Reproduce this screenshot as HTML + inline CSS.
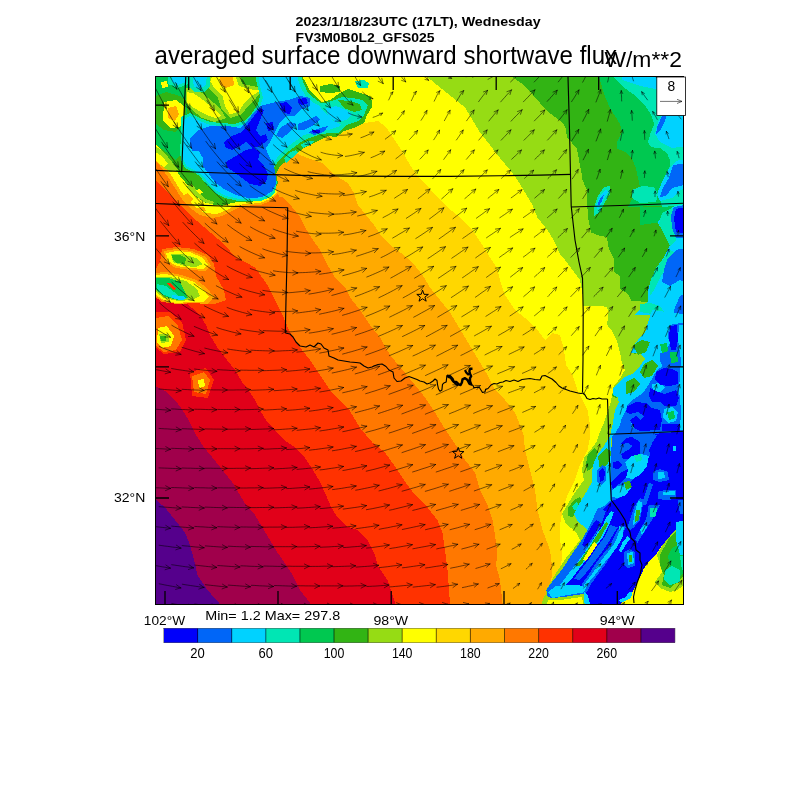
<!DOCTYPE html>
<html><head><meta charset="utf-8"><title>averaged surface downward shortwave flux</title>
<style>html,body{margin:0;padding:0;background:#fff;}body{width:800px;height:800px;overflow:hidden;font-family:"Liberation Sans",sans-serif;}svg{display:block;will-change:transform;}text{font-family:"Liberation Sans",sans-serif;fill:#000;}</style>
</head><body>
<svg width="800" height="800" viewBox="0 0 800 800">
<rect x="0" y="0" width="800" height="800" fill="#ffffff"/>
<defs><clipPath id="pc"><rect x="155.5" y="76.5" width="528.0" height="528.0"/></clipPath></defs>
<g clip-path="url(#pc)" shape-rendering="crispEdges">
<rect x="155.5" y="76.5" width="528.0" height="528.0" fill="#32b414"/>
<path d="M512.5 70.0 L512.5 77.0 L525.0 86.0 L533.0 95.0 L540.0 103.0 L546.0 110.0 L555.0 117.0 L563.0 123.0 L566.0 129.0 L567.0 138.0 L572.0 143.0 L577.0 149.0 L579.0 160.0 L581.0 170.0 L582.5 180.0 L586.5 189.0 L587.3 206.0 L588.3 219.0 L590.9 232.4 L599.0 235.6 L607.0 237.2 L608.7 248.6 L613.6 258.4 L613.6 271.4 L620.0 276.2 L620.0 289.2 L628.2 294.0 L631.5 300.6 L647.7 302.2 L660.0 302.0 L700.0 330.0 L700.0 610.0 L140.0 615.0 L140.0 60.0Z" fill="#96dc14"/>
<path d="M427.5 70.0 L427.5 77.0 L440.0 87.5 L452.5 97.5 L465.0 107.5 L472.5 120.0 L480.0 132.5 L490.0 145.0 L500.0 158.0 L510.0 170.0 L517.5 180.0 L525.0 192.5 L532.5 205.0 L537.5 217.5 L547.5 230.0 L555.0 242.5 L560.0 254.0 L565.0 260.0 L572.5 270.0 L580.0 280.0 L582.7 295.0 L582.7 305.5 L600.0 306.0 L607.0 307.0 L608.7 312.0 L607.0 324.7 L612.0 331.0 L616.9 341.0 L620.0 352.4 L621.7 362.0 L625.0 370.0 L620.0 378.4 L613.6 386.5 L612.0 396.0 L610.0 405.0 L605.0 420.0 L600.0 432.0 L596.0 443.0 L650.0 610.0 L140.0 615.0 L140.0 60.0Z" fill="#ffff00"/>
<path d="M150.0 70.0 L250.0 80.0 L320.0 100.0 L364.0 123.0 L378.0 121.0 L386.0 127.0 L394.0 139.0 L402.0 151.0 L410.0 165.0 L418.0 177.0 L430.0 189.0 L440.0 200.0 L447.5 207.5 L460.0 217.5 L472.5 230.0 L482.5 245.0 L490.0 257.5 L497.0 268.0 L500.0 280.0 L505.0 295.0 L515.0 310.0 L527.5 320.0 L537.5 330.0 L545.0 340.0 L552.5 333.0 L560.0 335.0 L564.0 350.0 L566.0 365.0 L572.5 375.0 L577.5 390.0 L582.5 400.0 L587.5 410.0 L590.0 425.0 L590.0 437.0 L587.5 450.0 L580.0 465.0 L575.0 480.0 L567.5 495.0 L562.5 510.0 L560.0 525.0 L560.0 540.0 L562.5 555.0 L560.0 570.0 L552.0 585.0 L548.0 597.0 L547.0 610.0 L140.0 615.0 L140.0 60.0Z" fill="#ffd700"/>
<path d="M150.0 90.0 L220.0 120.0 L270.0 140.0 L300.0 155.0 L310.0 159.0 L322.0 163.0 L330.0 171.0 L338.0 177.0 L348.0 183.0 L354.0 193.0 L358.0 205.0 L366.0 215.0 L374.0 225.0 L382.0 237.0 L390.0 245.0 L397.5 250.0 L412.5 262.5 L422.5 275.0 L430.0 287.5 L440.0 300.0 L450.0 312.5 L457.5 325.0 L465.0 337.5 L472.5 350.0 L480.0 362.5 L487.5 375.0 L495.0 390.0 L505.0 400.0 L515.0 412.5 L520.0 425.0 L523.5 435.0 L525.0 450.0 L530.0 470.0 L535.0 490.0 L537.5 510.0 L542.5 530.0 L550.0 550.0 L552.5 570.0 L550.0 590.0 L547.5 603.0 L547.0 610.0 L140.0 615.0Z" fill="#ffaa00"/>
<path d="M150.0 120.0 L200.0 160.0 L240.0 185.0 L270.0 196.0 L282.0 197.0 L292.0 207.0 L300.0 217.0 L306.0 229.0 L313.0 240.0 L320.0 250.0 L327.5 265.0 L335.0 277.5 L345.0 287.5 L350.0 297.5 L360.0 310.0 L370.0 325.0 L380.0 337.5 L390.0 355.0 L402.5 370.0 L415.0 385.0 L425.0 397.5 L435.0 412.5 L442.5 425.0 L452.5 440.0 L465.0 460.0 L475.0 472.5 L480.0 490.0 L487.5 505.0 L492.5 520.0 L495.0 535.0 L497.5 552.5 L496.0 565.0 L500.0 580.0 L502.5 603.0 L503.0 610.0 L140.0 615.0Z" fill="#ff7800"/>
<path d="M150.0 175.0 L155.0 180.0 L175.0 200.0 L190.0 215.0 L207.5 230.0 L225.0 245.0 L235.0 257.0 L245.0 262.0 L255.0 267.5 L267.5 285.0 L275.0 300.0 L282.5 315.0 L290.0 332.5 L300.0 347.5 L310.0 360.0 L320.0 375.0 L330.0 390.0 L340.0 401.0 L350.0 411.0 L360.0 428.0 L372.5 442.5 L385.0 452.5 L397.5 470.0 L407.5 485.0 L415.0 495.0 L427.5 507.5 L437.5 520.0 L442.5 532.5 L445.0 550.0 L447.5 570.0 L449.0 590.0 L450.0 603.0 L450.0 610.0 L140.0 615.0Z" fill="#ff3200"/>
<path d="M150.0 297.0 L155.0 298.0 L175.0 301.0 L187.5 304.0 L200.0 315.0 L206.0 325.0 L210.0 335.0 L217.5 347.5 L225.0 357.5 L235.0 370.0 L242.5 382.5 L250.0 392.5 L255.0 400.0 L260.0 410.0 L266.0 420.0 L275.0 430.0 L284.0 440.0 L296.0 448.0 L305.0 458.0 L313.0 470.0 L320.0 482.0 L326.0 495.0 L331.0 507.0 L338.0 518.0 L348.0 527.0 L358.0 530.0 L367.5 540.0 L375.0 555.0 L377.5 565.0 L387.5 580.0 L392.5 595.0 L395.0 603.0 L396.0 610.0 L140.0 615.0Z" fill="#e10019"/>
<path d="M150.0 383.0 L155.0 386.0 L165.0 391.0 L175.0 400.0 L182.5 410.0 L190.0 422.5 L196.0 435.0 L204.0 447.5 L212.5 457.5 L222.5 470.0 L232.5 482.5 L240.0 495.0 L246.0 505.0 L255.0 515.0 L262.5 527.5 L270.0 540.0 L277.5 552.5 L286.0 565.0 L292.5 575.0 L300.0 590.0 L310.0 603.0 L313.0 610.0 L140.0 615.0Z" fill="#a0004b"/>
<path d="M150.0 494.0 L155.0 499.0 L165.0 507.5 L175.0 520.0 L185.0 532.5 L190.0 545.0 L194.0 560.0 L197.5 575.0 L207.5 590.0 L219.0 603.0 L221.0 610.0 L140.0 615.0Z" fill="#55008c"/>
<path d="M150.0 160.0 L160.0 170.0 L168.0 182.0 L176.0 194.0 L184.0 205.0 L192.0 214.0 L204.0 221.0 L218.0 223.0 L230.0 218.0 L240.0 211.0 L250.0 208.0 L262.0 207.0 L272.0 203.0 L279.0 196.0 L150.0 60.0Z" fill="#ff7800"/>
<path d="M150.0 156.0 L160.0 166.0 L168.0 177.0 L175.0 188.0 L182.0 199.0 L190.0 208.0 L200.0 215.0 L212.0 218.0 L222.0 216.0 L232.0 211.0 L240.0 207.0 L250.0 205.5 L262.0 204.5 L271.0 200.5 L278.0 194.0 L150.0 60.0Z" fill="#ffaa00"/>
<path d="M150.0 150.0 L158.0 158.0 L166.0 168.0 L173.0 178.0 L180.0 190.0 L187.0 199.0 L195.0 207.0 L205.0 213.0 L217.0 214.0 L227.0 210.0 L236.0 205.0 L248.0 204.0 L260.0 203.0 L270.0 199.0 L277.0 192.0 L150.0 60.0Z" fill="#ffff00"/>
<path d="M183.0 196.0 L188.0 193.0 L193.0 199.0 L190.0 204.0 L185.0 202.0Z" fill="#ffaa00"/>
<path d="M196.0 208.0 L204.0 207.0 L206.0 211.0 L198.0 212.0Z" fill="#ffaa00"/>
<path d="M150.0 60.0 L302.0 60.0 L302.0 76.0 L306.0 83.0 L310.0 91.0 L316.0 97.0 L322.0 102.0 L330.0 100.0 L340.0 93.0 L348.0 89.0 L360.0 93.0 L370.0 96.0 L372.0 101.0 L372.0 107.0 L367.0 115.0 L364.0 123.0 L356.0 127.0 L344.0 131.0 L336.0 137.0 L328.0 136.0 L320.0 140.0 L312.0 144.0 L304.0 148.0 L296.0 154.0 L288.0 160.0 L280.0 166.0 L276.0 174.0 L278.0 183.0 L274.0 191.0 L268.0 197.0 L260.0 200.5 L250.0 202.0 L240.0 201.5 L232.0 203.0 L222.5 205.6 L215.0 205.0 L205.0 202.5 L195.0 196.0 L187.5 185.0 L180.0 176.0 L176.0 170.0 L170.0 162.0 L163.0 152.0 L155.0 143.0 L150.0 138.0Z" fill="#32b414"/>
<path d="M186.0 186.0 L192.0 184.0 L198.0 192.0 L206.0 199.0 L214.0 202.0 L212.0 204.5 L204.0 202.0 L196.0 196.0 L189.0 190.0Z" fill="#96dc14"/>
<path d="M196.0 190.0 L200.0 189.0 L203.0 193.0 L199.0 194.0Z" fill="#ffff00"/>
<path d="M320.0 86.0 L330.0 84.0 L340.0 86.0 L340.0 92.0 L330.0 93.0 L320.0 92.0Z" fill="#32b414"/>
<path d="M284.0 158.0 L290.0 152.0 L296.0 150.0 L298.0 153.0 L292.0 158.0 L286.0 163.0Z" fill="#00e6b4"/>
<path d="M300.0 145.0 L308.0 141.0 L314.0 141.0 L310.0 145.0 L303.0 148.0Z" fill="#00e6b4"/>
<path d="M355.0 81.0 L364.0 80.0 L369.0 83.0 L368.0 88.0 L358.0 88.0Z" fill="#00e6b4"/>
<path d="M150.0 60.0 L200.0 60.0 L204.0 84.0 L196.0 92.0 L188.0 96.0 L186.0 120.0 L184.0 150.0 L176.0 160.0 L166.0 152.0 L158.0 146.0 L150.0 140.0Z" fill="#00c850"/>
<path d="M156.0 96.0 L166.0 92.0 L180.0 96.0 L186.0 100.0 L186.0 120.0 L176.0 132.0 L164.0 130.0 L156.0 124.0Z" fill="#32b414"/>
<path d="M164.0 102.0 L176.0 100.0 L184.0 106.0 L184.0 118.0 L180.0 127.0 L170.0 128.0 L163.0 120.0Z" fill="#ffff00"/>
<path d="M168.0 108.0 L176.0 106.0 L179.0 114.0 L175.0 121.0 L168.0 118.0Z" fill="#ffaa00"/>
<path d="M186.0 88.0 L196.0 88.0 L208.0 98.0 L220.0 108.0 L226.0 118.0 L214.0 122.0 L202.0 118.0 L192.0 110.0 L186.0 104.0Z" fill="#96dc14"/>
<path d="M186.5 92.0 L194.0 93.5 L204.5 101.0 L215.0 110.0 L221.0 116.0 L215.0 118.0 L204.5 114.0 L194.0 108.0 L186.5 102.5Z" fill="#ffff00"/>
<path d="M208.0 74.0 L240.0 74.0 L242.0 84.0 L252.0 86.0 L264.0 88.0 L256.0 98.0 L248.0 106.0 L242.0 114.0 L230.0 118.0 L222.0 110.0 L218.0 98.0 L212.0 92.0 L206.0 84.0Z" fill="#96dc14"/>
<path d="M212.0 77.0 L236.0 77.0 L239.0 86.0 L248.0 89.0 L260.0 90.5 L251.0 96.5 L243.5 104.0 L239.0 111.5 L230.0 114.5 L225.5 107.0 L222.5 96.5 L215.0 89.0 L210.5 81.5Z" fill="#ffff00"/>
<path d="M219.5 76.0 L233.0 76.0 L234.0 85.0 L226.0 88.0 L220.0 85.0Z" fill="#ffaa00"/>
<path d="M155.0 146.0 L164.0 152.0 L172.0 162.0 L178.0 170.0 L170.0 172.0 L162.0 166.0 L155.0 160.0Z" fill="#96dc14"/>
<path d="M155.0 152.0 L162.0 156.0 L168.0 164.0 L164.0 167.0 L158.0 163.0 L155.0 160.0Z" fill="#ffff00"/>
<path d="M168.0 76.0 L188.0 76.0 L188.0 84.0 L178.0 88.0 L168.0 84.0Z" fill="#00e6b4"/>
<path d="M172.0 76.0 L186.0 76.0 L186.0 82.0 L178.0 85.0 L172.0 82.0Z" fill="#00d2ff"/>
<path d="M188.0 74.0 L210.0 74.0 L210.0 86.0 L204.0 92.0 L194.0 92.0 L188.0 86.0Z" fill="#00e6b4"/>
<path d="M192.0 74.0 L207.0 74.0 L206.0 85.0 L200.0 89.0 L194.0 87.0Z" fill="#00d2ff"/>
<path d="M161.0 82.0 L167.0 81.0 L168.0 87.0 L162.0 88.0Z" fill="#ffff00"/>
<path d="M181.0 117.0 L190.0 113.0 L200.0 118.0 L210.0 122.0 L222.0 123.0 L234.0 124.0 L244.0 121.0 L252.0 113.0 L258.0 104.0 L260.0 96.0 L258.0 88.0 L256.0 80.0 L256.0 72.0 L300.0 72.0 L304.0 84.0 L308.0 93.0 L314.0 98.0 L322.0 104.0 L332.0 101.0 L342.0 97.0 L352.0 98.0 L362.0 100.0 L368.0 105.0 L364.0 115.0 L358.0 121.0 L346.0 125.0 L338.0 133.0 L328.0 133.0 L319.0 135.0 L309.0 138.0 L301.0 142.0 L293.0 148.0 L285.0 154.0 L278.0 161.0 L273.0 170.0 L277.0 182.0 L275.0 192.0 L270.0 197.0 L262.0 200.5 L250.0 201.5 L236.0 200.5 L225.0 198.0 L215.0 193.0 L207.5 185.5 L200.0 176.5 L192.5 171.5 L185.0 168.0 L181.0 160.0 L180.0 152.0 L181.0 137.0Z" fill="#00e6b4"/>
<path d="M183.0 120.0 L190.0 116.0 L200.0 121.0 L210.0 125.0 L222.0 126.0 L234.0 127.0 L245.0 124.0 L253.0 116.0 L260.0 107.0 L263.0 98.0 L261.0 90.0 L259.0 82.0 L259.0 72.0 L296.0 72.0 L300.0 86.0 L306.0 97.0 L314.0 103.0 L322.0 107.0 L332.0 104.0 L342.0 101.0 L352.0 103.0 L360.0 106.0 L356.0 114.0 L346.0 121.0 L338.0 127.0 L328.0 130.0 L316.0 132.0 L304.0 135.0 L294.0 142.0 L286.0 148.0 L279.0 155.0 L274.0 163.0 L271.0 172.0 L275.0 182.0 L273.0 190.0 L268.0 195.0 L260.0 198.5 L249.0 199.5 L237.0 198.5 L226.0 196.0 L217.0 191.0 L209.5 184.0 L202.0 175.5 L194.0 170.0 L187.0 166.5 L183.5 160.0 L182.5 152.0 L183.0 137.0Z" fill="#00d2ff"/>
<path d="M190.0 138.0 L198.0 130.0 L210.0 126.0 L228.0 126.0 L240.0 128.0 L248.0 120.0 L254.0 112.0 L260.0 106.0 L268.0 104.0 L276.0 102.0 L288.0 100.0 L300.0 96.0 L310.0 98.0 L310.0 106.0 L300.0 110.0 L294.0 116.0 L286.0 116.0 L280.0 122.0 L276.0 130.0 L270.0 142.0 L266.0 148.0 L268.0 154.0 L274.0 166.0 L276.0 177.5 L276.0 184.0 L272.5 191.0 L262.5 197.0 L250.0 198.5 L236.0 195.0 L224.0 189.0 L215.0 182.5 L209.0 174.0 L203.5 167.0 L203.0 158.0 L198.5 150.5 L192.5 150.5 L190.0 146.0Z" fill="#0066f8"/>
<path d="M318.0 104.0 L330.0 102.0 L342.0 99.0 L354.0 100.0 L364.0 103.0 L366.0 110.0 L360.0 118.0 L350.0 122.0 L340.0 124.0 L332.0 120.0 L324.0 112.0Z" fill="#00e6b4"/>
<path d="M338.0 100.0 L350.0 101.0 L360.0 104.0 L362.0 110.0 L354.0 112.0 L344.0 108.0Z" fill="#32b414"/>
<path d="M326.0 108.0 L336.0 106.0 L346.0 110.0 L352.0 114.0 L346.0 120.0 L336.0 122.0 L328.0 116.0Z" fill="#00d2ff"/>
<path d="M298.0 124.0 L308.0 120.0 L316.0 116.0 L320.0 120.0 L312.0 126.0 L304.0 130.0 L298.0 130.0Z" fill="#0066f8"/>
<path d="M308.0 132.0 L320.0 128.0 L328.0 126.0 L324.0 132.0 L314.0 135.0Z" fill="#0066f8"/>
<path d="M280.0 128.0 L290.0 122.0 L296.0 124.0 L290.0 132.0 L282.0 138.0 L276.0 136.0Z" fill="#0066f8"/>
<path d="M226.0 162.0 L236.0 156.0 L246.0 150.0 L254.0 148.0 L260.0 152.0 L258.0 160.0 L264.0 166.0 L268.0 174.0 L266.0 182.0 L260.0 186.0 L250.0 184.0 L242.0 178.0 L234.0 172.0 L228.0 168.0Z" fill="#0000fa"/>
<path d="M224.0 142.0 L232.0 136.0 L242.0 132.0 L248.0 124.0 L254.0 116.0 L260.0 108.0 L264.0 110.0 L260.0 120.0 L256.0 130.0 L260.0 136.0 L266.0 134.0 L268.0 140.0 L260.0 146.0 L252.0 148.0 L246.0 142.0 L240.0 146.0 L232.0 150.0 L226.0 148.0Z" fill="#0000fa"/>
<path d="M280.0 103.0 L287.0 102.0 L292.0 108.0 L290.0 114.0 L284.0 113.0 L281.0 108.0Z" fill="#0000fa"/>
<path d="M298.0 99.0 L306.0 98.0 L308.0 103.0 L302.0 105.0 L298.0 103.0Z" fill="#0000fa"/>
<path d="M266.0 123.0 L273.0 122.0 L274.0 129.0 L268.0 131.0Z" fill="#0000fa"/>
<path d="M312.0 130.0 L320.0 129.5 L320.0 133.0 L313.0 133.5Z" fill="#0000fa"/>
<path d="M162.0 249.0 L176.0 247.0 L194.0 249.0 L208.0 255.0 L214.0 264.0 L216.0 276.0 L224.0 290.0 L226.0 300.0 L214.0 304.0 L196.0 303.0 L178.0 304.0 L162.0 302.0 L154.0 296.0 L154.0 272.0 L160.0 262.0Z" fill="#ff7800"/>
<path d="M164.0 251.0 L176.0 249.0 L192.0 251.0 L206.0 257.0 L211.0 266.0 L205.0 271.0 L190.0 270.0 L176.0 268.0 L166.0 262.0Z" fill="#ffaa00"/>
<path d="M166.0 253.0 L176.0 251.0 L190.0 252.0 L203.0 258.0 L208.0 265.0 L203.0 269.0 L190.0 268.0 L177.0 266.0 L168.0 261.0Z" fill="#ffff00"/>
<path d="M171.0 254.0 L182.0 254.0 L196.0 258.0 L203.0 264.0 L196.0 267.0 L184.0 266.0 L173.0 262.0Z" fill="#96dc14"/>
<path d="M172.0 255.0 L180.0 255.0 L186.0 258.0 L185.0 264.0 L177.0 263.0 L173.0 260.0Z" fill="#32b414"/>
<path d="M154.0 273.0 L166.0 272.0 L182.0 275.0 L196.0 280.0 L206.0 287.0 L214.0 297.0 L208.0 304.0 L192.0 303.0 L176.0 304.0 L163.0 301.0 L154.0 295.0Z" fill="#ffaa00"/>
<path d="M154.0 275.0 L166.0 274.0 L180.0 277.0 L194.0 282.0 L203.0 289.0 L209.0 297.0 L203.0 302.0 L190.0 302.0 L176.0 303.0 L164.0 300.0 L154.0 294.0Z" fill="#ffff00"/>
<path d="M155.0 277.0 L170.0 277.0 L186.0 281.0 L197.0 289.0 L200.0 296.0 L192.0 300.0 L178.0 301.0 L164.0 298.0 L155.0 291.0Z" fill="#96dc14"/>
<path d="M155.0 278.0 L168.0 278.0 L180.0 282.0 L184.0 290.0 L188.0 298.0 L178.0 300.0 L166.0 297.0 L156.0 290.0Z" fill="#00c850"/>
<path d="M157.0 284.0 L166.0 286.0 L174.0 292.0 L180.0 297.0 L172.0 298.0 L162.0 294.0 L157.0 289.0Z" fill="#00e6b4"/>
<path d="M172.0 295.0 L184.0 296.5 L187.0 299.0 L180.0 300.0 L172.0 298.0Z" fill="#00d2ff"/>
<path d="M166.0 283.0 L170.0 283.0 L176.0 289.0 L173.0 290.0Z" fill="#ff3200"/>
<path d="M156.0 312.0 L170.0 312.0 L182.0 322.0 L186.0 340.0 L180.0 352.0 L164.0 354.0 L156.0 348.0Z" fill="#ff3200"/>
<path d="M156.0 318.0 L168.0 316.0 L178.0 326.0 L182.0 340.0 L176.0 350.0 L164.0 352.0 L156.0 346.0Z" fill="#ff7800"/>
<path d="M158.0 328.0 L167.0 326.0 L174.0 336.0 L171.0 346.0 L162.0 348.0 L157.0 342.0Z" fill="#ffff00"/>
<path d="M159.0 334.0 L168.0 334.0 L169.0 342.0 L161.0 343.0Z" fill="#96dc14"/>
<path d="M160.0 336.0 L166.0 336.0 L166.0 341.0 L161.0 341.0Z" fill="#32b414"/>
<path d="M190.0 372.0 L206.0 368.0 L214.0 380.0 L208.0 398.0 L192.0 396.0Z" fill="#ff3200"/>
<path d="M192.0 376.0 L204.0 372.0 L210.0 380.0 L206.0 394.0 L194.0 392.0Z" fill="#ff7800"/>
<path d="M198.0 380.0 L204.0 379.0 L205.0 386.0 L199.0 388.0Z" fill="#ffff00"/>
<path d="M599.0 70.0 L599.0 77.0 L602.0 87.0 L605.0 96.5 L609.0 106.0 L615.0 116.0 L620.0 124.0 L622.0 132.0 L617.0 142.0 L617.0 148.5 L625.0 152.0 L631.5 158.0 L636.0 168.0 L638.0 178.0 L640.0 187.5 L636.0 194.0 L631.5 200.5 L628.0 207.0 L690.0 205.0 L690.0 70.0Z" fill="#00c850"/>
<path d="M613.6 70.0 L613.6 77.0 L625.0 88.4 L636.4 96.5 L644.5 104.6 L651.0 114.4 L654.2 124.0 L651.0 132.0 L647.7 142.0 L651.0 147.0 L660.7 148.5 L667.2 153.4 L670.5 161.5 L669.0 169.6 L664.0 177.7 L660.7 187.5 L659.0 194.0 L662.0 207.0 L690.0 207.0 L690.0 70.0Z" fill="#00e6b4"/>
<path d="M622.0 70.0 L622.0 80.0 L640.0 86.0 L660.0 90.0 L690.0 90.0 L690.0 70.0Z" fill="#00d2ff"/>
<path d="M664.0 112.0 L690.0 112.0 L690.0 146.0 L672.0 148.0 L660.0 142.0 L655.0 134.0 L658.0 122.0Z" fill="#00d2ff"/>
<path d="M662.0 116.0 L666.5 116.0 L664.0 123.0 L660.0 131.0 L656.0 134.0 L657.5 126.0Z" fill="#0066f8"/>
<path d="M690.0 158.0 L676.0 161.0 L668.0 170.0 L662.0 182.0 L657.0 194.0 L660.0 201.0 L672.0 198.0 L680.0 190.0 L690.0 188.0Z" fill="#00d2ff"/>
<path d="M690.0 163.0 L673.0 165.0 L669.0 178.0 L663.0 188.0 L660.0 197.0 L666.0 196.0 L672.0 188.0 L680.0 186.0 L690.0 184.0Z" fill="#0066f8"/>
<path d="M632.0 190.0 L642.0 186.0 L654.0 187.0 L658.0 194.0 L656.0 202.0 L640.0 203.0 L632.0 198.0Z" fill="#00e6b4"/>
<path d="M594.0 207.0 L598.0 196.0 L604.0 187.0 L610.0 186.0 L610.0 194.0 L604.0 204.0 L600.0 212.0 L594.0 216.0Z" fill="#00e6b4"/>
<path d="M596.0 205.0 L600.0 196.0 L606.0 189.0 L608.0 192.0 L603.0 201.0 L598.0 210.0Z" fill="#00d2ff"/>
<path d="M598.0 203.0 L601.0 197.0 L604.0 195.0 L602.0 201.0 L599.0 206.0Z" fill="#0066f8"/>
<path d="M640.0 207.0 L673.7 206.4 L664.0 212.9 L657.5 222.6 L640.0 225.0Z" fill="#00c850"/>
<path d="M690.0 203.0 L673.7 206.4 L664.0 212.9 L657.5 222.6 L665.6 235.6 L670.5 243.8 L664.0 256.8 L657.5 266.5 L651.0 279.5 L647.7 292.5 L647.7 302.2 L634.7 315.0 L690.0 315.0Z" fill="#00d2ff"/>
<path d="M662.0 213.0 L672.0 208.0 L677.0 222.0 L676.0 240.0 L670.0 246.0 L666.0 238.0 L659.0 224.0Z" fill="#00e6b4"/>
<path d="M656.0 268.0 L664.0 258.0 L670.0 250.0 L674.0 252.0 L668.0 264.0 L660.0 278.0 L654.0 290.0 L650.0 296.0 L650.0 282.0Z" fill="#00e6b4"/>
<path d="M640.0 304.0 L650.0 303.0 L660.0 306.0 L664.0 312.0 L652.0 314.0 L640.0 312.0Z" fill="#00e6b4"/>
<path d="M690.0 204.0 L674.0 207.0 L671.0 216.0 L672.0 228.0 L676.0 238.0 L690.0 238.0Z" fill="#0066f8"/>
<path d="M690.0 206.0 L676.0 209.0 L674.0 218.0 L676.0 232.0 L690.0 234.0Z" fill="#0000fa"/>
<path d="M690.0 247.0 L676.0 250.0 L668.0 258.0 L664.0 270.0 L662.0 282.0 L670.0 286.0 L680.0 280.0 L690.0 284.0Z" fill="#0066f8"/>
<path d="M690.0 292.0 L680.0 296.0 L674.0 310.0 L672.0 325.0 L690.0 325.0Z" fill="#0066f8"/>
<path d="M634.7 315.0 L636.4 323.0 L644.5 324.7 L651.0 331.0 L647.7 341.0 L641.0 350.7 L633.0 355.6 L638.0 362.0 L629.9 371.9 L623.4 378.4 L615.0 386.5 L613.0 396.0 L617.5 399.0 L618.0 403.0 L614.5 411.0 L613.0 418.0 L612.0 426.0 L609.5 436.0 L598.0 440.0 L592.0 448.0 L584.0 458.0 L582.0 470.0 L584.0 480.0 L574.0 494.0 L568.0 504.0 L562.0 514.0 L566.0 524.0 L576.0 532.0 L580.0 540.0 L574.0 548.0 L566.0 558.0 L558.0 570.0 L552.0 580.0 L546.0 590.0 L544.0 610.0 L690.0 610.0 L690.0 315.0Z" fill="#96dc14"/>
<path d="M640.0 337.0 L648.0 330.0 L654.0 334.0 L650.0 344.0 L642.0 352.0 L634.0 354.0 L634.0 346.0Z" fill="#32b414"/>
<path d="M615.0 386.0 L622.0 380.0 L628.0 384.0 L622.0 392.0 L616.0 398.0 L612.0 396.0Z" fill="#32b414"/>
<path d="M588.0 454.0 L594.0 448.0 L598.0 451.0 L596.0 461.0 L591.0 469.0 L587.0 471.0 L586.0 464.0Z" fill="#32b414"/>
<path d="M568.0 508.0 L574.0 500.0 L580.0 497.0 L583.0 503.0 L578.0 511.0 L572.0 517.0 L568.0 516.0Z" fill="#32b414"/>
<path d="M572.0 506.0 L577.0 502.0 L579.0 506.0 L575.0 511.0Z" fill="#00e6b4"/>
<path d="M652.0 310.0 L645.0 332.5 L640.0 337.5 L635.0 343.8 L631.0 352.5 L640.0 353.8 L645.0 358.8 L640.0 366.0 L632.5 373.8 L623.8 377.5 L617.5 383.8 L612.5 388.8 L612.5 395.0 L617.5 397.5 L618.8 402.5 L615.0 410.0 L613.8 417.5 L612.5 425.0 L610.0 436.0 L604.0 446.0 L598.0 454.0 L594.0 462.0 L592.0 472.0 L592.0 482.0 L584.0 496.0 L578.0 506.0 L574.0 514.0 L578.0 522.0 L586.0 528.0 L590.0 536.0 L584.0 546.0 L576.0 556.0 L568.0 568.0 L562.0 578.0 L554.0 588.0 L548.0 596.0 L548.0 610.0 L690.0 610.0 L690.0 315.0Z" fill="#00d2ff"/>
<path d="M633.0 345.0 L642.0 340.0 L650.0 342.0 L646.0 352.0 L638.0 355.0Z" fill="#32b414"/>
<path d="M644.0 364.0 L652.0 360.0 L658.0 366.0 L652.0 376.0 L644.0 378.0 L640.0 372.0Z" fill="#32b414"/>
<path d="M626.0 382.0 L634.0 378.0 L640.0 384.0 L634.0 392.0 L626.0 394.0Z" fill="#32b414"/>
<path d="M598.0 456.0 L606.0 448.0 L612.0 452.0 L608.0 464.0 L600.0 470.0Z" fill="#32b414"/>
<path d="M611.0 438.0 L620.0 437.0 L622.0 446.0 L618.0 454.0 L611.0 452.0Z" fill="#96dc14"/>
<path d="M690.0 322.0 L674.0 324.0 L670.0 325.0 L667.5 335.0 L670.0 343.8 L665.0 350.0 L660.0 353.8 L660.0 361.2 L662.5 366.2 L657.5 370.0 L653.8 375.0 L650.0 382.5 L645.0 390.0 L640.0 395.0 L632.5 400.0 L627.5 405.0 L625.0 412.5 L621.2 420.0 L620.0 425.0 L616.0 432.0 L612.0 437.0 L611.0 458.0 L611.0 470.0 L611.0 486.0 L611.2 500.0 L604.0 506.0 L597.5 508.8 L592.5 520.0 L587.5 530.0 L582.5 538.8 L577.5 546.2 L571.2 555.0 L565.0 565.0 L558.8 573.8 L552.5 581.2 L546.2 590.0 L548.0 598.0 L556.0 610.0 L690.0 610.0Z" fill="#0066f8"/>
<path d="M597.5 470.0 L602.0 465.0 L606.0 467.0 L606.0 480.0 L602.0 485.0 L597.0 482.0Z" fill="#0066f8"/>
<path d="M599.0 471.0 L603.0 468.0 L605.0 472.0 L604.0 480.0 L600.0 482.0Z" fill="#0000fa"/>
<path d="M679.0 325.0 L690.0 325.0 L690.0 430.0 L680.0 430.0 L681.0 410.0 L679.0 390.0 L681.0 360.0 L678.0 340.0Z" fill="#00d2ff"/>
<path d="M660.0 344.0 L667.0 343.0 L668.0 351.0 L662.0 353.0Z" fill="#00c850"/>
<path d="M670.0 352.0 L677.0 352.0 L678.0 362.0 L671.0 363.0Z" fill="#00c850"/>
<path d="M652.0 384.0 L660.0 383.0 L665.0 387.0 L660.0 392.0 L653.0 391.0Z" fill="#00d2ff"/>
<path d="M664.0 409.0 L672.0 407.0 L678.0 412.0 L676.0 421.0 L668.0 423.0 L663.0 417.0Z" fill="#00d2ff"/>
<path d="M667.0 412.0 L674.0 411.0 L675.0 418.0 L669.0 420.0Z" fill="#00c850"/>
<path d="M631.0 420.0 L638.0 418.0 L642.0 423.0 L638.0 429.0 L632.0 428.0Z" fill="#00d2ff"/>
<path d="M670.0 326.0 L677.0 325.0 L678.0 340.0 L676.0 350.0 L671.0 350.0 L669.0 338.0Z" fill="#0000fa"/>
<path d="M656.0 372.0 L664.0 368.0 L672.0 369.0 L678.0 372.0 L678.0 384.0 L670.0 386.0 L660.0 385.0 L655.0 380.0Z" fill="#0000fa"/>
<path d="M650.0 388.0 L658.0 392.0 L664.0 394.0 L676.0 390.0 L679.0 398.0 L676.0 406.0 L664.0 406.0 L660.0 402.0 L652.0 402.0 L649.0 396.0Z" fill="#0000fa"/>
<path d="M627.5 406.0 L636.0 402.0 L646.0 403.0 L652.0 408.0 L660.0 410.0 L662.0 420.0 L660.0 430.0 L640.0 431.0 L634.0 428.0 L630.0 420.0 L636.0 416.0 L640.0 420.0 L644.0 416.0 L638.0 412.0 L630.0 414.0 L626.0 412.0Z" fill="#0000fa"/>
<path d="M662.0 424.0 L680.0 424.0 L680.0 431.0 L662.0 431.0Z" fill="#0000fa"/>
<path d="M690.0 431.0 L655.0 433.8 L652.5 440.0 L648.8 447.5 L650.0 455.0 L645.0 462.5 L642.5 468.8 L637.5 475.0 L632.5 480.0 L627.5 485.0 L625.0 492.5 L620.0 497.5 L615.0 500.0 L611.2 501.2 L604.0 508.0 L598.0 516.0 L592.0 526.0 L586.0 536.0 L580.0 545.0 L574.0 554.0 L568.0 563.0 L562.0 572.0 L556.0 580.0 L551.0 588.0 L556.0 594.0 L566.0 591.0 L576.0 589.0 L584.0 588.0 L587.0 596.0 L590.0 610.0 L627.5 610.0 L631.0 597.5 L632.5 592.5 L636.0 585.0 L640.0 577.5 L643.8 568.8 L650.0 560.0 L657.5 552.5 L662.5 545.0 L670.0 536.0 L677.5 527.5 L683.0 521.0 L690.0 515.0Z" fill="#0000fa"/>
<path d="M621.0 444.0 L626.0 438.0 L632.0 437.0 L640.0 442.0 L640.0 456.0 L632.0 459.0 L623.0 459.0 L621.0 454.0 L628.0 450.0 L633.0 446.0 L628.0 443.0Z" fill="#0000fa"/>
<path d="M612.5 462.0 L619.0 461.0 L622.5 465.0 L618.0 469.0 L612.5 468.0Z" fill="#0000fa"/>
<path d="M611.0 483.0 L616.0 477.0 L622.0 472.0 L628.0 469.0 L631.0 472.0 L625.0 478.0 L619.0 484.0 L613.0 489.0Z" fill="#0000fa"/>
<path d="M625.0 462.0 L632.0 456.0 L641.0 454.0 L649.0 456.0 L647.0 466.0 L641.0 474.0 L633.0 479.0 L626.0 478.0 L628.0 470.0Z" fill="#00d2ff"/>
<path d="M634.0 455.0 L641.0 454.0 L642.0 460.0 L636.0 462.0Z" fill="#00e6b4"/>
<path d="M612.0 490.0 L618.0 486.0 L626.0 484.0 L631.0 488.0 L626.0 495.0 L618.0 498.0 L612.0 497.0Z" fill="#00d2ff"/>
<path d="M624.0 482.0 L630.0 481.0 L632.0 487.0 L626.0 490.0Z" fill="#32b414"/>
<path d="M652.5 433.8 L657.5 435.0 L652.5 442.5 L648.8 450.0 L645.0 450.0 L648.8 441.0Z" fill="#0066f8"/>
<path d="M652.5 472.0 L660.0 469.0 L668.0 472.0 L668.8 480.0 L660.0 482.0 L653.0 480.0Z" fill="#0066f8"/>
<path d="M657.5 472.0 L664.0 471.5 L665.0 478.0 L658.0 479.0Z" fill="#00d2ff"/>
<path d="M672.5 446.0 L676.0 446.0 L676.0 451.0 L672.5 451.0Z" fill="#00d2ff"/>
<path d="M657.5 492.0 L666.0 489.5 L676.0 490.0 L676.0 499.0 L666.0 500.0 L658.0 499.0Z" fill="#0066f8"/>
<path d="M662.5 492.0 L675.0 491.0 L675.0 495.0 L663.0 495.5Z" fill="#00d2ff"/>
<path d="M649.0 483.0 L653.0 484.0 L650.0 494.0 L646.0 505.0 L642.0 505.0 L645.0 494.0Z" fill="#0066f8"/>
<path d="M677.5 500.0 L690.0 500.0 L690.0 516.0 L680.0 514.0Z" fill="#0066f8"/>
<path d="M640.0 498.0 L644.0 500.0 L642.0 510.0 L640.0 520.0 L633.8 527.5 L630.0 530.0 L627.5 526.2 L631.0 517.0 L634.0 507.0Z" fill="#0066f8"/>
<path d="M638.0 501.0 L642.0 502.0 L641.0 512.0 L637.0 522.0 L633.0 525.0 L634.0 515.0Z" fill="#00d2ff"/>
<path d="M636.0 510.0 L640.0 510.0 L639.0 520.0 L635.0 522.0Z" fill="#32b414"/>
<path d="M648.8 505.0 L660.0 505.0 L655.0 515.0 L648.8 525.0 L642.5 535.0 L637.5 542.5 L635.0 540.0 L640.0 530.0 L646.2 518.8Z" fill="#0066f8"/>
<path d="M650.0 507.5 L657.5 507.5 L655.0 517.5 L650.0 517.0Z" fill="#00e6b4"/>
<path d="M640.0 530.0 L645.0 524.0 L647.0 527.0 L642.0 535.0Z" fill="#00d2ff"/>
<path d="M618.8 550.0 L622.5 542.5 L627.5 536.2 L630.0 538.8 L625.0 546.2 L621.2 552.5Z" fill="#00d2ff"/>
<path d="M623.8 552.0 L630.0 549.0 L635.0 552.0 L635.0 566.0 L628.0 568.0 L623.8 564.0Z" fill="#0066f8"/>
<path d="M627.0 553.0 L633.0 552.0 L634.0 563.0 L628.0 565.0Z" fill="#00d2ff"/>
<path d="M628.5 555.0 L632.0 555.0 L632.0 562.0 L628.5 562.0Z" fill="#32b414"/>
<path d="M597.5 508.8 L592.5 520.0 L587.5 530.0 L582.5 538.8 L577.5 546.2 L571.2 555.0 L565.0 565.0 L558.8 573.8 L552.5 581.2 L546.2 590.0 L548.0 597.0 L556.0 594.0 L562.0 586.0 L568.0 577.0 L574.0 568.0 L580.0 559.0 L586.0 550.0 L592.0 541.0 L598.0 531.0 L603.0 520.0 L606.0 511.0Z" fill="#0066f8"/>
<path d="M596.0 520.0 L600.0 522.0 L596.0 532.0 L590.0 541.0 L585.0 547.0 L582.0 545.0 L586.0 536.0 L591.0 527.0Z" fill="#0000fa"/>
<path d="M611.2 511.2 L613.8 512.5 L610.0 522.5 L602.5 537.5 L595.0 547.5 L587.5 558.8 L580.0 567.5 L572.5 577.5 L565.0 585.0 L560.0 585.0 L567.5 575.0 L576.2 563.8 L583.8 553.8 L590.0 543.8 L597.5 532.5 L602.5 526.0 L606.2 517.5Z" fill="#00d2ff"/>
<path d="M606.0 522.0 L608.0 524.0 L601.0 537.0 L594.0 547.0 L587.0 557.0 L580.0 566.0 L576.0 566.0 L583.0 556.0 L590.0 546.0 L597.0 535.0 L602.0 528.0Z" fill="#32b414"/>
<path d="M594.0 542.0 L597.0 545.0 L591.0 554.0 L586.0 561.0 L583.0 560.0 L588.0 551.0Z" fill="#ffff00"/>
<path d="M610.0 525.0 L617.5 527.5 L610.0 540.0 L602.5 551.2 L595.0 561.2 L587.5 571.2 L580.0 580.0 L573.8 578.8 L582.5 567.5 L590.0 557.5 L597.5 546.2 L605.0 536.2Z" fill="#0066f8"/>
<path d="M621.0 525.0 L626.0 527.0 L620.0 540.0 L612.5 553.0 L605.0 565.0 L597.5 575.0 L591.0 584.0 L587.0 592.0 L580.0 594.0 L582.0 584.0 L589.0 574.0 L596.0 563.0 L604.5 552.0 L612.0 541.0 L617.0 531.0Z" fill="#0066f8"/>
<path d="M623.8 527.5 L622.5 537.5 L617.5 546.2 L610.0 556.2 L602.5 565.0 L595.0 575.0 L588.8 582.5 L585.0 590.0 L582.5 592.5 L583.8 585.0 L591.2 575.0 L598.8 563.8 L607.5 552.5 L615.0 542.5 L618.8 532.5 L618.8 526.2Z" fill="#00d2ff"/>
<path d="M548.0 592.0 L556.0 586.0 L566.0 585.0 L576.0 585.0 L583.0 586.0 L584.0 592.0 L574.0 594.0 L562.0 596.0 L552.0 598.0Z" fill="#00d2ff"/>
<path d="M544.0 596.0 L552.0 598.0 L564.0 597.0 L576.0 595.0 L584.0 594.0 L586.0 600.0 L588.0 610.0 L540.0 610.0Z" fill="#96dc14"/>
<path d="M548.0 600.0 L560.0 600.0 L574.0 598.0 L582.0 597.0 L584.0 610.0 L546.0 610.0Z" fill="#ffff00"/>
<path d="M584.0 592.0 L588.0 596.0 L590.0 604.0 L594.0 610.0 L586.0 610.0 L584.0 600.0Z" fill="#00d2ff"/>
<path d="M621.0 602.5 L627.5 600.0 L631.0 597.5 L632.5 592.5 L629.0 592.0 L626.0 597.0 L619.0 600.0Z" fill="#00d2ff"/>
<path d="M690.0 512.0 L683.0 521.0 L677.5 527.5 L670.0 536.0 L662.5 545.0 L657.5 552.5 L650.0 560.0 L643.8 568.8 L640.0 577.5 L636.0 585.0 L632.5 592.5 L631.0 597.5 L627.5 600.0 L621.0 603.0 L618.0 610.0 L690.0 610.0Z" fill="#ffff00"/>
<path d="M662.5 545.0 L670.0 536.0 L677.5 527.5 L690.0 515.0 L690.0 580.0 L677.5 590.0 L670.0 592.0 L660.0 588.0 L655.0 582.0 L662.0 572.0 L660.0 565.0 L657.0 555.0Z" fill="#96dc14"/>
<path d="M668.0 540.0 L677.5 530.0 L683.0 528.0 L684.0 575.0 L677.5 582.0 L670.0 588.0 L662.0 585.0 L663.8 575.0 L660.0 565.0 L660.0 555.0Z" fill="#32b414"/>
<path d="M672.0 548.0 L680.0 544.0 L684.0 548.0 L684.0 572.0 L676.0 580.0 L668.0 578.0 L670.0 566.0 L668.0 556.0Z" fill="#00c850"/>
<path d="M665.0 570.0 L672.0 566.0 L680.0 570.0 L680.0 582.0 L670.0 585.0 L664.0 580.0Z" fill="#00e6b4"/>
<path d="M676.0 522.0 L690.0 520.0 L690.0 556.0 L680.0 555.0 L676.0 540.0Z" fill="#00d2ff"/>
<path d="M680.0 556.0 L690.0 556.0 L690.0 572.0 L682.0 570.0Z" fill="#00e6b4"/>
</g>
<g clip-path="url(#pc)" fill="none" stroke="#000" stroke-width="1.15" stroke-linejoin="round">
<path d="M155.0 170.4 L200.0 172.3 L250.0 174.0 L300.0 175.4 L350.0 176.1 L400.0 176.4 L450.0 176.3 L500.0 175.8 L540.0 175.1 L571.0 174.4"/>
<path d="M185.8 76.0 L183.5 125.0 L181.7 171.6"/>
<path d="M155.0 203.5 L190.0 204.9 L221.0 206.0 L255.0 207.0 L287.7 207.8 L287.0 260.0 L286.0 300.0 L285.3 333.0"/>
<path d="M568.0 77.0 L569.5 130.0 L571.2 206.0 L575.0 240.0 L579.0 262.0 L582.5 278.0 L583.2 312.0 L583.0 360.0 L582.5 392.5"/>
<path d="M571.2 207.0 L620.0 205.5 L683.0 203.2"/>
<path d="M608.7 434.3 L650.0 432.8 L683.0 431.2"/>
<path d="M607.5 399.0 L608.2 420.0 L609.0 450.0 L611.2 500.0 L615.0 505.0 L620.0 512.0 L625.0 520.0 L627.0 527.0 L630.0 532.0 L631.0 538.0 L635.0 542.0 L636.0 550.0 L640.0 553.0 L640.0 560.0 L642.0 565.0 L640.0 575.0 L637.0 583.0 L635.0 590.0 L633.5 597.0 L634.0 603.0"/>
<path d="M285.3 333.0 L290.0 334.0 L293.0 337.0 L296.0 342.0 L300.0 346.0 L306.0 347.0 L310.0 345.0 L314.0 347.0 L318.0 343.0 L321.0 344.0 L324.0 348.0 L328.0 350.0 L329.0 356.0 L334.0 358.0 L338.0 360.0 L344.0 361.0 L350.0 362.0 L356.0 362.5 L360.0 363.0 L364.0 366.0 L368.0 368.0 L372.0 367.0 L374.0 366.0 L378.0 364.5 L382.0 364.0 L386.0 366.5 L389.0 370.0 L393.0 372.0 L394.0 378.0 L397.0 381.5 L401.0 381.0 L405.0 378.0 L409.0 376.5 L413.0 378.0 L417.0 379.5 L420.0 381.0 L424.0 382.0 L427.0 384.0 L430.0 383.0 L433.0 381.0 L435.0 379.0 L437.0 380.5 L437.5 384.5 L438.5 389.0 L440.0 391.2 L441.9 390.0 L442.5 384.4 L443.8 383.1 L446.2 381.9 L446.9 375.6 L450.0 376.2 L452.5 378.8 L453.8 381.9 L456.2 381.9 L458.8 384.4 L460.6 385.0 L461.9 382.5 L462.5 379.4 L465.0 378.1 L467.5 380.0 L469.4 383.8 L471.2 384.4 L473.1 385.6 L473.8 387.5 L477.5 387.2 L479.4 387.5 L482.5 392.5 L485.0 391.9 L485.6 389.4 L488.0 388.5 L491.0 385.0 L494.0 383.5 L497.0 384.0 L500.0 382.5 L503.0 382.0 L506.0 380.5 L510.0 381.5 L514.0 380.0 L518.0 381.5 L522.0 379.5 L526.0 379.0 L530.0 378.5 L535.0 379.5 L540.0 380.0 L542.0 376.0 L545.0 375.5 L548.0 377.0 L552.0 379.0 L556.0 382.5 L559.0 386.0 L562.0 388.0 L566.0 389.5 L570.0 391.0 L574.0 392.0 L578.0 393.0 L581.0 393.5 L583.0 393.0 L585.0 395.0 L587.0 398.5 L590.0 399.5 L593.0 398.5 L596.0 399.0 L599.0 398.0 L602.0 399.0 L607.5 399.0"/>
<path d="M446.9 375.6 L450.0 376.2 L452.5 378.8 L453.8 381.9 L456.2 381.9 L458.8 384.4 L460.6 385.0 L461.9 382.5 L462.5 379.4 L465.0 378.1 L467.5 380.0 L469.4 383.8 L471.2 384.4 L470.0 381.2 L470.0 378.1 L471.2 376.2 L470.0 373.8 L469.4 371.2 L470.0 368.8 L472.5 368.8" stroke-width="2.4"/>
<path d="M447.5 377.0 L450.5 378.0 L452.5 381.0 L455.0 383.5 L458.0 385.5" stroke-width="1.6"/>
<path d="M465.0 370.0 L466.2 372.5 L468.1 374.4 L469.4 373.8" stroke-width="2.2"/>
</g>
<g clip-path="url(#pc)" fill="none" stroke="#000" stroke-width="0.55" stroke-linecap="round">
<path d="M163.2 63.6 L164.9 66.8 L166.6 70.0 L168.3 73.1 L170.0 76.3 L171.7 79.5 L173.4 82.6 L175.1 85.8 L176.8 89.0 M176.8 89.0 L176.6 83.6 M176.8 89.0 L172.4 85.8 M185.3 62.2 L187.2 65.7 L189.2 69.2 L191.1 72.8 L193.1 76.3 L195.1 79.8 L197.0 83.4 L199.0 86.9 L201.0 90.4 M201.0 90.4 L200.7 85.0 M201.0 90.4 L196.5 87.3 M207.3 60.7 L209.6 64.6 L211.8 68.5 L214.0 72.4 L216.2 76.3 L218.4 80.2 L220.6 84.1 L222.9 88.0 L225.1 91.9 M225.1 91.9 L224.7 86.5 M225.1 91.9 L220.6 88.8 M229.8 60.0 L232.2 64.1 L234.6 68.2 L236.9 72.2 L239.3 76.3 L241.7 80.4 L244.1 84.4 L246.4 88.5 L248.8 92.6 M248.8 92.6 L248.4 87.2 M248.8 92.6 L244.3 89.6 M252.9 60.4 L255.3 64.4 L257.6 68.4 L260.0 72.3 L262.4 76.3 L264.8 80.3 L267.2 84.2 L269.6 88.2 L271.9 92.1 M271.9 92.1 L271.5 86.8 M271.9 92.1 L267.4 89.2 M276.0 60.8 L278.4 64.7 L280.7 68.6 L283.1 72.4 L285.5 76.3 L287.9 80.2 L290.3 84.0 L292.7 87.9 L295.1 91.7 M295.1 91.7 L294.5 86.3 M295.1 91.7 L290.5 88.9 M300.0 62.5 L302.2 65.9 L304.3 69.4 L306.5 72.8 L308.6 76.3 L310.7 79.8 L312.9 83.2 L315.0 86.7 L317.3 90.1 M317.3 90.1 L316.6 84.7 M317.3 90.1 L312.6 87.3 M324.8 64.9 L326.6 67.7 L328.3 70.6 L330.0 73.4 L331.7 76.3 L333.4 79.2 L335.1 82.0 L336.9 84.8 L338.7 87.6 M338.7 87.6 L338.1 82.3 M338.7 87.6 L334.1 84.9 M349.4 67.1 L350.8 69.4 L352.1 71.7 L353.5 74.0 L354.8 76.3 L356.1 78.6 L357.5 80.9 L359.0 83.1 L360.5 85.3 M360.5 85.3 L359.7 80.0 M360.5 85.3 L355.8 82.6 M373.1 68.8 L374.3 70.7 L375.5 72.6 L376.7 74.4 L377.9 76.3 L379.1 78.2 L380.3 80.0 L381.7 81.8 L383.1 83.5 M383.1 83.5 L381.8 78.3 M383.1 83.5 L378.2 81.3 M396.6 70.5 L397.7 72.0 L398.8 73.4 L399.9 74.9 L401.0 76.3 L402.1 77.7 L403.2 79.2 L404.4 80.5 L405.7 81.8 M405.7 81.8 L404.3 77.7 M405.7 81.8 L401.6 80.4 M419.9 72.2 L420.9 73.2 L422.0 74.3 L423.0 75.3 L424.1 76.3 L425.2 77.3 L426.2 78.3 L427.3 79.3 L428.5 80.2 M428.5 80.2 L426.9 77.0 M428.5 80.2 L425.0 79.5 M443.0 74.1 L444.0 74.7 L445.1 75.2 L446.1 75.8 L447.2 76.3 L448.3 76.8 L449.3 77.3 L450.4 77.8 L451.5 78.2 M451.5 78.2 L449.6 76.1 M451.5 78.2 L448.7 78.4 M465.5 76.6 L466.7 76.6 L467.9 76.5 L469.1 76.4 L470.3 76.3 L471.5 76.2 L472.7 76.0 L473.9 75.8 L475.1 75.6 M475.1 75.6 L472.3 74.8 M475.1 75.6 L472.7 77.3 M488.0 79.3 L489.4 78.6 L490.7 77.8 L492.1 77.1 L493.4 76.3 L494.7 75.5 L496.0 74.7 L497.3 73.9 L498.6 73.0 M498.6 73.0 L495.0 73.5 M498.6 73.0 L496.7 76.2 M510.6 81.9 L512.1 80.5 L513.6 79.1 L515.0 77.7 L516.5 76.3 L518.0 74.9 L519.4 73.4 L520.8 72.0 L522.2 70.5 M522.2 70.5 L517.6 72.2 M522.2 70.5 L520.7 75.2 M534.2 82.0 L535.6 80.6 L536.9 79.2 L538.3 77.7 L539.6 76.3 L540.9 74.9 L542.3 73.4 L543.6 72.0 L545.0 70.6 M545.0 70.6 L540.6 72.3 M545.0 70.6 L543.6 75.1 M558.3 81.9 L559.4 80.5 L560.5 79.1 L561.6 77.7 L562.7 76.3 L563.8 74.9 L564.9 73.5 L566.0 72.0 L567.0 70.6 M567.0 70.6 L563.2 72.6 M567.0 70.6 L566.2 74.8 M582.7 82.2 L583.5 80.7 L584.3 79.3 L585.0 77.8 L585.8 76.3 L586.6 74.8 L587.3 73.3 L588.1 71.8 L588.8 70.3 M588.8 70.3 L585.6 72.8 M588.8 70.3 L588.8 74.3 M607.6 82.0 L608.0 80.6 L608.3 79.1 L608.6 77.7 L608.9 76.3 L609.2 74.9 L609.5 73.5 L609.8 72.0 L610.1 70.6 M610.1 70.6 L608.0 73.4 M610.1 70.6 L611.0 74.0 M633.5 80.9 L633.1 79.7 L632.7 78.6 L632.4 77.4 L632.0 76.3 L631.6 75.2 L631.3 74.0 L631.0 72.9 L630.6 71.7 M630.6 71.7 L630.1 74.5 M630.6 71.7 L632.6 73.8 M659.3 79.6 L658.2 78.8 L657.2 78.0 L656.1 77.2 L655.1 76.3 L654.1 75.4 L653.1 74.5 L652.1 73.6 L651.1 72.7 M651.1 72.7 L652.2 75.7 M651.1 72.7 L654.2 73.7 M683.4 79.3 L682.1 78.5 L680.8 77.8 L679.5 77.0 L678.2 76.3 L676.9 75.5 L675.6 74.8 L674.3 74.0 L673.0 73.3 M673.0 73.3 L675.0 76.3 M673.0 73.3 L676.6 73.6 M706.5 79.3 L705.2 78.5 L703.9 77.8 L702.6 77.0 L701.3 76.3 L700.0 75.5 L698.7 74.8 L697.4 74.0 L696.1 73.3 M696.1 73.3 L698.1 76.3 M696.1 73.3 L699.7 73.6 M152.9 83.5 L154.6 86.6 L156.2 89.7 L157.9 92.8 L159.5 95.9 L161.1 99.0 L162.8 102.1 L164.5 105.1 L166.2 108.2 M166.2 108.2 L165.9 102.8 M166.2 108.2 L161.8 105.1 M175.3 82.4 L177.1 85.8 L178.9 89.2 L180.8 92.5 L182.6 95.9 L184.4 99.3 L186.3 102.6 L188.2 106.0 L190.1 109.3 M190.1 109.3 L189.7 103.9 M190.1 109.3 L185.7 106.3 M197.3 81.0 L199.4 84.7 L201.5 88.4 L203.6 92.2 L205.7 95.9 L207.8 99.6 L209.9 103.3 L212.1 107.0 L214.3 110.7 M214.3 110.7 L213.8 105.3 M214.3 110.7 L209.8 107.8 M219.4 79.5 L221.7 83.6 L224.1 87.7 L226.4 91.8 L228.8 95.9 L231.2 100.0 L233.6 104.1 L236.0 108.1 L238.5 112.1 M238.5 112.1 L238.0 106.7 M238.5 112.1 L233.9 109.3 M242.4 79.8 L244.8 83.9 L247.1 87.9 L249.5 91.9 L251.9 95.9 L254.3 99.9 L256.7 103.9 L259.2 107.8 L261.8 111.7 M261.8 111.7 L261.1 106.4 M261.8 111.7 L257.1 109.0 M265.5 80.3 L267.9 84.2 L270.2 88.1 L272.6 92.0 L275.0 95.9 L277.4 99.8 L279.8 103.7 L282.3 107.5 L284.9 111.3 M284.9 111.3 L284.1 105.9 M284.9 111.3 L280.2 108.6 M288.7 80.9 L291.1 84.7 L293.4 88.4 L295.7 92.2 L298.1 95.9 L300.5 99.6 L302.9 103.3 L305.5 106.9 L308.1 110.4 M308.1 110.4 L307.1 105.1 M308.1 110.4 L303.3 108.0 M312.8 83.4 L314.8 86.5 L316.9 89.7 L319.0 92.8 L321.2 95.9 L323.4 99.0 L325.6 102.0 L328.0 105.0 L330.5 107.8 M330.5 107.8 L329.1 102.6 M330.5 107.8 L325.5 105.7 M336.8 85.8 L338.6 88.4 L340.4 90.9 L342.3 93.4 L344.3 95.9 L346.3 98.4 L348.3 100.7 L350.5 103.0 L352.9 105.1 M352.9 105.1 L350.9 100.1 M352.9 105.1 L347.7 103.6 M362.6 92.1 L363.7 93.1 L364.9 94.1 L366.1 95.0 L367.4 95.9 L368.7 96.8 L370.0 97.5 L371.4 98.2 L372.8 98.7 M372.8 98.7 L370.3 96.0 M372.8 98.7 L369.2 99.1 M388.6 100.0 L389.2 99.0 L389.6 98.0 L390.1 96.9 L390.5 95.9 L390.9 94.9 L391.5 93.9 L392.1 93.0 L392.8 92.1 M392.8 92.1 L390.4 93.1 M392.8 92.1 L392.1 94.7 M411.4 100.6 L412.0 99.4 L412.5 98.3 L413.1 97.1 L413.6 95.9 L414.1 94.7 L414.7 93.6 L415.5 92.5 L416.3 91.5 M416.3 91.5 L413.5 92.8 M416.3 91.5 L415.5 94.5 M434.2 101.2 L434.8 99.9 L435.5 98.6 L436.1 97.2 L436.7 95.9 L437.3 94.6 L438.0 93.3 L438.8 92.1 L439.8 90.9 M439.8 90.9 L436.6 92.4 M439.8 90.9 L439.0 94.4 M456.5 101.5 L457.3 100.1 L458.1 98.7 L459.0 97.3 L459.8 95.9 L460.6 94.5 L461.6 93.2 L462.6 91.9 L463.6 90.7 M463.6 90.7 L460.0 92.2 M463.6 90.7 L462.6 94.4 M478.6 101.7 L479.7 100.2 L480.7 98.8 L481.8 97.3 L482.9 95.9 L484.0 94.5 L485.1 93.1 L486.3 91.7 L487.5 90.4 M487.5 90.4 L483.5 91.9 M487.5 90.4 L486.3 94.5 M500.7 101.9 L502.0 100.4 L503.3 98.9 L504.7 97.4 L506.0 95.9 L507.3 94.4 L508.7 92.9 L510.1 91.5 L511.4 90.0 M511.4 90.0 L506.9 91.7 M511.4 90.0 L510.0 94.6 M523.4 101.8 L524.8 100.3 L526.3 98.9 L527.7 97.4 L529.1 95.9 L530.5 94.4 L531.9 92.9 L533.3 91.5 L534.8 90.0 M534.8 90.0 L530.1 91.7 M534.8 90.0 L533.3 94.7 M547.2 101.4 L548.4 100.0 L549.7 98.6 L551.0 97.3 L552.2 95.9 L553.4 94.5 L554.7 93.1 L555.9 91.7 L557.1 90.3 M557.1 90.3 L553.0 92.1 M557.1 90.3 L556.0 94.6 M571.6 101.7 L572.5 100.2 L573.5 98.8 L574.4 97.4 L575.3 95.9 L576.2 94.4 L577.1 93.0 L578.0 91.5 L578.9 90.1 M578.9 90.1 L575.4 92.3 M578.9 90.1 L578.5 94.2 M596.0 102.0 L596.6 100.5 L597.2 98.9 L597.8 97.4 L598.4 95.9 L599.0 94.4 L599.5 92.9 L600.1 91.3 L600.7 89.8 M600.7 89.8 L597.9 92.5 M600.7 89.8 L601.1 93.7 M621.7 101.0 L621.6 99.7 L621.6 98.4 L621.6 97.2 L621.5 95.9 L621.4 94.6 L621.4 93.4 L621.3 92.1 L621.3 90.8 M621.3 90.8 L620.1 93.6 M621.3 90.8 L622.7 93.5 M647.5 99.9 L646.8 98.9 L646.0 97.9 L645.3 96.9 L644.6 95.9 L643.9 94.9 L643.2 93.9 L642.5 92.9 L641.8 91.9 M641.8 91.9 L642.2 94.8 M641.8 91.9 L644.4 93.4 M672.9 99.0 L671.6 98.2 L670.3 97.4 L669.0 96.7 L667.7 95.9 L666.4 95.2 L665.1 94.4 L663.8 93.7 L662.5 92.9 M662.5 92.9 L664.5 95.9 M662.5 92.9 L666.1 93.2 M696.0 99.0 L694.7 98.2 L693.4 97.4 L692.1 96.7 L690.8 95.9 L689.5 95.2 L688.2 94.4 L686.9 93.7 L685.6 92.9 M685.6 92.9 L687.6 95.9 M685.6 92.9 L689.2 93.2 M162.6 102.6 L164.4 105.9 L166.2 109.1 L168.1 112.3 L170.0 115.5 L171.9 118.7 L173.8 121.9 L175.7 125.0 L177.7 128.2 M177.7 128.2 L177.2 122.8 M177.7 128.2 L173.1 125.3 M184.8 101.6 L186.8 105.1 L188.9 108.6 L191.0 112.0 L193.1 115.5 L195.2 119.0 L197.4 122.4 L199.6 125.8 L201.8 129.2 M201.8 129.2 L201.1 123.8 M201.8 129.2 L197.1 126.4 M207.0 100.5 L209.3 104.3 L211.5 108.0 L213.8 111.8 L216.2 115.5 L218.6 119.2 L220.9 122.9 L223.4 126.6 L225.9 130.2 M225.9 130.2 L225.1 124.9 M225.9 130.2 L221.2 127.5 M229.5 100.1 L231.9 104.0 L234.3 107.9 L236.8 111.7 L239.3 115.5 L241.8 119.3 L244.4 123.1 L247.0 126.8 L249.7 130.5 M249.7 130.5 L248.8 125.2 M249.7 130.5 L244.9 128.0 M252.5 100.6 L254.9 104.4 L257.3 108.1 L259.8 111.8 L262.4 115.5 L265.0 119.2 L267.6 122.8 L270.3 126.3 L273.1 129.8 M273.1 129.8 L271.9 124.5 M273.1 129.8 L268.2 127.5 M275.4 101.2 L277.8 104.8 L280.3 108.4 L282.9 112.0 L285.5 115.5 L288.1 119.0 L290.8 122.4 L293.6 125.8 L296.4 129.2 M296.4 129.2 L295.1 123.9 M296.4 129.2 L291.5 127.0 M299.4 104.0 L301.6 107.0 L303.8 109.9 L306.2 112.7 L308.6 115.5 L311.0 118.3 L313.6 120.9 L316.2 123.5 L319.0 125.9 M319.0 125.9 L316.9 120.9 M319.0 125.9 L313.8 124.5 M323.9 108.5 L325.7 110.3 L327.6 112.2 L329.6 113.9 L331.7 115.5 L333.8 117.1 L335.9 118.6 L338.2 120.0 L340.5 121.2 M340.5 121.2 L337.3 116.9 M340.5 121.2 L335.1 121.1 M348.3 112.9 L349.8 113.7 L351.5 114.4 L353.1 115.0 L354.8 115.5 L356.5 116.0 L358.2 116.4 L359.9 116.7 L361.7 117.0 M361.7 117.0 L358.1 114.6 M361.7 117.0 L357.7 118.3 M373.1 117.3 L374.4 116.9 L375.6 116.5 L376.7 116.0 L377.9 115.5 L379.1 115.0 L380.2 114.4 L381.3 113.8 L382.4 113.2 M382.4 113.2 L379.4 113.4 M382.4 113.2 L380.8 115.7 M397.5 119.8 L398.4 118.7 L399.3 117.7 L400.2 116.6 L401.0 115.5 L401.8 114.4 L402.7 113.3 L403.5 112.2 L404.2 111.0 M404.2 111.0 L401.4 112.7 M404.2 111.0 L403.7 114.3 M421.1 120.3 L421.9 119.1 L422.6 117.9 L423.4 116.7 L424.1 115.5 L424.8 114.3 L425.5 113.1 L426.2 111.9 L426.9 110.6 M426.9 110.6 L424.1 112.6 M426.9 110.6 L426.7 114.0 M444.4 120.7 L445.1 119.4 L445.8 118.1 L446.5 116.8 L447.2 115.5 L447.9 114.2 L448.6 112.9 L449.3 111.6 L450.0 110.4 M450.0 110.4 L447.2 112.4 M450.0 110.4 L449.9 113.9 M466.6 120.8 L467.5 119.5 L468.5 118.2 L469.4 116.8 L470.3 115.5 L471.2 114.2 L472.2 112.8 L473.1 111.5 L474.0 110.2 M474.0 110.2 L470.6 112.1 M474.0 110.2 L473.4 114.0 M488.9 121.0 L490.0 119.6 L491.1 118.2 L492.3 116.9 L493.4 115.5 L494.5 114.1 L495.7 112.8 L496.8 111.4 L498.0 110.1 M498.0 110.1 L494.1 111.8 M498.0 110.1 L496.9 114.2 M511.1 121.2 L512.4 119.7 L513.8 118.3 L515.1 116.9 L516.5 115.5 L517.9 114.1 L519.2 112.7 L520.6 111.3 L522.0 109.9 M522.0 109.9 L517.5 111.5 M522.0 109.9 L520.5 114.3 M534.4 120.9 L535.7 119.5 L537.0 118.2 L538.3 116.9 L539.6 115.5 L540.9 114.1 L542.2 112.8 L543.5 111.4 L544.7 110.1 M544.7 110.1 L540.5 111.7 M544.7 110.1 L543.4 114.4 M558.4 120.9 L559.5 119.6 L560.6 118.2 L561.6 116.9 L562.7 115.5 L563.8 114.1 L564.8 112.7 L565.8 111.4 L566.9 110.0 M566.9 110.0 L563.2 111.9 M566.9 110.0 L566.1 114.1 M582.8 121.3 L583.5 119.9 L584.3 118.4 L585.1 117.0 L585.8 115.5 L586.5 114.0 L587.3 112.6 L588.0 111.1 L588.7 109.6 M588.7 109.6 L585.6 112.0 M588.7 109.6 L588.7 113.6 M607.3 121.2 L607.7 119.8 L608.1 118.4 L608.5 116.9 L608.9 115.5 L609.3 114.1 L609.6 112.6 L610.0 111.2 L610.3 109.7 M610.3 109.7 L608.1 112.5 M610.3 109.7 L611.1 113.2 M632.3 120.3 L632.2 119.1 L632.2 117.9 L632.1 116.7 L632.0 115.5 L631.9 114.3 L631.8 113.1 L631.7 111.9 L631.6 110.7 M631.6 110.7 L630.6 113.4 M631.6 110.7 L633.1 113.2 M657.2 119.4 L656.7 118.4 L656.2 117.4 L655.7 116.5 L655.1 115.5 L654.5 114.5 L654.0 113.6 L653.4 112.6 L652.8 111.7 M652.8 111.7 L653.1 114.3 M652.8 111.7 L655.1 113.1 M681.1 119.0 L680.4 118.1 L679.7 117.2 L679.0 116.4 L678.2 115.5 L677.4 114.6 L676.7 113.8 L675.9 113.0 L675.1 112.1 M675.1 112.1 L676.0 114.7 M675.1 112.1 L677.7 113.1 M704.2 119.0 L703.5 118.1 L702.8 117.2 L702.1 116.4 L701.3 115.5 L700.5 114.6 L699.8 113.8 L699.0 113.0 L698.2 112.1 M698.2 112.1 L699.1 114.7 M698.2 112.1 L700.8 113.1 M151.6 122.4 L153.5 125.6 L155.5 128.8 L157.5 131.9 L159.5 135.1 L161.5 138.3 L163.5 141.4 L165.6 144.6 L167.6 147.7 M167.6 147.7 L166.9 142.4 M167.6 147.7 L163.0 144.9 M174.1 121.8 L176.2 125.2 L178.3 128.5 L180.4 131.8 L182.6 135.1 L184.8 138.4 L187.0 141.7 L189.2 144.9 L191.5 148.1 M191.5 148.1 L190.6 142.8 M191.5 148.1 L186.8 145.5 M196.3 121.2 L198.6 124.7 L200.9 128.2 L203.3 131.7 L205.7 135.1 L208.1 138.5 L210.5 142.0 L213.0 145.3 L215.5 148.7 M215.5 148.7 L214.5 143.4 M215.5 148.7 L210.7 146.2 M218.6 120.5 L221.1 124.2 L223.6 127.9 L226.2 131.5 L228.8 135.1 L231.4 138.7 L234.1 142.3 L236.9 145.8 L239.7 149.2 M239.7 149.2 L238.4 143.9 M239.7 149.2 L234.8 146.9 M241.4 121.2 L243.9 124.8 L246.5 128.3 L249.2 131.7 L251.9 135.1 L254.6 138.5 L257.4 141.8 L260.3 145.0 L263.3 148.2 M263.3 148.2 L261.7 143.0 M263.3 148.2 L258.3 146.3 M264.2 122.1 L266.8 125.4 L269.4 128.7 L272.2 132.0 L275.0 135.1 L277.8 138.2 L280.8 141.3 L283.8 144.3 L286.9 147.1 M286.9 147.1 L284.9 142.1 M286.9 147.1 L281.7 145.6 M287.3 123.5 L289.9 126.5 L292.5 129.5 L295.2 132.3 L298.1 135.1 L301.0 137.9 L304.0 140.5 L307.1 142.9 L310.4 145.1 M310.4 145.1 L307.7 140.4 M310.4 145.1 L305.0 144.3 M312.0 129.1 L314.2 130.8 L316.5 132.3 L318.8 133.8 L321.2 135.1 L323.6 136.4 L326.1 137.6 L328.6 138.7 L331.2 139.6 M331.2 139.6 L327.4 135.7 M331.2 139.6 L325.9 140.2 M336.5 134.8 L338.4 135.0 L340.4 135.2 L342.3 135.2 L344.3 135.1 L346.3 135.0 L348.2 134.8 L350.1 134.4 L352.0 134.0 M352.0 134.0 L347.4 133.0 M352.0 134.0 L348.4 137.0 M360.9 137.7 L362.6 137.1 L364.2 136.5 L365.8 135.8 L367.4 135.1 L369.0 134.4 L370.6 133.7 L372.1 132.9 L373.7 132.1 M373.7 132.1 L369.5 132.2 M373.7 132.1 L371.2 135.4 M385.3 139.1 L386.6 138.1 L388.0 137.1 L389.2 136.1 L390.5 135.1 L391.8 134.1 L393.0 133.0 L394.3 132.0 L395.5 130.9 M395.5 130.9 L391.7 131.9 M395.5 130.9 L394.0 134.5 M409.5 139.5 L410.6 138.4 L411.6 137.3 L412.6 136.2 L413.6 135.1 L414.6 134.0 L415.6 132.9 L416.5 131.7 L417.5 130.6 M417.5 130.6 L414.2 132.1 M417.5 130.6 L416.6 134.1 M433.7 139.8 L434.5 138.7 L435.2 137.5 L436.0 136.3 L436.7 135.1 L437.4 133.9 L438.1 132.7 L438.8 131.5 L439.5 130.3 M439.5 130.3 L436.8 132.2 M439.5 130.3 L439.3 133.6 M456.4 140.0 L457.3 138.8 L458.1 137.6 L459.0 136.3 L459.8 135.1 L460.6 133.9 L461.5 132.6 L462.3 131.4 L463.1 130.2 M463.1 130.2 L460.0 132.0 M463.1 130.2 L462.6 133.7 M478.8 140.1 L479.9 138.8 L480.9 137.6 L481.9 136.3 L482.9 135.1 L483.9 133.9 L484.9 132.6 L486.0 131.4 L487.0 130.1 M487.0 130.1 L483.5 131.7 M487.0 130.1 L486.1 133.9 M501.2 140.2 L502.4 138.9 L503.6 137.6 L504.8 136.4 L506.0 135.1 L507.2 133.8 L508.4 132.6 L509.6 131.3 L510.8 130.0 M510.8 130.0 L506.9 131.5 M510.8 130.0 L509.5 134.0 M524.0 140.2 L525.3 138.9 L526.6 137.6 L527.8 136.4 L529.1 135.1 L530.4 133.8 L531.6 132.5 L532.9 131.3 L534.1 130.0 M534.1 130.0 L530.1 131.4 M534.1 130.0 L532.8 134.1 M547.5 140.1 L548.7 138.9 L549.9 137.6 L551.0 136.4 L552.2 135.1 L553.4 133.8 L554.5 132.6 L555.6 131.3 L556.7 130.0 M556.7 130.0 L553.0 131.6 M556.7 130.0 L555.7 133.9 M571.8 140.6 L572.7 139.2 L573.6 137.8 L574.4 136.5 L575.3 135.1 L576.2 133.7 L577.0 132.3 L577.8 131.0 L578.7 129.6 M578.7 129.6 L575.4 131.7 M578.7 129.6 L578.3 133.4 M596.1 141.0 L596.7 139.5 L597.3 138.1 L597.8 136.6 L598.4 135.1 L599.0 133.6 L599.5 132.1 L600.1 130.6 L600.6 129.2 M600.6 129.2 L597.9 131.8 M600.6 129.2 L601.0 132.9 M620.5 140.3 L620.7 139.0 L621.0 137.7 L621.2 136.4 L621.5 135.1 L621.8 133.8 L622.0 132.5 L622.3 131.2 L622.5 129.9 M622.5 129.9 L620.6 132.5 M622.5 129.9 L623.3 133.0 M644.8 139.4 L644.7 138.4 L644.7 137.3 L644.6 136.2 L644.6 135.1 L644.6 134.0 L644.5 132.9 L644.5 131.8 L644.4 130.8 M644.4 130.8 L643.4 133.2 M644.4 130.8 L645.7 133.0 M668.9 138.7 L668.6 137.8 L668.3 136.9 L668.0 136.0 L667.7 135.1 L667.4 134.2 L667.1 133.3 L666.7 132.4 L666.4 131.5 M666.4 131.5 L666.1 134.1 M666.4 131.5 L668.3 133.3 M692.0 138.7 L691.7 137.8 L691.4 136.9 L691.1 136.0 L690.8 135.1 L690.5 134.2 L690.2 133.3 L689.8 132.4 L689.5 131.5 M689.5 131.5 L689.2 134.1 M689.5 131.5 L691.4 133.3 M161.6 142.1 L163.7 145.2 L165.8 148.4 L167.9 151.6 L170.0 154.7 L172.1 157.8 L174.3 161.0 L176.5 164.0 L178.7 167.1 M178.7 167.1 L177.8 161.8 M178.7 167.1 L173.9 164.6 M183.7 141.7 L186.0 145.0 L188.3 148.3 L190.7 151.5 L193.1 154.7 L195.5 157.9 L197.9 161.1 L200.4 164.2 L202.9 167.3 M202.9 167.3 L201.7 162.1 M202.9 167.3 L198.0 165.0 M205.9 141.4 L208.4 144.8 L210.9 148.1 L213.5 151.4 L216.2 154.7 L218.9 158.0 L221.6 161.2 L224.3 164.4 L227.1 167.5 M227.1 167.5 L225.7 162.3 M227.1 167.5 L222.1 165.5 M228.3 141.7 L230.9 145.1 L233.6 148.3 L236.4 151.6 L239.3 154.7 L242.2 157.8 L245.1 160.9 L248.2 163.9 L251.3 166.8 M251.3 166.8 L249.3 161.7 M251.3 166.8 L246.1 165.2 M250.9 143.3 L253.6 146.3 L256.5 149.2 L259.4 152.0 L262.4 154.7 L265.4 157.4 L268.5 160.0 L271.7 162.5 L275.0 164.9 M275.0 164.9 L272.5 160.2 M275.0 164.9 L269.7 164.0 M273.4 144.8 L276.3 147.5 L279.3 150.0 L282.3 152.4 L285.5 154.7 L288.7 157.0 L291.9 159.2 L295.2 161.2 L298.6 163.1 M298.6 163.1 L295.6 158.7 M298.6 163.1 L293.3 162.8 M296.9 147.9 L299.7 149.8 L302.6 151.6 L305.6 153.2 L308.6 154.7 L311.6 156.2 L314.7 157.5 L317.9 158.7 L321.1 159.8 M321.1 159.8 L317.2 156.0 M321.1 159.8 L315.8 160.5 M321.0 152.3 L323.6 153.1 L326.3 153.8 L329.0 154.3 L331.7 154.7 L334.4 155.1 L337.1 155.4 L339.9 155.6 L342.6 155.6 M342.6 155.6 L337.8 153.2 M342.6 155.6 L337.7 157.9 M345.4 156.4 L347.8 156.1 L350.1 155.7 L352.5 155.2 L354.8 154.7 L357.1 154.2 L359.5 153.6 L361.8 153.0 L364.1 152.4 M364.1 152.4 L358.7 151.4 M364.1 152.4 L360.0 156.0 M371.0 157.7 L372.7 157.0 L374.5 156.3 L376.2 155.5 L377.9 154.7 L379.6 153.9 L381.3 153.0 L382.9 152.1 L384.6 151.2 M384.6 151.2 L380.1 151.5 M384.6 151.2 L382.0 154.9 M395.9 158.7 L397.2 157.7 L398.5 156.7 L399.7 155.7 L401.0 154.7 L402.3 153.7 L403.5 152.6 L404.7 151.6 L405.9 150.5 M405.9 150.5 L402.2 151.5 M405.9 150.5 L404.4 154.1 M420.0 159.1 L421.1 158.0 L422.1 156.9 L423.1 155.8 L424.1 154.7 L425.1 153.6 L426.1 152.5 L427.1 151.3 L428.0 150.2 M428.0 150.2 L424.7 151.6 M428.0 150.2 L427.2 153.7 M443.8 159.4 L444.6 158.2 L445.5 157.0 L446.3 155.9 L447.2 154.7 L448.1 153.5 L448.9 152.4 L449.8 151.2 L450.6 150.0 M450.6 150.0 L447.5 151.6 M450.6 150.0 L450.0 153.4 M466.4 159.3 L467.4 158.2 L468.3 157.0 L469.3 155.9 L470.3 154.7 L471.3 153.5 L472.2 152.4 L473.2 151.2 L474.2 150.1 M474.2 150.1 L470.9 151.5 M474.2 150.1 L473.3 153.6 M489.0 159.3 L490.1 158.1 L491.2 157.0 L492.3 155.8 L493.4 154.7 L494.5 153.6 L495.6 152.4 L496.7 151.3 L497.8 150.1 M497.8 150.1 L494.2 151.4 M497.8 150.1 L496.6 153.7 M511.7 159.2 L512.9 158.1 L514.1 157.0 L515.3 155.8 L516.5 154.7 L517.7 153.6 L518.9 152.4 L520.1 151.3 L521.3 150.2 M521.3 150.2 L517.5 151.3 M521.3 150.2 L519.9 153.9 M534.9 159.3 L536.1 158.1 L537.3 157.0 L538.4 155.8 L539.6 154.7 L540.8 153.6 L541.9 152.4 L543.1 151.2 L544.2 150.1 M544.2 150.1 L540.5 151.4 M544.2 150.1 L543.0 153.8 M558.8 159.5 L559.8 158.3 L560.8 157.1 L561.7 155.9 L562.7 154.7 L563.7 153.5 L564.6 152.3 L565.5 151.1 L566.5 149.8 M566.5 149.8 L563.2 151.5 M566.5 149.8 L565.8 153.5 M583.2 159.8 L583.8 158.6 L584.5 157.3 L585.2 156.0 L585.8 154.7 L586.4 153.4 L587.1 152.1 L587.7 150.8 L588.4 149.5 M588.4 149.5 L585.6 151.7 M588.4 149.5 L588.4 153.0 M607.4 159.7 L607.8 158.5 L608.2 157.2 L608.5 156.0 L608.9 154.7 L609.3 153.4 L609.6 152.2 L610.0 150.9 L610.4 149.6 M610.4 149.6 L608.3 152.0 M610.4 149.6 L610.9 152.8 M631.5 158.9 L631.6 157.9 L631.7 156.8 L631.9 155.8 L632.0 154.7 L632.1 153.6 L632.3 152.6 L632.4 151.5 L632.5 150.5 M632.5 150.5 L631.1 152.7 M632.5 150.5 L633.4 152.9 M655.5 158.1 L655.4 157.3 L655.3 156.4 L655.2 155.6 L655.1 154.7 L655.0 153.8 L654.9 153.0 L654.8 152.2 L654.7 151.3 M654.7 151.3 L653.8 153.8 M654.7 151.3 L656.1 153.5 M679.0 157.8 L678.8 157.0 L678.6 156.2 L678.4 155.5 L678.2 154.7 L678.0 153.9 L677.8 153.2 L677.6 152.4 L677.3 151.7 M677.3 151.7 L676.9 154.2 M677.3 151.7 L679.1 153.6 M702.1 157.8 L701.9 157.0 L701.7 156.2 L701.5 155.5 L701.3 154.7 L701.1 153.9 L700.9 153.2 L700.7 152.4 L700.4 151.7 M700.4 151.7 L700.0 154.2 M700.4 151.7 L702.2 153.6 M151.0 162.0 L153.1 165.1 L155.2 168.1 L157.4 171.2 L159.5 174.3 L161.6 177.4 L163.8 180.4 L166.0 183.5 L168.2 186.5 M168.2 186.5 L167.3 181.2 M168.2 186.5 L163.4 184.0 M173.3 161.9 L175.6 165.0 L177.9 168.2 L180.2 171.2 L182.6 174.3 L185.0 177.4 L187.4 180.4 L189.8 183.4 L192.3 186.4 M192.3 186.4 L191.0 181.1 M192.3 186.4 L187.4 184.2 M195.3 161.9 L197.8 165.1 L200.4 168.2 L203.0 171.3 L205.7 174.3 L208.4 177.3 L211.1 180.3 L213.9 183.3 L216.7 186.2 M216.7 186.2 L215.0 181.1 M216.7 186.2 L211.6 184.4 M217.2 161.9 L220.0 165.1 L222.9 168.2 L225.8 171.3 L228.8 174.3 L231.8 177.3 L234.8 180.3 L237.9 183.1 L241.1 186.0 M241.1 186.0 L239.0 181.0 M241.1 186.0 L235.9 184.5 M239.7 163.9 L242.6 166.7 L245.6 169.3 L248.7 171.9 L251.9 174.3 L255.1 176.7 L258.3 179.1 L261.6 181.4 L265.0 183.5 M265.0 183.5 L262.2 178.9 M265.0 183.5 L259.6 182.9 M262.0 166.2 L265.2 168.4 L268.4 170.5 L271.6 172.5 L275.0 174.3 L278.4 176.1 L281.8 177.9 L285.2 179.5 L288.7 181.0 M288.7 181.0 L285.2 176.9 M288.7 181.0 L283.3 181.2 M284.5 168.6 L287.8 170.2 L291.2 171.7 L294.6 173.1 L298.1 174.3 L301.6 175.5 L305.1 176.6 L308.7 177.6 L312.3 178.5 M312.3 178.5 L308.1 175.0 M312.3 178.5 L307.0 179.6 M308.1 171.7 L311.3 172.5 L314.6 173.2 L317.9 173.8 L321.2 174.3 L324.5 174.8 L327.8 175.1 L331.1 175.4 L334.5 175.6 M334.5 175.6 L329.7 173.0 M334.5 175.6 L329.5 177.7 M331.8 174.7 L334.9 174.8 L338.1 174.7 L341.2 174.6 L344.3 174.3 L347.4 174.0 L350.5 173.7 L353.6 173.2 L356.7 172.7 M356.7 172.7 L351.5 171.2 M356.7 172.7 L352.3 175.9 M357.8 176.6 L360.2 176.1 L362.6 175.5 L365.0 175.0 L367.4 174.3 L369.8 173.6 L372.1 172.9 L374.5 172.2 L376.8 171.3 M376.8 171.3 L371.4 170.8 M376.8 171.3 L373.0 175.2 M384.5 177.8 L386.0 177.0 L387.5 176.1 L389.0 175.2 L390.5 174.3 L392.0 173.4 L393.4 172.4 L394.9 171.5 L396.3 170.5 M396.3 170.5 L392.2 171.1 M396.3 170.5 L394.3 174.1 M408.6 178.4 L409.9 177.4 L411.1 176.4 L412.4 175.3 L413.6 174.3 L414.8 173.3 L416.1 172.2 L417.3 171.2 L418.5 170.1 M418.5 170.1 L414.7 171.1 M418.5 170.1 L417.0 173.7 M432.6 178.8 L433.7 177.7 L434.7 176.6 L435.7 175.4 L436.7 174.3 L437.7 173.2 L438.7 172.0 L439.6 170.9 L440.6 169.7 M440.6 169.7 L437.3 171.2 M440.6 169.7 L439.8 173.2 M455.7 178.7 L456.8 177.6 L457.8 176.5 L458.8 175.4 L459.8 174.3 L460.8 173.2 L461.8 172.1 L462.8 171.0 L463.8 169.9 M463.8 169.9 L460.5 171.2 M463.8 169.9 L462.8 173.3 M478.6 178.5 L479.7 177.5 L480.8 176.4 L481.8 175.4 L482.9 174.3 L484.0 173.2 L485.0 172.2 L486.1 171.1 L487.1 170.1 M487.1 170.1 L483.7 171.2 M487.1 170.1 L486.0 173.5 M501.5 178.3 L502.6 177.3 L503.8 176.3 L504.9 175.3 L506.0 174.3 L507.1 173.3 L508.2 172.3 L509.4 171.3 L510.5 170.3 M510.5 170.3 L507.0 171.3 M510.5 170.3 L509.1 173.6 M524.6 178.3 L525.7 177.3 L526.8 176.3 L528.0 175.3 L529.1 174.3 L530.2 173.3 L531.3 172.3 L532.5 171.3 L533.6 170.3 M533.6 170.3 L530.1 171.3 M533.6 170.3 L532.2 173.6 M548.0 178.5 L549.1 177.5 L550.1 176.4 L551.2 175.4 L552.2 174.3 L553.2 173.2 L554.3 172.2 L555.3 171.1 L556.3 170.0 M556.3 170.0 L553.0 171.3 M556.3 170.0 L555.3 173.4 M572.3 178.8 L573.1 177.7 L573.8 176.6 L574.6 175.4 L575.3 174.3 L576.0 173.2 L576.7 172.0 L577.4 170.9 L578.1 169.7 M578.1 169.7 L575.4 171.5 M578.1 169.7 L577.8 173.0 M596.7 179.0 L597.1 177.9 L597.6 176.7 L598.0 175.5 L598.4 174.3 L598.8 173.1 L599.2 171.9 L599.6 170.7 L600.0 169.5 M600.0 169.5 L597.9 171.7 M600.0 169.5 L600.4 172.5 M620.6 178.3 L620.8 177.3 L621.0 176.3 L621.3 175.3 L621.5 174.3 L621.7 173.3 L621.9 172.3 L622.2 171.3 L622.4 170.3 M622.4 170.3 L620.8 172.3 M622.4 170.3 L623.0 172.8 M644.4 177.5 L644.5 176.7 L644.5 175.9 L644.6 175.1 L644.6 174.3 L644.6 173.5 L644.7 172.7 L644.7 171.9 L644.8 171.1 M644.8 171.1 L643.5 173.4 M644.8 171.1 L645.8 173.5 M668.1 176.8 L668.0 176.2 L667.9 175.5 L667.8 174.9 L667.7 174.3 L667.6 173.7 L667.5 173.1 L667.4 172.4 L667.2 171.8 M667.2 171.8 L666.6 174.3 M667.2 171.8 L668.8 173.9 M691.2 176.8 L691.1 176.2 L691.0 175.5 L690.9 174.9 L690.8 174.3 L690.7 173.7 L690.6 173.1 L690.5 172.4 L690.3 171.8 M690.3 171.8 L689.7 174.3 M690.3 171.8 L691.9 173.9 M161.1 181.7 L163.3 184.8 L165.5 187.9 L167.7 190.9 L170.0 193.9 L172.3 196.9 L174.6 199.9 L176.9 202.8 L179.3 205.8 M179.3 205.8 L178.1 200.5 M179.3 205.8 L174.4 203.5 M183.1 182.1 L185.6 185.1 L188.0 188.1 L190.6 191.0 L193.1 193.9 L195.6 196.8 L198.2 199.7 L200.8 202.5 L203.5 205.3 M203.5 205.3 L201.9 200.2 M203.5 205.3 L198.4 203.4 M205.1 182.5 L207.9 185.4 L210.6 188.3 L213.4 191.1 L216.2 193.9 L219.0 196.7 L221.9 199.5 L224.8 202.2 L227.7 204.9 M227.7 204.9 L225.7 199.8 M227.7 204.9 L222.5 203.3 M227.5 183.5 L230.4 186.2 L233.3 188.8 L236.3 191.4 L239.3 193.9 L242.3 196.4 L245.4 198.8 L248.6 201.2 L251.8 203.5 M251.8 203.5 L249.2 198.7 M251.8 203.5 L246.5 202.6 M250.0 185.7 L253.0 187.9 L256.1 190.0 L259.2 192.0 L262.4 193.9 L265.6 195.8 L268.8 197.7 L272.1 199.4 L275.4 201.1 M275.4 201.1 L272.1 196.8 M275.4 201.1 L270.0 201.0 M272.4 188.0 L275.6 189.6 L278.9 191.1 L282.2 192.6 L285.5 193.9 L288.8 195.2 L292.2 196.5 L295.6 197.6 L299.0 198.7 M299.0 198.7 L295.1 195.0 M299.0 198.7 L293.7 199.5 M295.6 190.5 L298.8 191.5 L302.0 192.4 L305.3 193.2 L308.6 193.9 L311.9 194.6 L315.2 195.3 L318.5 195.8 L321.9 196.3 M321.9 196.3 L317.4 193.3 M321.9 196.3 L316.7 197.9 M319.2 193.1 L322.3 193.4 L325.4 193.6 L328.6 193.8 L331.7 193.9 L334.8 194.0 L338.0 194.0 L341.1 193.9 L344.2 193.7 M344.2 193.7 L339.2 191.6 M344.2 193.7 L339.5 196.4 M343.4 195.5 L346.3 195.2 L349.1 194.8 L352.0 194.4 L354.8 193.9 L357.6 193.4 L360.5 192.9 L363.3 192.3 L366.1 191.6 M366.1 191.6 L360.8 190.4 M366.1 191.6 L361.9 195.0 M369.5 196.9 L371.6 196.2 L373.8 195.5 L375.8 194.7 L377.9 193.9 L380.0 193.1 L382.0 192.2 L384.0 191.3 L386.0 190.3 M386.0 190.3 L380.7 190.3 M386.0 190.3 L382.8 194.5 M394.6 198.1 L396.2 197.0 L397.8 196.0 L399.4 195.0 L401.0 193.9 L402.6 192.8 L404.2 191.8 L405.8 190.7 L407.3 189.6 M407.3 189.6 L402.8 190.3 M407.3 189.6 L405.1 193.6 M418.2 198.6 L419.7 197.4 L421.2 196.3 L422.6 195.1 L424.1 193.9 L425.6 192.7 L427.0 191.5 L428.4 190.3 L429.9 189.1 M429.9 189.1 L425.5 190.2 M429.9 189.1 L428.1 193.2 M441.7 198.8 L443.1 197.6 L444.5 196.4 L445.8 195.1 L447.2 193.9 L448.6 192.7 L449.9 191.4 L451.3 190.2 L452.6 188.9 M452.6 188.9 L448.4 190.2 M452.6 188.9 L451.0 193.0 M464.9 198.5 L466.3 197.4 L467.6 196.2 L469.0 195.1 L470.3 193.9 L471.6 192.7 L473.0 191.6 L474.3 190.4 L475.7 189.2 M475.7 189.2 L471.6 190.4 M475.7 189.2 L474.0 193.2 M488.1 198.2 L489.4 197.1 L490.7 196.0 L492.1 195.0 L493.4 193.9 L494.7 192.8 L496.1 191.8 L497.4 190.7 L498.7 189.6 M498.7 189.6 L494.7 190.5 M498.7 189.6 L497.0 193.3 M511.2 197.8 L512.5 196.9 L513.9 195.9 L515.2 194.9 L516.5 193.9 L517.8 192.9 L519.1 191.9 L520.5 190.9 L521.8 189.9 M521.8 189.9 L517.9 190.7 M521.8 189.9 L520.0 193.5 M534.8 198.0 L536.0 197.0 L537.2 195.9 L538.4 194.9 L539.6 193.9 L540.8 192.9 L542.0 191.8 L543.2 190.8 L544.3 189.7 M544.3 189.7 L540.7 190.8 M544.3 189.7 L542.9 193.2 M558.7 198.2 L559.7 197.1 L560.7 196.1 L561.7 195.0 L562.7 193.9 L563.7 192.8 L564.7 191.7 L565.6 190.6 L566.6 189.5 M566.6 189.5 L563.3 190.9 M566.6 189.5 L565.7 192.9 M582.8 198.5 L583.6 197.4 L584.3 196.2 L585.1 195.1 L585.8 193.9 L586.5 192.7 L587.2 191.6 L587.9 190.4 L588.6 189.2 M588.6 189.2 L585.9 191.0 M588.6 189.2 L588.4 192.5 M606.9 198.3 L607.4 197.2 L607.9 196.1 L608.4 195.0 L608.9 193.9 L609.4 192.8 L609.8 191.7 L610.3 190.5 L610.8 189.4 M610.8 189.4 L608.6 191.4 M610.8 189.4 L611.0 192.3 M630.9 197.5 L631.2 196.6 L631.5 195.7 L631.7 194.8 L632.0 193.9 L632.3 193.0 L632.5 192.1 L632.7 191.2 L633.0 190.3 M633.0 190.3 L631.3 192.3 M633.0 190.3 L633.5 192.9 M655.0 196.6 L655.0 195.9 L655.0 195.2 L655.1 194.6 L655.1 193.9 L655.1 193.2 L655.2 192.6 L655.2 191.9 L655.2 191.2 M655.2 191.2 L654.0 193.5 M655.2 191.2 L656.3 193.6 M678.5 196.2 L678.4 195.6 L678.3 195.0 L678.3 194.5 L678.2 193.9 L678.1 193.3 L678.1 192.8 L678.0 192.2 L677.9 191.6 M677.9 191.6 L677.1 194.1 M677.9 191.6 L679.3 193.8 M701.6 196.2 L701.5 195.6 L701.4 195.0 L701.4 194.5 L701.3 193.9 L701.2 193.3 L701.2 192.8 L701.1 192.2 L701.0 191.6 M701.0 191.6 L700.2 194.1 M701.0 191.6 L702.4 193.8 M150.5 201.5 L152.7 204.5 L155.0 207.5 L157.2 210.5 L159.5 213.5 L161.8 216.5 L164.1 219.5 L166.3 222.4 L168.7 225.4 M168.7 225.4 L167.5 220.1 M168.7 225.4 L163.8 223.0 M173.0 202.0 L175.3 204.9 L177.7 207.8 L180.1 210.7 L182.6 213.5 L185.1 216.3 L187.6 219.2 L190.1 221.9 L192.7 224.7 M192.7 224.7 L191.1 219.5 M192.7 224.7 L187.6 222.8 M195.1 202.6 L197.7 205.4 L200.3 208.1 L203.0 210.8 L205.7 213.5 L208.4 216.2 L211.2 218.8 L213.9 221.4 L216.8 223.9 M216.8 223.9 L214.7 218.9 M216.8 223.9 L211.6 222.4 M217.2 203.3 L220.1 205.9 L222.9 208.5 L225.8 211.0 L228.8 213.5 L231.8 216.0 L234.8 218.4 L237.8 220.7 L240.9 223.0 M240.9 223.0 L238.4 218.2 M240.9 223.0 L235.6 222.1 M240.0 205.3 L242.9 207.5 L245.8 209.5 L248.8 211.6 L251.9 213.5 L255.0 215.4 L258.1 217.3 L261.2 219.1 L264.4 220.8 M264.4 220.8 L261.2 216.4 M264.4 220.8 L259.0 220.6 M262.6 207.5 L265.6 209.1 L268.7 210.7 L271.8 212.1 L275.0 213.5 L278.2 214.9 L281.3 216.2 L284.6 217.4 L287.8 218.5 M287.8 218.5 L284.0 214.7 M287.8 218.5 L282.5 219.2 M285.4 209.7 L288.5 210.8 L291.7 211.8 L294.9 212.7 L298.1 213.5 L301.3 214.3 L304.6 215.1 L307.8 215.8 L311.1 216.4 M311.1 216.4 L306.7 213.2 M311.1 216.4 L305.9 217.8 M308.9 212.0 L312.0 212.5 L315.0 212.9 L318.1 213.2 L321.2 213.5 L324.3 213.8 L327.4 214.0 L330.5 214.1 L333.5 214.2 M333.5 214.2 L328.7 211.7 M333.5 214.2 L328.6 216.4 M332.5 214.2 L335.5 214.1 L338.4 214.0 L341.4 213.8 L344.3 213.5 L347.2 213.2 L350.2 212.9 L353.1 212.5 L356.0 212.0 M356.0 212.0 L350.8 210.4 M356.0 212.0 L351.6 215.1 M357.6 216.0 L360.0 215.4 L362.5 214.8 L365.0 214.2 L367.4 213.5 L369.8 212.8 L372.3 212.0 L374.7 211.2 L377.1 210.4 M377.1 210.4 L371.7 209.8 M377.1 210.4 L373.3 214.2 M383.0 217.6 L384.9 216.6 L386.8 215.6 L388.7 214.6 L390.5 213.5 L392.3 212.4 L394.2 211.3 L396.0 210.2 L397.8 209.1 M397.8 209.1 L392.7 209.6 M397.8 209.1 L395.1 213.4 M406.3 218.3 L408.1 217.1 L410.0 215.9 L411.8 214.7 L413.6 213.5 L415.4 212.3 L417.2 211.0 L419.0 209.8 L420.8 208.5 M420.8 208.5 L415.6 209.4 M420.8 208.5 L418.3 213.1 M429.5 218.9 L431.3 217.6 L433.1 216.2 L434.9 214.9 L436.7 213.5 L438.5 212.1 L440.3 210.7 L442.0 209.3 L443.8 207.9 M443.8 207.9 L438.5 209.1 M443.8 207.9 L441.5 212.8 M453.0 218.7 L454.7 217.4 L456.4 216.1 L458.1 214.8 L459.8 213.5 L461.5 212.2 L463.2 210.9 L464.9 209.6 L466.6 208.3 M466.6 208.3 L461.6 209.3 M466.6 208.3 L464.3 212.9 M476.4 218.2 L478.0 217.0 L479.7 215.8 L481.3 214.7 L482.9 213.5 L484.5 212.3 L486.1 211.1 L487.8 210.0 L489.4 208.8 M489.4 208.8 L484.6 209.6 M489.4 208.8 L487.1 213.0 M499.8 217.7 L501.4 216.7 L502.9 215.6 L504.5 214.6 L506.0 213.5 L507.5 212.4 L509.1 211.4 L510.6 210.3 L512.2 209.3 M512.2 209.3 L507.7 209.9 M512.2 209.3 L510.0 213.2 M523.4 217.5 L524.9 216.5 L526.3 215.5 L527.7 214.5 L529.1 213.5 L530.5 212.5 L531.9 211.5 L533.3 210.4 L534.7 209.4 M534.7 209.4 L530.6 210.2 M534.7 209.4 L532.8 213.1 M547.4 217.7 L548.6 216.6 L549.8 215.6 L551.0 214.6 L552.2 213.5 L553.4 212.4 L554.6 211.4 L555.7 210.3 L556.9 209.2 M556.9 209.2 L553.2 210.3 M556.9 209.2 L555.5 212.8 M571.3 218.0 L572.3 216.9 L573.3 215.8 L574.3 214.6 L575.3 213.5 L576.3 212.4 L577.2 211.2 L578.2 210.1 L579.1 208.9 M579.1 208.9 L575.9 210.4 M579.1 208.9 L578.3 212.4 M595.3 218.3 L596.1 217.1 L596.9 215.9 L597.6 214.7 L598.4 213.5 L599.2 212.3 L599.9 211.1 L600.7 209.8 L601.4 208.6 M601.4 208.6 L598.5 210.5 M601.4 208.6 L601.1 212.0 M619.5 217.4 L620.0 216.5 L620.5 215.5 L621.0 214.5 L621.5 213.5 L622.0 212.5 L622.5 211.5 L623.0 210.5 L623.4 209.5 M623.4 209.5 L621.4 211.2 M623.4 209.5 L623.5 212.2 M643.7 216.5 L643.9 215.7 L644.2 215.0 L644.4 214.2 L644.6 213.5 L644.8 212.8 L645.0 212.0 L645.2 211.3 L645.4 210.5 M645.4 210.5 L643.7 212.5 M645.4 210.5 L645.9 213.1 M667.8 215.6 L667.8 215.1 L667.7 214.6 L667.7 214.0 L667.7 213.5 L667.7 213.0 L667.6 212.4 L667.6 211.9 L667.6 211.4 M667.6 211.4 L666.6 213.8 M667.6 211.4 L668.9 213.7 M690.9 215.6 L690.9 215.1 L690.8 214.6 L690.8 214.0 L690.8 213.5 L690.8 213.0 L690.7 212.4 L690.7 211.9 L690.7 211.4 M690.7 211.4 L689.7 213.8 M690.7 211.4 L692.0 213.7 M160.6 221.5 L162.9 224.4 L165.3 227.3 L167.6 230.2 L170.0 233.1 L172.4 236.0 L174.8 238.8 L177.3 241.6 L179.8 244.4 M179.8 244.4 L178.3 239.2 M179.8 244.4 L174.8 242.4 M182.9 222.4 L185.4 225.1 L187.9 227.8 L190.5 230.5 L193.1 233.1 L195.7 235.7 L198.4 238.3 L201.1 240.8 L203.9 243.3 M203.9 243.3 L201.8 238.3 M203.9 243.3 L198.7 241.8 M205.1 223.4 L207.8 225.9 L210.5 228.3 L213.4 230.7 L216.2 233.1 L219.0 235.5 L221.9 237.8 L224.9 240.0 L227.9 242.2 M227.9 242.2 L225.3 237.4 M227.9 242.2 L222.5 241.2 M227.6 224.8 L230.4 226.9 L233.3 229.1 L236.3 231.1 L239.3 233.1 L242.3 235.1 L245.4 237.0 L248.5 238.8 L251.6 240.5 M251.6 240.5 L248.5 236.1 M251.6 240.5 L246.2 240.3 M250.4 226.9 L253.3 228.6 L256.3 230.2 L259.3 231.7 L262.4 233.1 L265.5 234.5 L268.6 235.9 L271.7 237.1 L274.8 238.3 M274.8 238.3 L271.1 234.4 M274.8 238.3 L269.5 238.8 M273.2 229.1 L276.2 230.2 L279.3 231.3 L282.4 232.2 L285.5 233.1 L288.6 234.0 L291.7 234.8 L294.9 235.5 L298.1 236.1 M298.1 236.1 L293.8 232.9 M298.1 236.1 L292.9 237.5 M296.4 231.2 L299.4 231.8 L302.5 232.3 L305.5 232.7 L308.6 233.1 L311.7 233.5 L314.7 233.8 L317.8 234.0 L320.9 234.2 M320.9 234.2 L316.2 231.6 M320.9 234.2 L315.9 236.3 M319.8 233.1 L322.8 233.2 L325.8 233.2 L328.7 233.2 L331.7 233.1 L334.7 233.0 L337.6 232.8 L340.6 232.6 L343.5 232.3 M343.5 232.3 L338.5 230.4 M343.5 232.3 L338.9 235.2 M343.6 235.0 L346.4 234.6 L349.2 234.2 L352.0 233.7 L354.8 233.1 L357.6 232.5 L360.3 231.9 L363.1 231.3 L365.8 230.5 M365.8 230.5 L360.5 229.5 M365.8 230.5 L361.8 234.1 M368.6 236.7 L370.9 235.8 L373.3 235.0 L375.6 234.1 L377.9 233.1 L380.2 232.1 L382.5 231.1 L384.8 230.1 L387.0 228.9 M387.0 228.9 L381.6 229.0 M387.0 228.9 L383.7 233.2 M392.7 238.0 L394.8 236.8 L396.9 235.6 L398.9 234.3 L401.0 233.1 L403.1 231.9 L405.1 230.6 L407.2 229.3 L409.2 228.1 M409.2 228.1 L403.8 228.6 M409.2 228.1 L406.3 232.6 M415.8 238.5 L417.9 237.2 L420.0 235.8 L422.0 234.5 L424.1 233.1 L426.2 231.7 L428.2 230.3 L430.3 228.9 L432.3 227.5 M432.3 227.5 L427.0 228.3 M432.3 227.5 L429.7 232.2 M439.1 238.8 L441.2 237.4 L443.2 236.0 L445.2 234.5 L447.2 233.1 L449.2 231.7 L451.2 230.2 L453.2 228.8 L455.3 227.4 M455.3 227.4 L449.9 228.3 M455.3 227.4 L452.7 232.1 M462.8 238.3 L464.7 237.0 L466.6 235.7 L468.4 234.4 L470.3 233.1 L472.2 231.8 L474.0 230.5 L475.9 229.2 L477.8 227.9 M477.8 227.9 L472.5 228.7 M477.8 227.9 L475.1 232.6 M486.5 237.8 L488.2 236.6 L489.9 235.4 L491.7 234.3 L493.4 233.1 L495.1 231.9 L496.9 230.8 L498.6 229.6 L500.3 228.4 M500.3 228.4 L495.4 229.1 M500.3 228.4 L497.8 232.8 M510.2 237.3 L511.7 236.2 L513.3 235.2 L514.9 234.1 L516.5 233.1 L518.1 232.1 L519.7 231.0 L521.3 230.0 L522.9 229.0 M522.9 229.0 L518.4 229.5 M522.9 229.0 L520.5 232.9 M534.2 237.3 L535.5 236.2 L536.9 235.2 L538.3 234.1 L539.6 233.1 L540.9 232.1 L542.3 231.0 L543.6 229.9 L545.0 228.9 M545.0 228.9 L541.0 229.8 M545.0 228.9 L543.2 232.6 M558.1 237.5 L559.3 236.4 L560.4 235.3 L561.6 234.2 L562.7 233.1 L563.8 232.0 L565.0 230.9 L566.1 229.8 L567.2 228.7 M567.2 228.7 L563.6 229.9 M567.2 228.7 L566.0 232.3 M581.8 237.8 L582.8 236.6 L583.8 235.4 L584.8 234.3 L585.8 233.1 L586.8 231.9 L587.8 230.7 L588.7 229.6 L589.7 228.4 M589.7 228.4 L586.4 229.9 M589.7 228.4 L588.9 232.0 M605.7 237.6 L606.5 236.5 L607.3 235.4 L608.1 234.2 L608.9 233.1 L609.7 232.0 L610.5 230.8 L611.2 229.7 L612.0 228.5 M612.0 228.5 L609.1 230.2 M612.0 228.5 L611.6 231.8 M630.0 236.7 L630.5 235.8 L631.0 234.9 L631.5 234.0 L632.0 233.1 L632.5 232.2 L633.0 231.3 L633.5 230.3 L634.0 229.4 M634.0 229.4 L631.9 231.0 M634.0 229.4 L633.9 232.0 M654.2 235.9 L654.4 235.2 L654.7 234.5 L654.9 233.8 L655.1 233.1 L655.3 232.4 L655.5 231.7 L655.7 231.0 L655.9 230.3 M655.9 230.3 L654.2 232.3 M655.9 230.3 L656.4 232.9 M677.8 235.5 L677.9 234.9 L678.0 234.3 L678.1 233.7 L678.2 233.1 L678.3 232.5 L678.4 231.9 L678.4 231.3 L678.5 230.7 M678.5 230.7 L677.1 232.9 M678.5 230.7 L679.4 233.1 M700.9 235.5 L701.0 234.9 L701.1 234.3 L701.2 233.7 L701.3 233.1 L701.4 232.5 L701.5 231.9 L701.5 231.3 L701.6 230.7 M701.6 230.7 L700.2 232.9 M701.6 230.7 L702.5 233.1 M149.8 241.3 L152.2 244.1 L154.6 247.0 L157.1 249.9 L159.5 252.7 L161.9 255.5 L164.4 258.4 L166.8 261.2 L169.3 264.0 M169.3 264.0 L167.9 258.8 M169.3 264.0 L164.3 262.0 M172.5 242.1 L174.9 244.8 L177.4 247.5 L180.0 250.1 L182.6 252.7 L185.2 255.3 L187.9 257.8 L190.5 260.4 L193.3 262.8 M193.3 262.8 L191.2 257.8 M193.3 262.8 L188.1 261.3 M194.7 243.3 L197.4 245.7 L200.1 248.1 L202.9 250.4 L205.7 252.7 L208.5 255.0 L211.4 257.2 L214.3 259.3 L217.3 261.4 M217.3 261.4 L214.7 256.7 M217.3 261.4 L211.9 260.6 M216.9 244.5 L219.8 246.7 L222.7 248.7 L225.8 250.8 L228.8 252.7 L231.8 254.6 L234.9 256.5 L238.1 258.3 L241.3 260.0 M241.3 260.0 L238.1 255.6 M241.3 260.0 L235.9 259.8 M239.9 246.7 L242.8 248.3 L245.8 249.8 L248.8 251.3 L251.9 252.7 L255.0 254.1 L258.1 255.4 L261.2 256.6 L264.4 257.8 M264.4 257.8 L260.6 253.9 M264.4 257.8 L259.0 258.4 M262.8 248.9 L265.8 250.0 L268.9 251.0 L271.9 251.9 L275.0 252.7 L278.1 253.5 L281.2 254.3 L284.3 254.9 L287.4 255.5 M287.4 255.5 L283.1 252.3 M287.4 255.5 L282.2 257.0 M285.8 251.2 L288.9 251.7 L292.0 252.1 L295.0 252.4 L298.1 252.7 L301.2 253.0 L304.3 253.2 L307.3 253.4 L310.4 253.5 M310.4 253.5 L305.7 250.9 M310.4 253.5 L305.5 255.7 M309.1 252.9 L312.1 252.9 L315.2 252.9 L318.2 252.8 L321.2 252.7 L324.2 252.6 L327.2 252.4 L330.3 252.1 L333.3 251.8 M333.3 251.8 L328.2 250.0 M333.3 251.8 L328.7 254.7 M332.4 254.6 L335.4 254.2 L338.4 253.8 L341.3 253.3 L344.3 252.7 L347.3 252.1 L350.2 251.5 L353.2 250.9 L356.1 250.2 M356.1 250.2 L350.8 249.0 M356.1 250.2 L351.9 253.6 M356.6 256.2 L359.3 255.4 L362.0 254.5 L364.7 253.6 L367.4 252.7 L370.1 251.8 L372.8 250.8 L375.4 249.8 L378.0 248.7 M378.0 248.7 L372.6 248.3 M378.0 248.7 L374.4 252.7 M381.0 257.6 L383.4 256.5 L385.8 255.3 L388.2 254.0 L390.5 252.7 L392.8 251.4 L395.2 250.1 L397.5 248.8 L399.8 247.4 M399.8 247.4 L394.4 247.8 M399.8 247.4 L396.8 251.9 M404.6 258.2 L406.8 256.8 L409.1 255.5 L411.4 254.1 L413.6 252.7 L415.8 251.3 L418.1 249.9 L420.3 248.5 L422.5 247.1 M422.5 247.1 L417.2 247.7 M422.5 247.1 L419.7 251.7 M428.0 258.5 L430.2 257.1 L432.4 255.6 L434.5 254.2 L436.7 252.7 L438.9 251.2 L441.0 249.7 L443.1 248.3 L445.3 246.8 M445.3 246.8 L440.0 247.6 M445.3 246.8 L442.7 251.5 M451.8 258.2 L453.8 256.8 L455.8 255.5 L457.8 254.1 L459.8 252.7 L461.8 251.3 L463.8 249.9 L465.8 248.5 L467.8 247.2 M467.8 247.2 L462.4 248.0 M467.8 247.2 L465.1 251.9 M475.7 257.8 L477.5 256.5 L479.3 255.2 L481.1 254.0 L482.9 252.7 L484.7 251.4 L486.5 250.2 L488.3 248.9 L490.2 247.6 M490.2 247.6 L484.9 248.5 M490.2 247.6 L487.6 252.3 M499.5 257.3 L501.1 256.2 L502.7 255.0 L504.4 253.9 L506.0 252.7 L507.6 251.5 L509.3 250.4 L510.9 249.2 L512.5 248.1 M512.5 248.1 L507.8 248.8 M512.5 248.1 L510.2 252.3 M523.4 257.0 L524.8 256.0 L526.3 254.9 L527.7 253.8 L529.1 252.7 L530.5 251.6 L531.9 250.5 L533.4 249.4 L534.8 248.3 M534.8 248.3 L530.6 249.2 M534.8 248.3 L532.9 252.2 M547.5 257.1 L548.7 256.0 L549.8 254.9 L551.0 253.8 L552.2 252.7 L553.4 251.6 L554.6 250.5 L555.7 249.4 L556.9 248.3 M556.9 248.3 L553.2 249.4 M556.9 248.3 L555.5 251.9 M570.9 257.3 L572.0 256.1 L573.1 255.0 L574.2 253.9 L575.3 252.7 L576.4 251.5 L577.5 250.4 L578.5 249.2 L579.6 248.1 M579.6 248.1 L576.1 249.5 M579.6 248.1 L578.5 251.7 M594.4 257.4 L595.4 256.3 L596.4 255.1 L597.4 253.9 L598.4 252.7 L599.4 251.5 L600.4 250.3 L601.3 249.1 L602.3 247.9 M602.3 247.9 L599.0 249.5 M602.3 247.9 L601.5 251.5 M618.4 257.0 L619.2 255.9 L620.0 254.9 L620.7 253.8 L621.5 252.7 L622.3 251.6 L623.0 250.5 L623.8 249.4 L624.5 248.3 M624.5 248.3 L621.7 249.9 M624.5 248.3 L624.1 251.5 M642.5 256.5 L643.0 255.6 L643.6 254.6 L644.1 253.7 L644.6 252.7 L645.1 251.7 L645.6 250.8 L646.1 249.8 L646.6 248.8 M646.6 248.8 L644.5 250.4 M646.6 248.8 L646.6 251.5 M666.5 256.1 L666.8 255.2 L667.1 254.4 L667.4 253.6 L667.7 252.7 L668.0 251.8 L668.3 251.0 L668.6 250.1 L668.9 249.3 M668.9 249.3 L667.1 251.1 M668.9 249.3 L669.2 251.9 M689.6 256.1 L689.9 255.2 L690.2 254.4 L690.5 253.6 L690.8 252.7 L691.1 251.8 L691.4 251.0 L691.7 250.1 L692.0 249.3 M692.0 249.3 L690.2 251.1 M692.0 249.3 L692.3 251.9 M160.0 261.3 L162.4 264.1 L164.9 266.9 L167.4 269.6 L170.0 272.3 L172.6 275.0 L175.2 277.6 L177.9 280.2 L180.6 282.7 M180.6 282.7 L178.6 277.7 M180.6 282.7 L175.4 281.2 M182.2 262.8 L184.9 265.3 L187.6 267.7 L190.3 270.0 L193.1 272.3 L195.9 274.6 L198.7 276.8 L201.6 279.0 L204.5 281.1 M204.5 281.1 L202.0 276.3 M204.5 281.1 L199.2 280.2 M204.5 264.3 L207.3 266.4 L210.2 268.4 L213.2 270.4 L216.2 272.3 L219.2 274.2 L222.2 276.0 L225.3 277.8 L228.5 279.5 M228.5 279.5 L225.3 275.1 M228.5 279.5 L223.1 279.3 M227.1 266.1 L230.1 267.8 L233.1 269.4 L236.2 270.9 L239.3 272.3 L242.4 273.7 L245.6 275.1 L248.8 276.3 L252.0 277.5 M252.0 277.5 L248.2 273.6 M252.0 277.5 L246.6 278.1 M250.2 268.4 L253.2 269.5 L256.3 270.5 L259.3 271.5 L262.4 272.3 L265.5 273.1 L268.6 273.9 L271.7 274.6 L274.9 275.2 M274.9 275.2 L270.5 272.0 M274.9 275.2 L269.6 276.6 M273.4 270.8 L276.4 271.3 L279.4 271.7 L282.5 272.0 L285.5 272.3 L288.5 272.6 L291.6 272.7 L294.7 272.8 L297.7 272.9 M297.7 272.9 L292.9 270.5 M297.7 272.9 L292.8 275.2 M296.5 272.8 L299.5 272.7 L302.5 272.6 L305.6 272.5 L308.6 272.3 L311.6 272.1 L314.7 271.9 L317.7 271.6 L320.7 271.3 M320.7 271.3 L315.6 269.4 M320.7 271.3 L316.1 274.1 M319.5 274.3 L322.6 273.8 L325.6 273.4 L328.7 272.9 L331.7 272.3 L334.7 271.7 L337.7 271.2 L340.8 270.5 L343.8 269.9 M343.8 269.9 L338.5 268.6 M343.8 269.9 L339.5 273.2 M342.8 275.7 L345.8 274.9 L348.8 274.1 L351.8 273.2 L354.8 272.3 L357.8 271.4 L360.7 270.4 L363.7 269.4 L366.6 268.4 M366.6 268.4 L361.3 267.8 M366.6 268.4 L362.8 272.3 M366.8 277.0 L369.6 275.9 L372.4 274.7 L375.2 273.5 L377.9 272.3 L380.6 271.1 L383.4 269.8 L386.1 268.4 L388.7 267.1 M388.7 267.1 L383.3 267.2 M388.7 267.1 L385.5 271.4 M390.8 278.0 L393.4 276.6 L395.9 275.2 L398.5 273.7 L401.0 272.3 L403.5 270.9 L406.1 269.4 L408.6 268.0 L411.1 266.5 M411.1 266.5 L405.7 266.9 M411.1 266.5 L408.1 271.0 M414.6 278.1 L417.0 276.7 L419.4 275.2 L421.7 273.8 L424.1 272.3 L426.5 270.8 L428.8 269.4 L431.1 267.9 L433.5 266.4 M433.5 266.4 L428.1 267.0 M433.5 266.4 L430.7 271.0 M438.5 278.1 L440.7 276.7 L442.9 275.2 L445.0 273.8 L447.2 272.3 L449.4 270.8 L451.5 269.4 L453.7 267.9 L455.8 266.4 M455.8 266.4 L450.5 267.2 M455.8 266.4 L453.2 271.1 M462.5 277.7 L464.5 276.4 L466.4 275.0 L468.4 273.7 L470.3 272.3 L472.2 270.9 L474.2 269.6 L476.1 268.2 L478.1 266.8 M478.1 266.8 L472.7 267.7 M478.1 266.8 L475.5 271.6 M486.5 277.3 L488.2 276.1 L489.9 274.8 L491.7 273.6 L493.4 272.3 L495.1 271.0 L496.9 269.8 L498.6 268.5 L500.3 267.3 M500.3 267.3 L495.3 268.2 M500.3 267.3 L497.9 271.8 M510.5 277.0 L512.0 275.8 L513.5 274.6 L515.0 273.5 L516.5 272.3 L518.0 271.1 L519.5 270.0 L521.0 268.8 L522.5 267.7 M522.5 267.7 L518.1 268.6 M522.5 267.7 L520.5 271.8 M534.5 276.9 L535.8 275.7 L537.1 274.6 L538.3 273.4 L539.6 272.3 L540.9 271.2 L542.1 270.0 L543.4 268.8 L544.6 267.7 M544.6 267.7 L540.7 268.9 M544.6 267.7 L543.1 271.5 M558.2 276.9 L559.3 275.8 L560.4 274.6 L561.6 273.5 L562.7 272.3 L563.8 271.1 L565.0 270.0 L566.1 268.8 L567.2 267.7 M567.2 267.7 L563.6 269.0 M567.2 267.7 L566.0 271.4 M581.4 276.9 L582.5 275.8 L583.6 274.6 L584.7 273.5 L585.8 272.3 L586.9 271.1 L588.0 270.0 L589.1 268.8 L590.1 267.6 M590.1 267.6 L586.6 269.0 M590.1 267.6 L589.0 271.3 M604.9 276.9 L605.9 275.8 L606.9 274.6 L607.9 273.5 L608.9 272.3 L609.9 271.1 L610.9 270.0 L611.9 268.8 L612.8 267.6 M612.8 267.6 L609.5 269.1 M612.8 267.6 L612.0 271.2 M628.8 276.8 L629.6 275.7 L630.4 274.6 L631.2 273.4 L632.0 272.3 L632.8 271.2 L633.6 270.0 L634.4 268.9 L635.1 267.7 M635.1 267.7 L632.3 269.4 M635.1 267.7 L634.7 271.0 M652.7 276.7 L653.3 275.6 L653.9 274.5 L654.5 273.4 L655.1 272.3 L655.7 271.2 L656.3 270.1 L656.9 269.0 L657.4 267.8 M657.4 267.8 L655.0 269.7 M657.4 267.8 L657.4 270.9 M676.1 276.7 L676.6 275.6 L677.2 274.5 L677.7 273.4 L678.2 272.3 L678.7 271.2 L679.2 270.1 L679.7 269.0 L680.2 267.9 M680.2 267.9 L678.0 269.7 M680.2 267.9 L680.3 270.8 M699.2 276.7 L699.7 275.6 L700.3 274.5 L700.8 273.4 L701.3 272.3 L701.8 271.2 L702.3 270.1 L702.8 269.0 L703.3 267.9 M703.3 267.9 L701.1 269.7 M703.3 267.9 L703.4 270.8 M149.2 281.2 L151.7 283.9 L154.3 286.6 L156.9 289.3 L159.5 291.9 L162.1 294.5 L164.8 297.2 L167.4 299.7 L170.2 302.2 M170.2 302.2 L168.2 297.2 M170.2 302.2 L165.0 300.7 M171.9 282.3 L174.5 284.8 L177.1 287.2 L179.8 289.6 L182.6 291.9 L185.4 294.2 L188.2 296.4 L191.1 298.6 L194.0 300.7 M194.0 300.7 L191.4 295.9 M194.0 300.7 L188.7 299.8 M194.1 284.0 L196.9 286.1 L199.8 288.1 L202.7 290.0 L205.7 291.9 L208.7 293.8 L211.7 295.5 L214.8 297.3 L217.9 298.9 M217.9 298.9 L214.7 294.5 M217.9 298.9 L212.5 298.7 M216.3 285.8 L219.4 287.4 L222.5 289.0 L225.6 290.5 L228.8 291.9 L232.0 293.3 L235.2 294.7 L238.4 295.9 L241.7 297.1 M241.7 297.1 L237.9 293.2 M241.7 297.1 L236.3 297.7 M239.6 288.1 L242.6 289.2 L245.7 290.1 L248.8 291.1 L251.9 291.9 L255.0 292.7 L258.2 293.5 L261.3 294.2 L264.5 294.8 M264.5 294.8 L260.2 291.5 M264.5 294.8 L259.3 296.2 M262.9 290.4 L265.9 290.9 L268.9 291.3 L272.0 291.7 L275.0 291.9 L278.0 292.1 L281.1 292.3 L284.2 292.4 L287.2 292.4 M287.2 292.4 L282.4 290.0 M287.2 292.4 L282.4 294.8 M286.1 292.8 L289.1 292.7 L292.1 292.5 L295.1 292.2 L298.1 291.9 L301.1 291.6 L304.1 291.3 L307.1 290.9 L310.0 290.5 M310.0 290.5 L304.9 288.8 M310.0 290.5 L305.6 293.5 M309.0 294.1 L312.1 293.6 L315.1 293.1 L318.2 292.5 L321.2 291.9 L324.2 291.3 L327.3 290.6 L330.3 289.9 L333.3 289.2 M333.3 289.2 L328.0 288.1 M333.3 289.2 L329.1 292.7 M331.9 295.4 L335.0 294.6 L338.1 293.7 L341.2 292.8 L344.3 291.9 L347.4 291.0 L350.4 290.0 L353.5 289.0 L356.5 288.0 M356.5 288.0 L351.2 287.3 M356.5 288.0 L352.7 291.8 M355.3 296.5 L358.4 295.4 L361.4 294.3 L364.4 293.1 L367.4 291.9 L370.4 290.7 L373.4 289.4 L376.3 288.1 L379.3 286.8 M379.3 286.8 L373.9 286.6 M379.3 286.8 L375.8 290.9 M378.9 297.7 L381.8 296.3 L384.7 294.9 L387.6 293.4 L390.5 291.9 L393.4 290.4 L396.2 288.8 L399.1 287.3 L401.9 285.7 M401.9 285.7 L396.5 286.0 M401.9 285.7 L398.8 290.1 M403.1 297.8 L405.7 296.4 L408.4 294.9 L411.0 293.4 L413.6 291.9 L416.2 290.4 L418.8 288.9 L421.4 287.3 L424.0 285.8 M424.0 285.8 L418.6 286.3 M424.0 285.8 L421.0 290.3 M427.2 297.8 L429.6 296.3 L432.0 294.9 L434.3 293.4 L436.7 291.9 L439.1 290.4 L441.4 288.9 L443.7 287.4 L446.1 285.8 M446.1 285.8 L440.7 286.5 M446.1 285.8 L443.3 290.5 M451.3 297.5 L453.5 296.1 L455.6 294.7 L457.7 293.3 L459.8 291.9 L461.9 290.5 L464.0 289.0 L466.1 287.6 L468.2 286.2 M468.2 286.2 L462.8 287.0 M468.2 286.2 L465.5 290.9 M475.4 297.2 L477.3 295.9 L479.2 294.6 L481.0 293.2 L482.9 291.9 L484.8 290.6 L486.6 289.2 L488.4 287.9 L490.3 286.5 M490.3 286.5 L485.0 287.5 M490.3 286.5 L487.8 291.3 M499.5 296.8 L501.2 295.6 L502.8 294.4 L504.4 293.1 L506.0 291.9 L507.6 290.7 L509.2 289.4 L510.8 288.1 L512.4 286.9 M512.4 286.9 L507.6 287.9 M512.4 286.9 L510.3 291.3 M523.7 296.6 L525.0 295.4 L526.4 294.3 L527.8 293.1 L529.1 291.9 L530.4 290.7 L531.8 289.5 L533.1 288.3 L534.4 287.1 M534.4 287.1 L530.3 288.3 M534.4 287.1 L532.9 291.1 M547.8 296.6 L548.9 295.4 L550.0 294.3 L551.1 293.1 L552.2 291.9 L553.3 290.7 L554.4 289.5 L555.5 288.4 L556.6 287.2 M556.6 287.2 L553.0 288.6 M556.6 287.2 L555.5 290.9 M570.8 296.6 L571.9 295.4 L573.1 294.2 L574.2 293.1 L575.3 291.9 L576.4 290.7 L577.5 289.6 L578.7 288.4 L579.8 287.3 M579.8 287.3 L576.1 288.6 M579.8 287.3 L578.6 290.9 M593.9 296.5 L595.0 295.4 L596.1 294.2 L597.3 293.1 L598.4 291.9 L599.5 290.7 L600.7 289.6 L601.8 288.5 L602.9 287.3 M602.9 287.3 L599.3 288.6 M602.9 287.3 L601.7 291.0 M617.5 296.7 L618.5 295.5 L619.5 294.3 L620.5 293.1 L621.5 291.9 L622.5 290.7 L623.5 289.5 L624.5 288.3 L625.4 287.1 M625.4 287.1 L622.1 288.7 M625.4 287.1 L624.6 290.7 M641.3 297.0 L642.1 295.7 L642.9 294.4 L643.8 293.2 L644.6 291.9 L645.4 290.6 L646.3 289.4 L647.1 288.1 L647.9 286.8 M647.9 286.8 L644.8 288.7 M647.9 286.8 L647.5 290.4 M664.9 297.2 L665.6 295.9 L666.3 294.6 L667.0 293.2 L667.7 291.9 L668.4 290.6 L669.1 289.3 L669.8 287.9 L670.5 286.6 M670.5 286.6 L667.6 288.7 M670.5 286.6 L670.4 290.2 M688.0 297.2 L688.7 295.9 L689.4 294.6 L690.1 293.2 L690.8 291.9 L691.5 290.6 L692.2 289.3 L692.9 287.9 L693.6 286.6 M693.6 286.6 L690.7 288.7 M693.6 286.6 L693.5 290.2 M159.6 303.0 L162.1 305.2 L164.7 307.4 L167.3 309.5 L170.0 311.5 L172.7 313.5 L175.4 315.5 L178.2 317.4 L181.0 319.2 M181.0 319.2 L178.2 314.6 M181.0 319.2 L175.6 318.6 M182.0 304.4 L184.7 306.3 L187.5 308.1 L190.3 309.8 L193.1 311.5 L195.9 313.2 L198.8 314.8 L201.7 316.3 L204.7 317.8 M204.7 317.8 L201.4 313.5 M204.7 317.8 L199.3 317.7 M204.4 305.9 L207.3 307.4 L210.2 308.8 L213.2 310.2 L216.2 311.5 L219.2 312.8 L222.2 314.0 L225.3 315.2 L228.3 316.3 M228.3 316.3 L224.6 312.4 M228.3 316.3 L223.0 316.9 M227.1 307.5 L230.1 308.6 L233.2 309.7 L236.2 310.6 L239.3 311.5 L242.4 312.4 L245.5 313.2 L248.6 314.0 L251.7 314.7 M251.7 314.7 L247.5 311.3 M251.7 314.7 L246.4 315.9 M250.4 309.5 L253.4 310.1 L256.4 310.6 L259.4 311.1 L262.4 311.5 L265.4 311.9 L268.5 312.3 L271.5 312.6 L274.5 312.8 M274.5 312.8 L269.9 310.1 M274.5 312.8 L269.5 314.8 M273.6 311.4 L276.6 311.5 L279.5 311.6 L282.5 311.6 L285.5 311.5 L288.5 311.4 L291.5 311.3 L294.4 311.1 L297.4 310.9 M297.4 310.9 L292.4 308.9 M297.4 310.9 L292.8 313.6 M296.6 313.0 L299.6 312.7 L302.6 312.3 L305.6 311.9 L308.6 311.5 L311.6 311.1 L314.6 310.6 L317.5 310.1 L320.5 309.6 M320.5 309.6 L315.3 308.1 M320.5 309.6 L316.2 312.8 M319.5 314.2 L322.6 313.5 L325.6 312.9 L328.7 312.2 L331.7 311.5 L334.7 310.8 L337.8 310.0 L340.8 309.2 L343.8 308.4 M343.8 308.4 L338.5 307.4 M343.8 308.4 L339.7 312.0 M342.5 315.3 L345.6 314.4 L348.7 313.5 L351.7 312.5 L354.8 311.5 L357.9 310.5 L360.9 309.5 L363.9 308.4 L366.9 307.3 M366.9 307.3 L361.6 306.7 M366.9 307.3 L363.2 311.2 M366.0 316.4 L369.0 315.2 L372.0 314.0 L374.9 312.8 L377.9 311.5 L380.9 310.2 L383.8 308.9 L386.7 307.5 L389.6 306.1 M389.6 306.1 L384.2 306.1 M389.6 306.1 L386.3 310.4 M389.7 317.1 L392.5 315.7 L395.4 314.3 L398.2 312.9 L401.0 311.5 L403.8 310.1 L406.6 308.6 L409.4 307.1 L412.2 305.7 M412.2 305.7 L406.8 305.9 M412.2 305.7 L409.0 310.0 M413.7 317.2 L416.3 315.8 L418.9 314.4 L421.5 312.9 L424.1 311.5 L426.7 310.1 L429.3 308.6 L431.8 307.1 L434.4 305.6 M434.4 305.6 L429.0 306.0 M434.4 305.6 L431.4 310.1 M437.8 317.1 L440.1 315.7 L442.5 314.3 L444.8 312.9 L447.2 311.5 L449.6 310.1 L451.9 308.6 L454.2 307.2 L456.6 305.7 M456.6 305.7 L451.2 306.3 M456.6 305.7 L453.7 310.3 M461.8 316.7 L464.0 315.4 L466.1 314.1 L468.2 312.8 L470.3 311.5 L472.4 310.2 L474.5 308.9 L476.6 307.5 L478.7 306.2 M478.7 306.2 L473.3 306.8 M478.7 306.2 L475.9 310.8 M485.9 316.3 L487.8 315.1 L489.7 313.9 L491.5 312.7 L493.4 311.5 L495.3 310.3 L497.1 309.1 L498.9 307.8 L500.8 306.6 M500.8 306.6 L495.5 307.3 M500.8 306.6 L498.1 311.2 M510.0 315.9 L511.7 314.8 L513.3 313.7 L514.9 312.6 L516.5 311.5 L518.1 310.4 L519.7 309.3 L521.3 308.1 L522.9 307.0 M522.9 307.0 L518.3 307.8 M522.9 307.0 L520.7 311.1 M534.5 315.7 L535.8 314.7 L537.1 313.6 L538.3 312.6 L539.6 311.5 L540.9 310.4 L542.1 309.3 L543.3 308.2 L544.6 307.1 M544.6 307.1 L540.7 308.2 M544.6 307.1 L543.1 310.8 M558.5 315.9 L559.5 314.8 L560.6 313.7 L561.6 312.6 L562.7 311.5 L563.8 310.4 L564.8 309.3 L565.9 308.2 L566.9 307.1 M566.9 307.1 L563.5 308.4 M566.9 307.1 L565.8 310.6 M581.8 316.0 L582.8 314.9 L583.8 313.8 L584.8 312.6 L585.8 311.5 L586.8 310.4 L587.8 309.2 L588.8 308.1 L589.8 307.0 M589.8 307.0 L586.5 308.3 M589.8 307.0 L588.8 310.5 M605.2 316.2 L606.1 315.0 L607.1 313.9 L608.0 312.7 L608.9 311.5 L609.8 310.3 L610.7 309.1 L611.7 308.0 L612.6 306.8 M612.6 306.8 L609.4 308.3 M612.6 306.8 L611.8 310.3 M628.8 316.5 L629.6 315.2 L630.4 314.0 L631.2 312.7 L632.0 311.5 L632.8 310.3 L633.6 309.0 L634.4 307.8 L635.2 306.5 M635.2 306.5 L632.2 308.4 M635.2 306.5 L634.8 310.1 M652.4 316.7 L653.1 315.4 L653.8 314.1 L654.4 312.8 L655.1 311.5 L655.8 310.2 L656.4 308.9 L657.1 307.6 L657.8 306.3 M657.8 306.3 L655.0 308.4 M657.8 306.3 L657.7 309.8 M675.7 316.8 L676.3 315.5 L677.0 314.2 L677.6 312.8 L678.2 311.5 L678.8 310.2 L679.4 308.9 L680.1 307.5 L680.7 306.2 M680.7 306.2 L678.0 308.4 M680.7 306.2 L680.7 309.7 M698.8 316.8 L699.4 315.5 L700.1 314.2 L700.7 312.8 L701.3 311.5 L701.9 310.2 L702.5 308.9 L703.2 307.5 L703.8 306.2 M703.8 306.2 L701.1 308.4 M703.8 306.2 L703.8 309.7 M149.0 324.6 L151.6 326.3 L154.2 327.9 L156.8 329.5 L159.5 331.1 L162.2 332.7 L164.9 334.2 L167.6 335.7 L170.3 337.2 M170.3 337.2 L167.1 332.8 M170.3 337.2 L164.9 337.0 M171.8 325.3 L174.4 326.8 L177.1 328.3 L179.8 329.7 L182.6 331.1 L185.4 332.5 L188.1 333.8 L190.9 335.0 L193.8 336.2 M193.8 336.2 L190.2 332.1 M193.8 336.2 L188.4 336.5 M194.3 326.5 L197.2 327.7 L200.0 328.9 L202.8 330.0 L205.7 331.1 L208.6 332.2 L211.5 333.2 L214.4 334.2 L217.3 335.1 M217.3 335.1 L213.4 331.4 M217.3 335.1 L212.0 335.9 M216.9 327.6 L219.9 328.6 L222.8 329.5 L225.8 330.3 L228.8 331.1 L231.8 331.9 L234.8 332.6 L237.8 333.3 L240.8 333.9 M240.8 333.9 L236.6 330.6 M240.8 333.9 L235.6 335.3 M240.1 329.1 L243.0 329.7 L246.0 330.2 L248.9 330.7 L251.9 331.1 L254.9 331.5 L257.9 331.9 L260.8 332.2 L263.8 332.5 M263.8 332.5 L259.2 329.7 M263.8 332.5 L258.8 334.4 M263.2 330.6 L266.2 330.8 L269.1 330.9 L272.0 331.0 L275.0 331.1 L278.0 331.2 L280.9 331.2 L283.9 331.1 L286.8 331.1 M286.8 331.1 L281.9 328.8 M286.8 331.1 L282.0 333.6 M286.3 332.0 L289.3 331.9 L292.2 331.7 L295.2 331.4 L298.1 331.1 L301.0 330.8 L304.0 330.5 L306.9 330.1 L309.8 329.7 M309.8 329.7 L304.7 328.0 M309.8 329.7 L305.3 332.7 M309.2 333.1 L312.2 332.7 L315.2 332.2 L318.2 331.7 L321.2 331.1 L324.2 330.5 L327.2 329.9 L330.2 329.3 L333.1 328.7 M333.1 328.7 L327.9 327.4 M333.1 328.7 L328.9 332.0 M332.0 334.2 L335.1 333.5 L338.2 332.7 L341.2 331.9 L344.3 331.1 L347.4 330.3 L350.4 329.4 L353.4 328.5 L356.4 327.6 M356.4 327.6 L351.1 326.8 M356.4 327.6 L352.5 331.3 M355.3 335.2 L358.3 334.2 L361.4 333.2 L364.4 332.2 L367.4 331.1 L370.4 330.0 L373.4 328.9 L376.4 327.7 L379.4 326.5 M379.4 326.5 L374.0 326.2 M379.4 326.5 L375.8 330.5 M378.6 336.2 L381.6 335.0 L384.6 333.7 L387.6 332.4 L390.5 331.1 L393.4 329.8 L396.4 328.4 L399.3 327.0 L402.2 325.6 M402.2 325.6 L396.8 325.6 M402.2 325.6 L398.9 329.9 M402.5 336.5 L405.3 335.2 L408.1 333.8 L410.8 332.5 L413.6 331.1 L416.4 329.7 L419.1 328.3 L421.9 326.9 L424.6 325.5 M424.6 325.5 L419.2 325.6 M424.6 325.5 L421.4 329.8 M426.3 336.6 L429.0 335.3 L431.5 333.9 L434.1 332.5 L436.7 331.1 L439.3 329.7 L441.8 328.3 L444.4 326.8 L446.9 325.4 M446.9 325.4 L441.6 325.7 M446.9 325.4 L443.9 329.8 M450.4 336.3 L452.8 335.0 L455.1 333.7 L457.5 332.4 L459.8 331.1 L462.1 329.8 L464.5 328.5 L466.8 327.1 L469.1 325.8 M469.1 325.8 L463.7 326.2 M469.1 325.8 L466.1 330.3 M474.5 335.8 L476.6 334.6 L478.7 333.5 L480.8 332.3 L482.9 331.1 L485.0 329.9 L487.1 328.7 L489.2 327.5 L491.2 326.3 M491.2 326.3 L485.8 326.7 M491.2 326.3 L488.2 330.8 M498.6 335.3 L500.5 334.3 L502.3 333.2 L504.2 332.2 L506.0 331.1 L507.8 330.0 L509.7 329.0 L511.5 327.9 L513.3 326.8 M513.3 326.8 L508.3 327.2 M513.3 326.8 L510.5 331.1 M523.0 334.9 L524.6 334.0 L526.1 333.0 L527.6 332.1 L529.1 331.1 L530.6 330.1 L532.1 329.1 L533.6 328.1 L535.0 327.1 M535.0 327.1 L530.8 327.8 M535.0 327.1 L533.0 330.8 M547.9 335.0 L549.0 334.0 L550.1 333.1 L551.1 332.1 L552.2 331.1 L553.3 330.1 L554.3 329.1 L555.4 328.1 L556.4 327.1 M556.4 327.1 L553.1 328.2 M556.4 327.1 L555.2 330.4 M571.5 335.4 L572.5 334.3 L573.4 333.2 L574.4 332.2 L575.3 331.1 L576.2 330.0 L577.2 329.0 L578.1 327.9 L579.0 326.8 M579.0 326.8 L575.9 328.2 M579.0 326.8 L578.2 330.1 M595.2 335.8 L596.0 334.6 L596.8 333.4 L597.6 332.3 L598.4 331.1 L599.2 329.9 L600.0 328.8 L600.8 327.6 L601.7 326.5 M601.7 326.5 L598.7 328.1 M601.7 326.5 L601.1 329.8 M618.7 336.0 L619.4 334.8 L620.1 333.5 L620.8 332.3 L621.5 331.1 L622.2 329.9 L622.9 328.7 L623.7 327.4 L624.4 326.2 M624.4 326.2 L621.5 328.1 M624.4 326.2 L624.1 329.6 M642.1 336.2 L642.7 334.9 L643.4 333.7 L644.0 332.4 L644.6 331.1 L645.2 329.8 L645.9 328.5 L646.5 327.3 L647.1 326.0 M647.1 326.0 L644.4 328.1 M647.1 326.0 L647.1 329.4 M665.5 336.4 L666.1 335.1 L666.6 333.8 L667.2 332.4 L667.7 331.1 L668.2 329.8 L668.8 328.4 L669.3 327.1 L669.9 325.8 M669.9 325.8 L667.3 328.1 M669.9 325.8 L670.1 329.2 M688.6 336.4 L689.2 335.1 L689.7 333.8 L690.3 332.4 L690.8 331.1 L691.3 329.8 L691.9 328.4 L692.4 327.1 L693.0 325.8 M693.0 325.8 L690.4 328.1 M693.0 325.8 L693.2 329.2 M159.3 346.5 L161.9 347.6 L164.6 348.7 L167.3 349.7 L170.0 350.7 L172.7 351.7 L175.4 352.6 L178.2 353.5 L180.9 354.4 M180.9 354.4 L177.0 350.7 M180.9 354.4 L175.6 355.2 M182.0 347.3 L184.8 348.2 L187.5 349.1 L190.3 349.9 L193.1 350.7 L195.9 351.5 L198.7 352.2 L201.5 353.0 L204.3 353.6 M204.3 353.6 L200.1 350.2 M204.3 353.6 L199.0 354.8 M204.8 348.1 L207.7 348.8 L210.5 349.5 L213.3 350.1 L216.2 350.7 L219.1 351.3 L221.9 351.8 L224.8 352.4 L227.7 352.8 M227.7 352.8 L223.3 349.7 M227.7 352.8 L222.5 354.4 M227.7 349.0 L230.6 349.5 L233.5 349.9 L236.4 350.3 L239.3 350.7 L242.2 351.1 L245.1 351.4 L248.0 351.7 L250.9 351.9 M250.9 351.9 L246.3 349.1 M250.9 351.9 L245.9 353.9 M250.8 350.1 L253.7 350.3 L256.6 350.5 L259.5 350.6 L262.4 350.7 L265.3 350.8 L268.2 350.9 L271.1 350.9 L274.0 350.9 M274.0 350.9 L269.2 348.5 M274.0 350.9 L269.1 353.3 M273.9 351.1 L276.8 351.1 L279.7 351.0 L282.6 350.8 L285.5 350.7 L288.4 350.6 L291.3 350.4 L294.2 350.2 L297.1 349.9 M297.1 349.9 L292.1 348.0 M297.1 349.9 L292.5 352.7 M296.8 352.1 L299.8 351.8 L302.7 351.5 L305.7 351.1 L308.6 350.7 L311.5 350.3 L314.5 349.9 L317.4 349.4 L320.3 348.9 M320.3 348.9 L315.2 347.4 M320.3 348.9 L315.9 352.1 M319.7 353.1 L322.7 352.5 L325.7 352.0 L328.7 351.3 L331.7 350.7 L334.7 350.1 L337.7 349.4 L340.7 348.7 L343.7 348.0 M343.7 348.0 L338.4 346.8 M343.7 348.0 L339.5 351.4 M342.6 354.1 L345.6 353.3 L348.7 352.4 L351.8 351.6 L354.8 350.7 L357.8 349.8 L360.9 348.9 L363.9 347.9 L366.9 347.0 M366.9 347.0 L361.6 346.2 M366.9 347.0 L363.0 350.7 M365.8 355.0 L368.8 354.0 L371.9 352.9 L374.9 351.8 L377.9 350.7 L380.9 349.6 L383.9 348.4 L386.9 347.2 L389.9 346.0 M389.9 346.0 L384.5 345.7 M389.9 346.0 L386.3 350.0 M389.3 355.7 L392.2 354.5 L395.2 353.2 L398.1 352.0 L401.0 350.7 L403.9 349.4 L406.8 348.1 L409.7 346.8 L412.6 345.5 M412.6 345.5 L407.2 345.4 M412.6 345.5 L409.2 349.7 M413.0 355.9 L415.8 354.7 L418.6 353.4 L421.3 352.0 L424.1 350.7 L426.9 349.4 L429.6 348.0 L432.4 346.6 L435.1 345.2 M435.1 345.2 L429.7 345.3 M435.1 345.2 L431.9 349.6 M436.8 356.0 L439.4 354.7 L442.0 353.4 L444.6 352.0 L447.2 350.7 L449.8 349.4 L452.4 348.0 L454.9 346.7 L457.5 345.3 M457.5 345.3 L452.1 345.5 M457.5 345.3 L454.3 349.7 M460.9 355.4 L463.3 354.3 L465.6 353.1 L468.0 351.9 L470.3 350.7 L472.6 349.5 L475.0 348.3 L477.3 347.1 L479.6 345.9 M479.6 345.9 L474.2 346.0 M479.6 345.9 L476.4 350.2 M485.0 354.9 L487.1 353.8 L489.2 352.8 L491.3 351.7 L493.4 350.7 L495.5 349.7 L497.6 348.6 L499.7 347.5 L501.8 346.5 M501.8 346.5 L496.4 346.6 M501.8 346.5 L498.5 350.8 M509.1 354.3 L510.9 353.4 L512.8 352.5 L514.6 351.6 L516.5 350.7 L518.4 349.8 L520.2 348.9 L522.0 348.0 L523.9 347.0 M523.9 347.0 L518.9 347.1 M523.9 347.0 L520.9 351.0 M534.3 354.1 L535.6 353.3 L537.0 352.4 L538.3 351.6 L539.6 350.7 L540.9 349.8 L542.2 348.9 L543.5 348.0 L544.8 347.1 M544.8 347.1 L541.1 347.8 M544.8 347.1 L543.0 350.4 M558.9 354.4 L559.8 353.5 L560.8 352.6 L561.8 351.6 L562.7 350.7 L563.6 349.8 L564.6 348.8 L565.5 347.8 L566.4 346.9 M566.4 346.9 L563.4 348.0 M566.4 346.9 L565.5 349.9 M582.8 355.0 L583.5 354.0 L584.3 352.9 L585.0 351.8 L585.8 350.7 L586.6 349.6 L587.3 348.5 L588.1 347.4 L588.8 346.3 M588.8 346.3 L586.0 347.9 M588.8 346.3 L588.3 349.5 M606.5 355.5 L607.1 354.3 L607.7 353.1 L608.3 351.9 L608.9 350.7 L609.5 349.5 L610.1 348.3 L610.8 347.1 L611.4 345.9 M611.4 345.9 L608.8 347.8 M611.4 345.9 L611.3 349.2 M629.8 355.7 L630.4 354.5 L630.9 353.2 L631.4 352.0 L632.0 350.7 L632.6 349.4 L633.1 348.2 L633.7 347.0 L634.2 345.7 M634.2 345.7 L631.7 347.8 M634.2 345.7 L634.3 349.0 M653.1 355.9 L653.6 354.6 L654.1 353.3 L654.6 352.0 L655.1 350.7 L655.6 349.4 L656.1 348.1 L656.6 346.8 L657.1 345.5 M657.1 345.5 L654.6 347.8 M657.1 345.5 L657.4 348.8 M676.4 356.0 L676.8 354.7 L677.3 353.4 L677.7 352.0 L678.2 350.7 L678.7 349.4 L679.1 348.0 L679.6 346.7 L680.1 345.4 M680.1 345.4 L677.7 347.7 M680.1 345.4 L680.5 348.8 M699.5 356.0 L699.9 354.7 L700.4 353.4 L700.8 352.0 L701.3 350.7 L701.8 349.4 L702.2 348.0 L702.7 346.7 L703.2 345.4 M703.2 345.4 L700.8 347.7 M703.2 345.4 L703.6 348.8 M148.6 368.2 L151.3 368.7 L154.1 369.3 L156.8 369.8 L159.5 370.3 L162.2 370.8 L165.0 371.3 L167.7 371.8 L170.4 372.2 M170.4 372.2 L166.0 369.1 M170.4 372.2 L165.2 373.8 M171.6 368.5 L174.4 369.0 L177.1 369.5 L179.9 369.9 L182.6 370.3 L185.3 370.7 L188.1 371.1 L190.8 371.5 L193.6 371.8 M193.6 371.8 L189.1 368.9 M193.6 371.8 L188.5 373.6 M194.6 369.0 L197.4 369.4 L200.2 369.7 L202.9 370.0 L205.7 370.3 L208.5 370.6 L211.2 370.8 L214.0 371.1 L216.8 371.3 M216.8 371.3 L212.1 368.6 M216.8 371.3 L211.8 373.3 M217.6 369.6 L220.4 369.8 L223.2 370.0 L226.0 370.1 L228.8 370.3 L231.6 370.5 L234.4 370.6 L237.2 370.7 L240.0 370.8 M240.0 370.8 L235.2 368.3 M240.0 370.8 L235.1 373.0 M240.6 370.1 L243.4 370.2 L246.3 370.2 L249.1 370.3 L251.9 370.3 L254.7 370.3 L257.5 370.3 L260.4 370.3 L263.2 370.3 M263.2 370.3 L258.3 368.0 M263.2 370.3 L258.4 372.7 M263.6 370.7 L266.4 370.6 L269.3 370.5 L272.1 370.4 L275.0 370.3 L277.9 370.2 L280.7 370.0 L283.6 369.9 L286.4 369.7 M286.4 369.7 L281.4 367.6 M286.4 369.7 L281.7 372.4 M286.5 371.3 L289.4 371.1 L292.3 370.8 L295.2 370.6 L298.1 370.3 L301.0 370.0 L303.9 369.7 L306.8 369.4 L309.6 369.0 M309.6 369.0 L304.5 367.3 M309.6 369.0 L305.1 372.0 M309.4 372.2 L312.3 371.7 L315.3 371.3 L318.2 370.8 L321.2 370.3 L324.2 369.8 L327.1 369.3 L330.0 368.7 L333.0 368.1 M333.0 368.1 L327.8 366.7 M333.0 368.1 L328.7 371.4 M332.2 373.0 L335.2 372.4 L338.2 371.7 L341.3 371.0 L344.3 370.3 L347.3 369.6 L350.3 368.8 L353.3 368.0 L356.3 367.2 M356.3 367.2 L351.0 366.2 M356.3 367.2 L352.3 370.8 M355.2 373.9 L358.3 373.0 L361.3 372.2 L364.4 371.2 L367.4 370.3 L370.4 369.4 L373.5 368.4 L376.5 367.4 L379.5 366.3 M379.5 366.3 L374.1 365.7 M379.5 366.3 L375.7 370.2 M378.3 374.8 L381.4 373.7 L384.4 372.6 L387.5 371.5 L390.5 370.3 L393.5 369.1 L396.6 368.0 L399.6 366.8 L402.6 365.5 M402.6 365.5 L397.2 365.2 M402.6 365.5 L399.0 369.6 M401.9 375.2 L404.8 374.0 L407.8 372.8 L410.7 371.5 L413.6 370.3 L416.5 369.1 L419.4 367.8 L422.3 366.5 L425.2 365.2 M425.2 365.2 L419.8 365.0 M425.2 365.2 L421.7 369.4 M425.5 375.5 L428.3 374.2 L431.1 372.9 L433.9 371.6 L436.7 370.3 L439.5 369.0 L442.3 367.6 L445.1 366.3 L447.8 364.9 M447.8 364.9 L442.4 364.9 M447.8 364.9 L444.5 369.2 M449.5 375.1 L452.1 373.9 L454.7 372.7 L457.2 371.5 L459.8 370.3 L462.4 369.1 L464.9 367.9 L467.5 366.7 L470.1 365.5 M470.1 365.5 L464.7 365.4 M470.1 365.5 L466.7 369.7 M473.6 374.4 L475.9 373.4 L478.2 372.4 L480.6 371.3 L482.9 370.3 L485.2 369.3 L487.6 368.2 L489.9 367.2 L492.2 366.1 M492.2 366.1 L486.8 366.0 M492.2 366.1 L488.7 370.3 M497.7 373.8 L499.7 372.9 L501.8 372.1 L503.9 371.2 L506.0 370.3 L508.1 369.4 L510.2 368.5 L512.2 367.7 L514.3 366.8 M514.3 366.8 L508.9 366.5 M514.3 366.8 L510.8 370.9 M522.4 373.3 L524.1 372.6 L525.8 371.8 L527.4 371.1 L529.1 370.3 L530.8 369.5 L532.4 368.7 L534.1 367.9 L535.7 367.1 M535.7 367.1 L531.3 367.2 M535.7 367.1 L533.1 370.6 M548.1 373.4 L549.1 372.6 L550.2 371.9 L551.2 371.1 L552.2 370.3 L553.2 369.5 L554.2 368.7 L555.2 367.9 L556.2 367.1 M556.2 367.1 L553.2 367.8 M556.2 367.1 L554.9 369.9 M572.3 374.2 L573.0 373.2 L573.8 372.3 L574.6 371.3 L575.3 370.3 L576.0 369.3 L576.8 368.3 L577.5 367.3 L578.3 366.4 M578.3 366.4 L575.6 367.7 M578.3 366.4 L577.7 369.3 M596.5 375.0 L596.9 373.8 L597.4 372.6 L597.9 371.5 L598.4 370.3 L598.9 369.1 L599.4 368.0 L599.9 366.8 L600.4 365.6 M600.4 365.6 L598.1 367.6 M600.4 365.6 L600.5 368.7 M619.8 375.2 L620.2 374.0 L620.6 372.8 L621.1 371.5 L621.5 370.3 L621.9 369.1 L622.4 367.8 L622.9 366.6 L623.3 365.4 M623.3 365.4 L621.0 367.5 M623.3 365.4 L623.6 368.5 M643.0 375.4 L643.4 374.2 L643.8 372.9 L644.2 371.6 L644.6 370.3 L645.0 369.0 L645.4 367.7 L645.9 366.5 L646.3 365.2 M646.3 365.2 L644.0 367.5 M646.3 365.2 L646.7 368.4 M666.2 375.6 L666.5 374.3 L666.9 373.0 L667.3 371.6 L667.7 370.3 L668.1 369.0 L668.5 367.6 L668.9 366.3 L669.3 365.0 M669.3 365.0 L667.0 367.4 M669.3 365.0 L669.8 368.3 M689.3 375.6 L689.6 374.3 L690.0 373.0 L690.4 371.6 L690.8 370.3 L691.2 369.0 L691.6 367.6 L692.0 366.3 L692.4 365.0 M692.4 365.0 L690.1 367.4 M692.4 365.0 L692.9 368.3 M159.0 389.0 L161.8 389.2 L164.5 389.5 L167.3 389.7 L170.0 389.9 L172.7 390.1 L175.5 390.3 L178.2 390.5 L181.0 390.7 M181.0 390.7 L176.3 388.0 M181.0 390.7 L176.0 392.7 M182.1 389.3 L184.9 389.5 L187.6 389.6 L190.4 389.8 L193.1 389.9 L195.8 390.0 L198.6 390.1 L201.3 390.3 L204.1 390.4 M204.1 390.4 L199.3 387.8 M204.1 390.4 L199.1 392.5 M205.2 389.7 L208.0 389.7 L210.7 389.8 L213.5 389.9 L216.2 389.9 L218.9 389.9 L221.7 390.0 L224.4 390.0 L227.2 390.0 M227.2 390.0 L222.4 387.6 M227.2 390.0 L222.3 392.4 M228.2 390.0 L231.0 390.0 L233.8 390.0 L236.5 389.9 L239.3 389.9 L242.1 389.9 L244.8 389.8 L247.6 389.8 L250.4 389.7 M250.4 389.7 L245.5 387.4 M250.4 389.7 L245.6 392.2 M251.2 390.3 L254.0 390.2 L256.8 390.1 L259.6 390.0 L262.4 389.9 L265.2 389.8 L268.0 389.6 L270.8 389.5 L273.6 389.3 M273.6 389.3 L268.6 387.2 M273.6 389.3 L268.9 392.0 M274.1 390.7 L277.0 390.5 L279.8 390.3 L282.7 390.1 L285.5 389.9 L288.3 389.7 L291.2 389.5 L294.0 389.2 L296.9 389.0 M296.9 389.0 L291.9 387.0 M296.9 389.0 L292.2 391.8 M297.0 391.2 L299.9 390.9 L302.8 390.6 L305.7 390.3 L308.6 389.9 L311.5 389.5 L314.4 389.1 L317.3 388.7 L320.2 388.3 M320.2 388.3 L315.0 386.7 M320.2 388.3 L315.8 391.4 M319.8 392.0 L322.8 391.5 L325.8 391.0 L328.7 390.5 L331.7 389.9 L334.7 389.3 L337.6 388.7 L340.6 388.1 L343.6 387.5 M343.6 387.5 L338.3 386.2 M343.6 387.5 L339.3 390.8 M342.7 392.8 L345.7 392.1 L348.7 391.4 L351.8 390.7 L354.8 389.9 L357.8 389.1 L360.8 388.3 L363.9 387.5 L366.9 386.6 M366.9 386.6 L361.5 385.7 M366.9 386.6 L362.8 390.2 M365.7 393.7 L368.8 392.8 L371.8 391.8 L374.9 390.9 L377.9 389.9 L380.9 388.9 L384.0 387.9 L387.0 386.9 L390.0 385.8 M390.0 385.8 L384.6 385.2 M390.0 385.8 L386.2 389.7 M389.0 394.3 L392.0 393.2 L395.0 392.1 L398.0 391.0 L401.0 389.9 L404.0 388.8 L407.0 387.6 L410.0 386.5 L412.9 385.3 M412.9 385.3 L407.5 384.9 M412.9 385.3 L409.3 389.3 M412.5 394.7 L415.4 393.5 L418.3 392.3 L421.2 391.1 L424.1 389.9 L427.0 388.7 L429.9 387.4 L432.8 386.2 L435.6 384.9 M435.6 384.9 L430.3 384.7 M435.6 384.9 L432.2 389.0 M436.2 394.8 L438.9 393.6 L441.7 392.4 L444.4 391.1 L447.2 389.9 L450.0 388.7 L452.7 387.4 L455.5 386.2 L458.2 385.0 M458.2 385.0 L452.8 384.8 M458.2 385.0 L454.8 389.1 M460.3 394.2 L462.8 393.1 L465.3 392.0 L467.8 391.0 L470.3 389.9 L472.8 388.8 L475.3 387.8 L477.8 386.7 L480.3 385.6 M480.3 385.6 L474.9 385.4 M480.3 385.6 L476.8 389.7 M484.4 393.6 L486.7 392.6 L488.9 391.7 L491.1 390.8 L493.4 389.9 L495.7 389.0 L497.9 388.1 L500.2 387.2 L502.4 386.3 M502.4 386.3 L497.0 385.9 M502.4 386.3 L498.8 390.3 M508.5 392.9 L510.5 392.1 L512.5 391.4 L514.5 390.6 L516.5 389.9 L518.5 389.2 L520.5 388.4 L522.5 387.7 L524.5 386.9 M524.5 386.9 L519.4 386.5 M524.5 386.9 L521.0 390.7 M534.3 392.7 L535.6 392.0 L536.9 391.3 L538.3 390.6 L539.6 389.9 L540.9 389.2 L542.2 388.4 L543.5 387.7 L544.8 386.9 M544.8 386.9 L541.2 387.2 M544.8 386.9 L542.9 389.9 M559.3 393.3 L560.2 392.4 L561.0 391.6 L561.9 390.7 L562.7 389.9 L563.5 389.1 L564.4 388.2 L565.2 387.3 L566.0 386.5 M566.0 386.5 L563.3 387.5 M566.0 386.5 L565.2 389.2 M583.6 394.1 L584.1 393.1 L584.7 392.0 L585.3 391.0 L585.8 389.9 L586.3 388.8 L586.9 387.8 L587.4 386.7 L588.0 385.7 M588.0 385.7 L585.7 387.4 M588.0 385.7 L587.9 388.5 M607.4 394.7 L607.8 393.5 L608.2 392.3 L608.5 391.1 L608.9 389.9 L609.3 388.7 L609.6 387.5 L610.0 386.3 L610.4 385.1 M610.4 385.1 L608.3 387.3 M610.4 385.1 L610.8 388.1 M630.5 394.9 L630.9 393.6 L631.3 392.4 L631.6 391.1 L632.0 389.9 L632.4 388.7 L632.7 387.4 L633.1 386.2 L633.5 384.9 M633.5 384.9 L631.4 387.2 M633.5 384.9 L634.0 388.0 M653.7 395.0 L654.0 393.8 L654.4 392.5 L654.7 391.2 L655.1 389.9 L655.5 388.6 L655.8 387.3 L656.2 386.0 L656.5 384.8 M656.5 384.8 L654.4 387.2 M656.5 384.8 L657.1 387.9 M676.8 395.1 L677.2 393.8 L677.5 392.5 L677.9 391.2 L678.2 389.9 L678.5 388.6 L678.9 387.3 L679.2 386.0 L679.6 384.7 M679.6 384.7 L677.5 387.1 M679.6 384.7 L680.2 387.9 M699.9 395.1 L700.3 393.8 L700.6 392.5 L701.0 391.2 L701.3 389.9 L701.6 388.6 L702.0 387.3 L702.3 386.0 L702.7 384.7 M702.7 384.7 L700.6 387.1 M702.7 384.7 L703.3 387.9 M148.5 408.7 L151.3 408.9 L154.0 409.1 L156.8 409.3 L159.5 409.5 L162.2 409.7 L165.0 409.9 L167.7 410.1 L170.5 410.3 M170.5 410.3 L165.8 407.6 M170.5 410.3 L165.5 412.3 M171.6 408.9 L174.4 409.0 L177.1 409.2 L179.9 409.4 L182.6 409.5 L185.3 409.6 L188.1 409.8 L190.8 409.9 L193.6 410.0 M193.6 410.0 L188.8 407.5 M193.6 410.0 L188.6 412.2 M194.7 409.2 L197.5 409.3 L200.2 409.3 L203.0 409.4 L205.7 409.5 L208.4 409.6 L211.2 409.6 L213.9 409.7 L216.7 409.7 M216.7 409.7 L211.9 407.3 M216.7 409.7 L211.8 412.0 M217.8 409.4 L220.6 409.5 L223.3 409.5 L226.1 409.5 L228.8 409.5 L231.5 409.5 L234.3 409.5 L237.0 409.5 L239.8 409.5 M239.8 409.5 L234.9 407.1 M239.8 409.5 L235.0 411.9 M240.7 409.8 L243.5 409.7 L246.3 409.6 L249.1 409.6 L251.9 409.5 L254.7 409.4 L257.5 409.3 L260.3 409.2 L263.1 409.1 M263.1 409.1 L258.1 406.9 M263.1 409.1 L258.3 411.7 M263.7 410.1 L266.5 410.0 L269.3 409.8 L272.2 409.7 L275.0 409.5 L277.8 409.3 L280.7 409.2 L283.5 409.0 L286.3 408.8 M286.3 408.8 L281.3 406.8 M286.3 408.8 L281.6 411.5 M286.6 410.4 L289.5 410.2 L292.4 410.0 L295.2 409.8 L298.1 409.5 L301.0 409.2 L303.8 409.0 L306.7 408.6 L309.6 408.3 M309.6 408.3 L304.5 406.5 M309.6 408.3 L305.0 411.2 M309.4 411.2 L312.4 410.8 L315.3 410.4 L318.3 410.0 L321.2 409.5 L324.1 409.0 L327.1 408.6 L330.0 408.1 L332.9 407.6 M332.9 407.6 L327.7 406.1 M332.9 407.6 L328.5 410.7 M332.3 411.9 L335.3 411.4 L338.3 410.8 L341.3 410.1 L344.3 409.5 L347.3 408.9 L350.3 408.2 L353.3 407.5 L356.2 406.8 M356.2 406.8 L351.0 405.6 M356.2 406.8 L352.1 410.2 M355.3 412.7 L358.4 411.9 L361.4 411.1 L364.4 410.3 L367.4 409.5 L370.4 408.7 L373.4 407.8 L376.4 406.9 L379.4 406.0 M379.4 406.0 L374.1 405.2 M379.4 406.0 L375.4 409.7 M378.4 413.5 L381.5 412.5 L384.5 411.5 L387.5 410.5 L390.5 409.5 L393.5 408.5 L396.5 407.4 L399.5 406.4 L402.5 405.3 M402.5 405.3 L397.1 404.7 M402.5 405.3 L398.7 409.2 M401.9 413.9 L404.8 412.8 L407.7 411.7 L410.7 410.6 L413.6 409.5 L416.5 408.4 L419.4 407.3 L422.4 406.1 L425.3 405.0 M425.3 405.0 L419.9 404.6 M425.3 405.0 L421.6 409.0 M425.3 414.2 L428.1 413.0 L431.0 411.9 L433.9 410.7 L436.7 409.5 L439.5 408.3 L442.4 407.1 L445.2 405.9 L448.1 404.7 M448.1 404.7 L442.7 404.4 M448.1 404.7 L444.5 408.8 M449.4 413.8 L452.0 412.7 L454.6 411.7 L457.2 410.6 L459.8 409.5 L462.4 408.4 L465.0 407.3 L467.6 406.3 L470.2 405.2 M470.2 405.2 L464.8 404.9 M470.2 405.2 L466.6 409.2 M473.6 413.3 L475.9 412.3 L478.2 411.4 L480.6 410.4 L482.9 409.5 L485.2 408.6 L487.6 407.6 L489.9 406.7 L492.2 405.8 M492.2 405.8 L486.8 405.4 M492.2 405.8 L488.6 409.8 M497.8 412.7 L499.8 411.9 L501.9 411.1 L503.9 410.3 L506.0 409.5 L508.1 408.7 L510.1 407.9 L512.2 407.1 L514.2 406.3 M514.2 406.3 L509.0 405.9 M514.2 406.3 L510.6 410.2 M522.7 412.3 L524.3 411.6 L525.9 410.9 L527.5 410.2 L529.1 409.5 L530.7 408.8 L532.3 408.0 L533.8 407.3 L535.4 406.5 M535.4 406.5 L531.2 406.5 M535.4 406.5 L532.9 409.8 M548.6 412.6 L549.5 411.9 L550.4 411.1 L551.3 410.3 L552.2 409.5 L553.1 408.7 L554.0 407.9 L554.8 407.1 L555.7 406.3 M555.7 406.3 L553.0 407.1 M555.7 406.3 L554.7 409.0 M572.7 413.4 L573.4 412.4 L574.0 411.4 L574.7 410.5 L575.3 409.5 L575.9 408.5 L576.6 407.6 L577.2 406.6 L577.8 405.6 M577.8 405.6 L575.4 407.1 M577.8 405.6 L577.5 408.4 M596.9 414.1 L597.3 412.9 L597.6 411.8 L598.0 410.6 L598.4 409.5 L598.8 408.4 L599.1 407.2 L599.5 406.1 L599.9 404.9 M599.9 404.9 L597.9 407.0 M599.9 404.9 L600.3 407.8 M620.1 414.3 L620.4 413.1 L620.8 411.9 L621.1 410.7 L621.5 409.5 L621.9 408.3 L622.2 407.1 L622.6 405.9 L622.9 404.7 M622.9 404.7 L620.9 406.9 M622.9 404.7 L623.4 407.7 M643.2 414.4 L643.6 413.2 L643.9 412.0 L644.3 410.7 L644.6 409.5 L644.9 408.3 L645.3 407.0 L645.6 405.8 L646.0 404.6 M646.0 404.6 L643.9 406.9 M646.0 404.6 L646.5 407.6 M666.4 414.5 L666.7 413.3 L667.0 412.0 L667.4 410.8 L667.7 409.5 L668.0 408.2 L668.4 407.0 L668.7 405.7 L669.0 404.5 M669.0 404.5 L667.0 406.8 M669.0 404.5 L669.6 407.5 M689.5 414.5 L689.8 413.3 L690.1 412.0 L690.5 410.8 L690.8 409.5 L691.1 408.2 L691.5 407.0 L691.8 405.7 L692.1 404.5 M692.1 404.5 L690.1 406.8 M692.1 404.5 L692.7 407.5 M159.0 428.4 L161.8 428.6 L164.5 428.8 L167.3 428.9 L170.0 429.1 L172.7 429.3 L175.5 429.4 L178.2 429.5 L181.0 429.7 M181.0 429.7 L176.2 427.1 M181.0 429.7 L176.0 431.8 M182.1 428.7 L184.9 428.8 L187.6 428.9 L190.4 429.0 L193.1 429.1 L195.8 429.2 L198.6 429.3 L201.3 429.4 L204.1 429.4 M204.1 429.4 L199.3 426.9 M204.1 429.4 L199.2 431.7 M205.2 428.9 L208.0 429.0 L210.7 429.0 L213.5 429.1 L216.2 429.1 L218.9 429.1 L221.7 429.2 L224.4 429.2 L227.2 429.2 M227.2 429.2 L222.4 426.8 M227.2 429.2 L222.3 431.5 M228.2 429.2 L231.0 429.2 L233.8 429.2 L236.5 429.1 L239.3 429.1 L242.1 429.1 L244.8 429.0 L247.6 429.0 L250.4 428.9 M250.4 428.9 L245.5 426.7 M250.4 428.9 L245.6 431.4 M251.2 429.5 L254.0 429.4 L256.8 429.3 L259.6 429.2 L262.4 429.1 L265.2 429.0 L268.0 428.9 L270.8 428.7 L273.6 428.6 M273.6 428.6 L268.7 426.5 M273.6 428.6 L268.9 431.2 M274.1 429.8 L277.0 429.7 L279.8 429.5 L282.7 429.3 L285.5 429.1 L288.3 428.9 L291.2 428.7 L294.0 428.5 L296.9 428.3 M296.9 428.3 L291.9 426.3 M296.9 428.3 L292.2 431.0 M297.0 430.3 L299.9 430.0 L302.8 429.7 L305.7 429.4 L308.6 429.1 L311.5 428.8 L314.4 428.4 L317.3 428.1 L320.2 427.7 M320.2 427.7 L315.0 426.0 M320.2 427.7 L315.7 430.7 M319.9 431.0 L322.8 430.5 L325.8 430.1 L328.7 429.6 L331.7 429.1 L334.7 428.6 L337.6 428.1 L340.5 427.5 L343.5 427.0 M343.5 427.0 L338.3 425.6 M343.5 427.0 L339.2 430.2 M342.8 431.7 L345.8 431.1 L348.8 430.4 L351.8 429.8 L354.8 429.1 L357.8 428.4 L360.8 427.7 L363.8 427.0 L366.7 426.2 M366.7 426.2 L361.4 425.1 M366.7 426.2 L362.6 429.7 M365.9 432.4 L368.9 431.6 L371.9 430.8 L374.9 430.0 L377.9 429.1 L380.9 428.2 L383.8 427.3 L386.8 426.4 L389.8 425.5 M389.8 425.5 L384.4 424.7 M389.8 425.5 L385.9 429.2 M389.2 433.0 L392.2 432.1 L395.1 431.1 L398.1 430.1 L401.0 429.1 L403.9 428.1 L406.9 427.1 L409.8 426.0 L412.7 425.0 M412.7 425.0 L407.4 424.4 M412.7 425.0 L409.0 428.9 M412.5 433.3 L415.4 432.3 L418.3 431.2 L421.2 430.2 L424.1 429.1 L427.0 428.0 L429.9 426.9 L432.7 425.8 L435.6 424.7 M435.6 424.7 L430.2 424.3 M435.6 424.7 L431.9 428.7 M436.2 433.4 L438.9 432.4 L441.7 431.3 L444.5 430.2 L447.2 429.1 L449.9 428.0 L452.7 426.9 L455.4 425.8 L458.2 424.7 M458.2 424.7 L452.8 424.3 M458.2 424.7 L454.6 428.7 M460.5 432.9 L462.9 432.0 L465.4 431.0 L467.8 430.1 L470.3 429.1 L472.8 428.1 L475.2 427.2 L477.7 426.2 L480.1 425.2 M480.1 425.2 L474.7 424.8 M480.1 425.2 L476.5 429.2 M484.8 432.4 L486.9 431.6 L489.1 430.8 L491.2 429.9 L493.4 429.1 L495.6 428.3 L497.7 427.4 L499.9 426.6 L502.0 425.8 M502.0 425.8 L496.6 425.3 M502.0 425.8 L498.4 429.7 M509.1 431.9 L510.9 431.2 L512.8 430.5 L514.6 429.8 L516.5 429.1 L518.4 428.4 L520.2 427.7 L522.1 427.0 L523.9 426.2 M523.9 426.2 L519.2 425.9 M523.9 426.2 L520.7 429.8 M534.8 432.1 L536.0 431.4 L537.2 430.6 L538.4 429.9 L539.6 429.1 L540.8 428.3 L541.9 427.5 L543.1 426.7 L544.2 425.9 M544.2 425.9 L540.9 426.5 M544.2 425.9 L542.7 428.9 M559.8 432.7 L560.6 431.8 L561.3 430.9 L562.0 430.0 L562.7 429.1 L563.4 428.2 L564.1 427.3 L564.8 426.4 L565.5 425.5 M565.5 425.5 L563.1 426.7 M565.5 425.5 L565.0 428.2 M583.9 433.3 L584.3 432.2 L584.8 431.2 L585.3 430.1 L585.8 429.1 L586.3 428.1 L586.8 427.0 L587.2 426.0 L587.7 424.9 M587.7 424.9 L585.6 426.7 M587.7 424.9 L587.8 427.7 M607.6 433.7 L607.9 432.5 L608.2 431.4 L608.6 430.2 L608.9 429.1 L609.2 428.0 L609.6 426.8 L609.9 425.7 L610.3 424.5 M610.3 424.5 L608.3 426.6 M610.3 424.5 L610.7 427.3 M630.7 433.8 L631.0 432.6 L631.3 431.4 L631.7 430.3 L632.0 429.1 L632.3 427.9 L632.7 426.8 L633.0 425.6 L633.3 424.4 M633.3 424.4 L631.4 426.6 M633.3 424.4 L633.8 427.3 M653.8 433.9 L654.1 432.7 L654.4 431.5 L654.8 430.3 L655.1 429.1 L655.4 427.9 L655.8 426.7 L656.1 425.5 L656.4 424.3 M656.4 424.3 L654.4 426.5 M656.4 424.3 L657.0 427.2 M676.9 433.9 L677.2 432.7 L677.6 431.5 L677.9 430.3 L678.2 429.1 L678.5 427.9 L678.8 426.7 L679.2 425.5 L679.5 424.3 M679.5 424.3 L677.5 426.5 M679.5 424.3 L680.1 427.2 M700.0 433.9 L700.3 432.7 L700.7 431.5 L701.0 430.3 L701.3 429.1 L701.6 427.9 L701.9 426.7 L702.3 425.5 L702.6 424.3 M702.6 424.3 L700.6 426.5 M702.6 424.3 L703.2 427.2 M148.5 448.1 L151.3 448.3 L154.0 448.4 L156.8 448.6 L159.5 448.7 L162.2 448.8 L165.0 449.0 L167.7 449.1 L170.5 449.3 M170.5 449.3 L165.8 446.7 M170.5 449.3 L165.5 451.4 M171.6 448.3 L174.4 448.4 L177.1 448.5 L179.9 448.6 L182.6 448.7 L185.3 448.8 L188.1 448.9 L190.8 449.0 L193.6 449.1 M193.6 449.1 L188.8 446.6 M193.6 449.1 L188.7 451.3 M194.7 448.5 L197.5 448.5 L200.2 448.6 L203.0 448.6 L205.7 448.7 L208.4 448.8 L211.2 448.8 L213.9 448.8 L216.7 448.9 M216.7 448.9 L211.9 446.4 M216.7 448.9 L211.8 451.2 M217.8 448.7 L220.6 448.7 L223.3 448.7 L226.1 448.7 L228.8 448.7 L231.5 448.7 L234.3 448.7 L237.0 448.7 L239.8 448.7 M239.8 448.7 L234.9 446.3 M239.8 448.7 L235.0 451.1 M240.7 448.9 L243.5 448.9 L246.3 448.8 L249.1 448.8 L251.9 448.7 L254.7 448.6 L257.5 448.5 L260.3 448.5 L263.1 448.4 M263.1 448.4 L258.1 446.2 M263.1 448.4 L258.3 450.9 M263.7 449.2 L266.5 449.1 L269.3 449.0 L272.2 448.8 L275.0 448.7 L277.8 448.6 L280.7 448.4 L283.5 448.2 L286.3 448.0 M286.3 448.0 L281.3 446.0 M286.3 448.0 L281.6 450.7 M286.6 449.6 L289.5 449.4 L292.4 449.2 L295.2 448.9 L298.1 448.7 L301.0 448.5 L303.8 448.2 L306.7 447.9 L309.6 447.6 M309.6 447.6 L304.5 445.8 M309.6 447.6 L305.0 450.5 M309.5 450.2 L312.4 449.8 L315.4 449.5 L318.3 449.1 L321.2 448.7 L324.1 448.3 L327.0 447.9 L330.0 447.5 L332.9 447.0 M332.9 447.0 L327.7 445.4 M332.9 447.0 L328.4 450.1 M332.4 450.8 L335.4 450.3 L338.4 449.8 L341.3 449.3 L344.3 448.7 L347.3 448.1 L350.2 447.6 L353.2 447.0 L356.1 446.4 M356.1 446.4 L350.9 445.0 M356.1 446.4 L351.9 449.7 M355.5 451.5 L358.5 450.8 L361.5 450.1 L364.4 449.4 L367.4 448.7 L370.4 448.0 L373.3 447.2 L376.3 446.4 L379.2 445.6 M379.2 445.6 L373.9 444.6 M379.2 445.6 L375.2 449.2 M378.7 452.2 L381.7 451.4 L384.6 450.5 L387.6 449.6 L390.5 448.7 L393.4 447.8 L396.4 446.9 L399.3 445.9 L402.2 445.0 M402.2 445.0 L396.9 444.2 M402.2 445.0 L398.3 448.7 M402.0 452.6 L404.9 451.6 L407.8 450.6 L410.7 449.7 L413.6 448.7 L416.5 447.7 L419.4 446.7 L422.3 445.7 L425.2 444.7 M425.2 444.7 L419.8 444.1 M425.2 444.7 L421.4 448.6 M425.3 452.8 L428.1 451.8 L431.0 450.8 L433.8 449.7 L436.7 448.7 L439.6 447.7 L442.4 446.6 L445.2 445.5 L448.1 444.5 M448.1 444.5 L442.7 444.0 M448.1 444.5 L444.4 448.4 M449.5 452.5 L452.1 451.6 L454.7 450.6 L457.2 449.7 L459.8 448.7 L462.4 447.7 L464.9 446.8 L467.5 445.8 L470.1 444.8 M470.1 444.8 L464.7 444.3 M470.1 444.8 L466.4 448.8 M473.9 452.1 L476.1 451.2 L478.4 450.4 L480.6 449.6 L482.9 448.7 L485.2 447.8 L487.4 447.0 L489.7 446.1 L491.9 445.3 M491.9 445.3 L486.5 444.8 M491.9 445.3 L488.2 449.2 M498.3 451.7 L500.2 450.9 L502.1 450.2 L504.1 449.4 L506.0 448.7 L507.9 448.0 L509.9 447.2 L511.8 446.5 L513.7 445.7 M513.7 445.7 L508.8 445.3 M513.7 445.7 L510.3 449.4 M523.3 451.5 L524.7 450.8 L526.2 450.1 L527.7 449.4 L529.1 448.7 L530.5 448.0 L532.0 447.2 L533.4 446.4 L534.8 445.6 M534.8 445.6 L530.9 445.9 M534.8 445.6 L532.6 448.8 M549.2 452.2 L550.0 451.3 L550.7 450.4 L551.5 449.6 L552.2 448.7 L552.9 447.8 L553.7 447.0 L554.4 446.1 L555.2 445.2 M555.2 445.2 L552.7 446.3 M555.2 445.2 L554.5 447.9 M573.1 452.6 L573.7 451.7 L574.2 450.7 L574.8 449.7 L575.3 448.7 L575.8 447.7 L576.4 446.7 L576.9 445.7 L577.4 444.7 M577.4 444.7 L575.2 446.3 M577.4 444.7 L577.3 447.4 M597.0 453.1 L597.4 452.0 L597.7 450.9 L598.1 449.8 L598.4 448.7 L598.7 447.6 L599.1 446.5 L599.4 445.4 L599.7 444.3 M599.7 444.3 L597.8 446.3 M599.7 444.3 L600.2 447.0 M620.2 453.2 L620.5 452.1 L620.9 451.0 L621.2 449.8 L621.5 448.7 L621.8 447.6 L622.1 446.4 L622.5 445.3 L622.8 444.2 M622.8 444.2 L620.9 446.3 M622.8 444.2 L623.3 446.9 M643.3 453.3 L643.7 452.1 L644.0 451.0 L644.3 449.8 L644.6 448.7 L644.9 447.6 L645.2 446.4 L645.5 445.3 L645.9 444.1 M645.9 444.1 L644.0 446.3 M645.9 444.1 L646.4 446.9 M666.5 453.3 L666.8 452.2 L667.1 451.0 L667.4 449.9 L667.7 448.7 L668.0 447.5 L668.3 446.4 L668.6 445.2 L668.9 444.1 M668.9 444.1 L667.1 446.2 M668.9 444.1 L669.5 446.9 M689.6 453.3 L689.9 452.2 L690.2 451.0 L690.5 449.9 L690.8 448.7 L691.1 447.5 L691.4 446.4 L691.7 445.2 L692.0 444.1 M692.0 444.1 L690.2 446.2 M692.0 444.1 L692.6 446.9 M159.0 467.9 L161.8 468.0 L164.5 468.1 L167.3 468.2 L170.0 468.3 L172.7 468.4 L175.5 468.5 L178.2 468.6 L181.0 468.7 M181.0 468.7 L176.2 466.2 M181.0 468.7 L176.1 470.9 M182.1 468.0 L184.9 468.1 L187.6 468.2 L190.4 468.2 L193.1 468.3 L195.8 468.4 L198.6 468.4 L201.3 468.5 L204.1 468.5 M204.1 468.5 L199.3 466.1 M204.1 468.5 L199.2 470.8 M205.2 468.2 L208.0 468.2 L210.7 468.2 L213.5 468.3 L216.2 468.3 L218.9 468.3 L221.7 468.3 L224.4 468.4 L227.2 468.4 M227.2 468.4 L222.4 466.0 M227.2 468.4 L222.3 470.7 M228.2 468.4 L231.0 468.4 L233.8 468.4 L236.5 468.3 L239.3 468.3 L242.1 468.3 L244.8 468.2 L247.6 468.2 L250.4 468.1 M250.4 468.1 L245.5 465.9 M250.4 468.1 L245.6 470.6 M251.2 468.7 L254.0 468.6 L256.8 468.5 L259.6 468.4 L262.4 468.3 L265.2 468.2 L268.0 468.1 L270.8 468.0 L273.6 467.8 M273.6 467.8 L268.7 465.7 M273.6 467.8 L268.9 470.4 M274.1 469.0 L276.9 468.8 L279.8 468.6 L282.6 468.5 L285.5 468.3 L288.4 468.1 L291.2 467.9 L294.0 467.7 L296.9 467.5 M296.9 467.5 L291.9 465.5 M296.9 467.5 L292.2 470.2 M297.0 469.4 L299.9 469.1 L302.8 468.9 L305.7 468.6 L308.6 468.3 L311.5 468.0 L314.4 467.7 L317.3 467.4 L320.2 467.0 M320.2 467.0 L315.1 465.3 M320.2 467.0 L315.6 470.0 M320.0 469.9 L322.9 469.6 L325.8 469.2 L328.8 468.7 L331.7 468.3 L334.6 467.9 L337.6 467.4 L340.5 466.9 L343.4 466.5 M343.4 466.5 L338.2 464.9 M343.4 466.5 L339.0 469.6 M342.9 470.5 L345.9 470.0 L348.9 469.4 L351.8 468.9 L354.8 468.3 L357.8 467.7 L360.7 467.1 L363.7 466.5 L366.6 465.8 M366.6 465.8 L361.3 464.6 M366.6 465.8 L362.4 469.2 M366.2 471.2 L369.1 470.5 L372.1 469.8 L375.0 469.1 L377.9 468.3 L380.8 467.5 L383.7 466.7 L386.6 465.9 L389.5 465.1 M389.5 465.1 L384.2 464.2 M389.5 465.1 L385.5 468.7 M389.4 471.8 L392.3 470.9 L395.2 470.1 L398.1 469.2 L401.0 468.3 L403.9 467.4 L406.8 466.5 L409.7 465.6 L412.6 464.7 M412.6 464.7 L407.2 463.9 M412.6 464.7 L408.6 468.4 M412.6 472.0 L415.5 471.1 L418.4 470.2 L421.2 469.2 L424.1 468.3 L427.0 467.4 L429.8 466.4 L432.7 465.5 L435.6 464.5 M435.6 464.5 L430.2 463.8 M435.6 464.5 L431.7 468.3 M436.2 472.0 L439.0 471.1 L441.7 470.2 L444.5 469.2 L447.2 468.3 L449.9 467.4 L452.7 466.4 L455.4 465.4 L458.2 464.5 M458.2 464.5 L452.8 463.9 M458.2 464.5 L454.4 468.3 M460.7 471.7 L463.1 470.9 L465.5 470.0 L467.9 469.2 L470.3 468.3 L472.7 467.4 L475.1 466.6 L477.5 465.7 L479.9 464.8 M479.9 464.8 L474.5 464.3 M479.9 464.8 L476.1 468.7 M485.2 471.3 L487.2 470.6 L489.3 469.8 L491.3 469.1 L493.4 468.3 L495.5 467.5 L497.5 466.8 L499.6 466.0 L501.6 465.2 M501.6 465.2 L496.4 464.7 M501.6 465.2 L498.0 469.1 M509.6 471.0 L511.3 470.3 L513.1 469.7 L514.8 469.0 L516.5 468.3 L518.2 467.6 L519.9 466.9 L521.7 466.3 L523.4 465.5 M523.4 465.5 L518.9 465.3 M523.4 465.5 L520.4 468.9 M535.4 471.5 L536.5 470.7 L537.5 469.9 L538.6 469.1 L539.6 468.3 L540.6 467.5 L541.6 466.6 L542.6 465.8 L543.6 464.9 M543.6 464.9 L540.6 465.8 M543.6 464.9 L542.4 467.8 M560.3 472.1 L560.9 471.1 L561.5 470.2 L562.1 469.2 L562.7 468.3 L563.3 467.4 L563.9 466.4 L564.5 465.5 L565.1 464.5 M565.1 464.5 L562.8 465.9 M565.1 464.5 L564.8 467.2 M584.1 472.5 L584.6 471.4 L585.0 470.4 L585.4 469.3 L585.8 468.3 L586.2 467.3 L586.6 466.2 L587.0 465.2 L587.4 464.1 M587.4 464.1 L585.5 466.0 M587.4 464.1 L587.7 466.8 M607.7 472.7 L608.0 471.6 L608.3 470.5 L608.6 469.4 L608.9 468.3 L609.2 467.2 L609.5 466.1 L609.8 465.0 L610.1 463.9 M610.1 463.9 L608.3 466.0 M610.1 463.9 L610.6 466.6 M630.8 472.7 L631.1 471.6 L631.4 470.5 L631.7 469.4 L632.0 468.3 L632.3 467.2 L632.6 466.1 L632.9 465.0 L633.2 463.9 M633.2 463.9 L631.4 465.9 M633.2 463.9 L633.7 466.6 M653.9 472.7 L654.2 471.6 L654.5 470.5 L654.8 469.4 L655.1 468.3 L655.4 467.2 L655.7 466.1 L656.0 465.0 L656.3 463.9 M656.3 463.9 L654.5 465.9 M656.3 463.9 L656.8 466.6 M677.0 472.8 L677.3 471.6 L677.6 470.5 L677.9 469.4 L678.2 468.3 L678.5 467.2 L678.8 466.1 L679.1 465.0 L679.4 463.8 M679.4 463.8 L677.6 465.9 M679.4 463.8 L679.9 466.6 M700.1 472.8 L700.4 471.6 L700.7 470.5 L701.0 469.4 L701.3 468.3 L701.6 467.2 L701.9 466.1 L702.2 465.0 L702.5 463.8 M702.5 463.8 L700.7 465.9 M702.5 463.8 L703.0 466.6 M148.5 487.4 L151.3 487.5 L154.0 487.6 L156.8 487.8 L159.5 487.9 L162.2 488.0 L165.0 488.2 L167.7 488.3 L170.5 488.4 M170.5 488.4 L165.7 485.8 M170.5 488.4 L165.5 490.6 M171.6 487.5 L174.4 487.6 L177.1 487.7 L179.9 487.8 L182.6 487.9 L185.3 488.0 L188.1 488.1 L190.8 488.2 L193.6 488.3 M193.6 488.3 L188.8 485.8 M193.6 488.3 L188.7 490.5 M194.7 487.6 L197.5 487.7 L200.2 487.8 L203.0 487.8 L205.7 487.9 L208.4 488.0 L211.2 488.0 L213.9 488.1 L216.7 488.1 M216.7 488.1 L211.9 485.7 M216.7 488.1 L211.8 490.4 M217.8 487.8 L220.6 487.8 L223.3 487.9 L226.1 487.9 L228.8 487.9 L231.5 487.9 L234.3 487.9 L237.0 487.9 L239.8 487.9 M239.8 487.9 L234.9 485.6 M239.8 487.9 L234.9 490.3 M240.8 488.0 L243.5 488.0 L246.3 488.0 L249.1 487.9 L251.9 487.9 L254.7 487.9 L257.5 487.8 L260.3 487.7 L263.0 487.7 M263.0 487.7 L258.1 485.4 M263.0 487.7 L258.3 490.1 M263.7 488.3 L266.5 488.2 L269.3 488.1 L272.2 488.0 L275.0 487.9 L277.8 487.8 L280.7 487.7 L283.5 487.5 L286.3 487.4 M286.3 487.4 L281.3 485.3 M286.3 487.4 L281.6 490.0 M286.6 488.6 L289.5 488.5 L292.4 488.3 L295.2 488.1 L298.1 487.9 L301.0 487.7 L303.8 487.5 L306.7 487.3 L309.6 487.0 M309.6 487.0 L304.5 485.1 M309.6 487.0 L304.9 489.8 M309.6 489.1 L312.5 488.8 L315.4 488.5 L318.3 488.2 L321.2 487.9 L324.1 487.6 L327.0 487.2 L329.9 486.9 L332.8 486.5 M332.8 486.5 L327.7 484.8 M332.8 486.5 L328.3 489.5 M332.6 489.6 L335.5 489.2 L338.4 488.8 L341.4 488.4 L344.3 487.9 L347.2 487.4 L350.2 487.0 L353.1 486.5 L356.0 486.0 M356.0 486.0 L350.8 484.5 M356.0 486.0 L351.6 489.1 M355.7 490.2 L358.7 489.7 L361.6 489.1 L364.5 488.5 L367.4 487.9 L370.3 487.3 L373.2 486.6 L376.1 486.0 L379.0 485.3 M379.0 485.3 L373.7 484.1 M379.0 485.3 L374.8 488.7 M379.0 490.9 L381.9 490.2 L384.7 489.4 L387.6 488.7 L390.5 487.9 L393.4 487.1 L396.2 486.3 L399.1 485.5 L402.0 484.7 M402.0 484.7 L396.7 483.8 M402.0 484.7 L398.0 488.3 M402.1 491.2 L405.0 490.4 L407.9 489.6 L410.7 488.7 L413.6 487.9 L416.5 487.1 L419.3 486.2 L422.2 485.4 L425.0 484.5 M425.0 484.5 L419.7 483.7 M425.0 484.5 L421.1 488.2 M425.3 491.3 L428.2 490.5 L431.0 489.6 L433.9 488.8 L436.7 487.9 L439.5 487.0 L442.4 486.1 L445.2 485.2 L448.1 484.3 M448.1 484.3 L442.7 483.6 M448.1 484.3 L444.2 488.1 M449.7 491.2 L452.2 490.4 L454.7 489.5 L457.3 488.7 L459.8 487.9 L462.3 487.1 L464.8 486.2 L467.4 485.4 L469.9 484.5 M469.9 484.5 L464.5 483.9 M469.9 484.5 L466.0 488.3 M474.3 490.9 L476.4 490.2 L478.6 489.4 L480.7 488.7 L482.9 487.9 L485.1 487.1 L487.2 486.4 L489.4 485.6 L491.5 484.8 M491.5 484.8 L486.1 484.3 M491.5 484.8 L487.7 488.7 M498.9 490.6 L500.7 490.0 L502.4 489.3 L504.2 488.6 L506.0 487.9 L507.8 487.2 L509.6 486.5 L511.3 485.8 L513.1 485.1 M513.1 485.1 L508.5 484.8 M513.1 485.1 L510.0 488.5 M523.9 490.7 L525.2 490.0 L526.5 489.3 L527.8 488.6 L529.1 487.9 L530.4 487.2 L531.6 486.4 L532.9 485.6 L534.1 484.8 M534.1 484.8 L530.6 485.3 M534.1 484.8 L532.3 487.9 M549.8 491.6 L550.4 490.7 L551.0 489.7 L551.6 488.8 L552.2 487.9 L552.8 487.0 L553.4 486.1 L554.0 485.1 L554.6 484.2 M554.6 484.2 L552.3 485.6 M554.6 484.2 L554.3 486.8 M573.4 491.8 L573.9 490.8 L574.4 489.9 L574.8 488.9 L575.3 487.9 L575.8 486.9 L576.2 485.9 L576.7 485.0 L577.1 484.0 M577.1 484.0 L575.1 485.6 M577.1 484.0 L577.2 486.6 M597.1 492.0 L597.4 491.0 L597.7 490.0 L598.1 488.9 L598.4 487.9 L598.7 486.9 L599.0 485.8 L599.4 484.8 L599.7 483.8 M599.7 483.8 L597.9 485.7 M599.7 483.8 L600.1 486.3 M620.2 492.1 L620.5 491.1 L620.9 490.0 L621.2 489.0 L621.5 487.9 L621.8 486.8 L622.1 485.8 L622.5 484.7 L622.8 483.7 M622.8 483.7 L621.0 485.6 M622.8 483.7 L623.2 486.3 M643.3 492.2 L643.6 491.1 L643.9 490.1 L644.3 489.0 L644.6 487.9 L644.9 486.8 L645.3 485.7 L645.6 484.6 L645.9 483.6 M645.9 483.6 L644.1 485.6 M645.9 483.6 L646.4 486.2 M666.3 492.3 L666.7 491.2 L667.0 490.1 L667.4 489.0 L667.7 487.9 L668.0 486.8 L668.4 485.7 L668.7 484.6 L669.0 483.5 M669.0 483.5 L667.2 485.5 M669.0 483.5 L669.5 486.2 M689.4 492.3 L689.8 491.2 L690.1 490.1 L690.5 489.0 L690.8 487.9 L691.1 486.8 L691.5 485.7 L691.8 484.6 L692.1 483.5 M692.1 483.5 L690.3 485.5 M692.1 483.5 L692.6 486.2 M159.1 506.7 L161.8 506.9 L164.5 507.1 L167.3 507.3 L170.0 507.5 L172.7 507.7 L175.5 507.9 L178.2 508.1 L180.9 508.3 M180.9 508.3 L176.3 505.6 M180.9 508.3 L175.9 510.3 M182.1 506.9 L184.9 507.1 L187.6 507.2 L190.4 507.4 L193.1 507.5 L195.8 507.6 L198.6 507.8 L201.3 507.9 L204.1 508.0 M204.1 508.0 L199.3 505.5 M204.1 508.0 L199.1 510.2 M205.2 507.1 L208.0 507.2 L210.7 507.3 L213.5 507.4 L216.2 507.5 L218.9 507.6 L221.7 507.7 L224.4 507.8 L227.2 507.8 M227.2 507.8 L222.4 505.3 M227.2 507.8 L222.3 510.1 M228.3 507.3 L231.0 507.4 L233.8 507.4 L236.5 507.5 L239.3 507.5 L242.1 507.5 L244.8 507.6 L247.6 507.6 L250.3 507.6 M250.3 507.6 L245.5 505.2 M250.3 507.6 L245.5 509.9 M251.2 507.6 L254.0 507.6 L256.8 507.6 L259.6 507.5 L262.4 507.5 L265.2 507.5 L268.0 507.4 L270.8 507.4 L273.6 507.3 M273.6 507.3 L268.7 505.0 M273.6 507.3 L268.8 509.8 M274.2 507.9 L277.0 507.8 L279.8 507.7 L282.7 507.6 L285.5 507.5 L288.3 507.4 L291.2 507.3 L294.0 507.2 L296.8 507.0 M296.8 507.0 L291.8 504.9 M296.8 507.0 L292.1 509.6 M297.2 508.2 L300.0 508.0 L302.9 507.9 L305.7 507.7 L308.6 507.5 L311.5 507.3 L314.3 507.1 L317.2 506.9 L320.0 506.6 M320.0 506.6 L315.0 504.7 M320.0 506.6 L315.4 509.4 M320.2 508.6 L323.0 508.4 L325.9 508.1 L328.8 507.8 L331.7 507.5 L334.6 507.2 L337.5 506.9 L340.3 506.5 L343.2 506.2 M343.2 506.2 L338.1 504.4 M343.2 506.2 L338.7 509.1 M343.2 509.1 L346.1 508.7 L349.0 508.3 L351.9 507.9 L354.8 507.5 L357.7 507.1 L360.6 506.6 L363.5 506.1 L366.4 505.6 M366.4 505.6 L361.2 504.1 M366.4 505.6 L362.0 508.8 M366.4 509.7 L369.3 509.2 L372.2 508.7 L375.0 508.1 L377.9 507.5 L380.8 506.9 L383.6 506.3 L386.5 505.7 L389.3 505.0 M389.3 505.0 L384.1 503.8 M389.3 505.0 L385.1 508.4 M389.6 510.2 L392.5 509.6 L395.3 508.9 L398.2 508.2 L401.0 507.5 L403.8 506.8 L406.7 506.1 L409.5 505.4 L412.4 504.7 M412.4 504.7 L407.1 503.6 M412.4 504.7 L408.2 508.2 M412.8 510.4 L415.6 509.7 L418.4 509.0 L421.3 508.2 L424.1 507.5 L426.9 506.8 L429.8 506.0 L432.6 505.2 L435.4 504.5 M435.4 504.5 L430.1 503.5 M435.4 504.5 L431.4 508.0 M436.4 510.5 L439.1 509.8 L441.8 509.0 L444.5 508.3 L447.2 507.5 L449.9 506.7 L452.6 506.0 L455.3 505.2 L458.0 504.4 M458.0 504.4 L452.6 503.5 M458.0 504.4 L454.0 508.0 M461.2 510.3 L463.5 509.6 L465.7 508.9 L468.0 508.2 L470.3 507.5 L472.6 506.8 L474.9 506.0 L477.1 505.3 L479.4 504.5 M479.4 504.5 L474.0 503.8 M479.4 504.5 L475.5 508.3 M485.9 510.2 L487.8 509.5 L489.7 508.9 L491.5 508.2 L493.4 507.5 L495.3 506.8 L497.1 506.1 L499.0 505.4 L500.8 504.7 M500.8 504.7 L496.1 504.3 M500.8 504.7 L497.6 508.2 M510.7 510.1 L512.2 509.4 L513.6 508.8 L515.1 508.2 L516.5 507.5 L517.9 506.8 L519.4 506.2 L520.8 505.5 L522.3 504.8 M522.3 504.8 L518.5 504.8 M522.3 504.8 L519.9 507.8 M536.1 510.7 L537.0 509.9 L537.9 509.1 L538.8 508.3 L539.6 507.5 L540.4 506.7 L541.3 505.9 L542.1 505.0 L542.9 504.2 M542.9 504.2 L540.3 505.2 M542.9 504.2 L542.1 506.9 M560.6 511.1 L561.1 510.2 L561.7 509.3 L562.2 508.4 L562.7 507.5 L563.2 506.6 L563.7 505.7 L564.2 504.8 L564.8 503.9 M564.8 503.9 L562.6 505.4 M564.8 503.9 L564.6 506.5 M584.1 511.1 L584.5 510.2 L584.9 509.3 L585.4 508.4 L585.8 507.5 L586.2 506.6 L586.7 505.7 L587.1 504.8 L587.5 503.8 M587.5 503.8 L585.5 505.5 M587.5 503.8 L587.6 506.4 M607.3 511.3 L607.7 510.3 L608.1 509.4 L608.5 508.4 L608.9 507.5 L609.3 506.6 L609.7 505.6 L610.0 504.7 L610.4 503.7 M610.4 503.7 L608.5 505.5 M610.4 503.7 L610.6 506.3 M630.3 511.6 L630.8 510.6 L631.2 509.6 L631.6 508.5 L632.0 507.5 L632.4 506.5 L632.8 505.4 L633.2 504.4 L633.6 503.4 M633.6 503.4 L631.7 505.2 M633.6 503.4 L633.8 506.0 M653.3 511.9 L653.8 510.8 L654.2 509.7 L654.7 508.6 L655.1 507.5 L655.5 506.4 L656.0 505.3 L656.4 504.2 L656.8 503.0 M656.8 503.0 L654.7 505.0 M656.8 503.0 L657.1 505.9 M676.4 512.1 L676.9 510.9 L677.3 509.8 L677.8 508.6 L678.2 507.5 L678.6 506.4 L679.1 505.2 L679.5 504.1 L679.9 502.9 M679.9 502.9 L677.8 504.9 M679.9 502.9 L680.2 505.8 M699.5 512.1 L700.0 510.9 L700.4 509.8 L700.9 508.6 L701.3 507.5 L701.7 506.4 L702.2 505.2 L702.6 504.1 L703.0 502.9 M703.0 502.9 L700.9 504.9 M703.0 502.9 L703.3 505.8 M148.6 525.9 L151.3 526.2 L154.1 526.5 L156.8 526.8 L159.5 527.1 L162.2 527.4 L164.9 527.7 L167.7 528.0 L170.4 528.3 M170.4 528.3 L165.8 525.4 M170.4 528.3 L165.3 530.1 M171.7 526.1 L174.4 526.4 L177.1 526.6 L179.9 526.9 L182.6 527.1 L185.3 527.3 L188.1 527.6 L190.8 527.8 L193.5 528.0 M193.5 528.0 L188.9 525.3 M193.5 528.0 L188.5 530.0 M194.8 526.4 L197.5 526.6 L200.2 526.8 L203.0 526.9 L205.7 527.1 L208.4 527.3 L211.2 527.4 L213.9 527.6 L216.7 527.7 M216.7 527.7 L211.9 525.1 M216.7 527.7 L211.7 529.8 M217.8 526.6 L220.6 526.8 L223.3 526.9 L226.1 527.0 L228.8 527.1 L231.5 527.2 L234.3 527.3 L237.0 527.4 L239.8 527.5 M239.8 527.5 L235.0 525.0 M239.8 527.5 L234.9 529.7 M240.8 526.9 L243.6 527.0 L246.4 527.0 L249.1 527.1 L251.9 527.1 L254.7 527.1 L257.4 527.2 L260.2 527.2 L263.0 527.2 M263.0 527.2 L258.1 524.8 M263.0 527.2 L258.1 529.5 M263.8 527.2 L266.6 527.2 L269.4 527.1 L272.2 527.1 L275.0 527.1 L277.8 527.1 L280.6 527.0 L283.4 527.0 L286.2 527.0 M286.2 527.0 L281.3 524.7 M286.2 527.0 L281.4 529.4 M286.8 527.4 L289.6 527.3 L292.5 527.3 L295.3 527.2 L298.1 527.1 L300.9 527.0 L303.7 526.9 L306.6 526.8 L309.4 526.7 M309.4 526.7 L304.4 524.5 M309.4 526.7 L304.6 529.2 M309.8 527.8 L312.7 527.6 L315.5 527.5 L318.4 527.3 L321.2 527.1 L324.0 526.9 L326.9 526.7 L329.7 526.5 L332.6 526.3 M332.6 526.3 L327.5 524.3 M332.6 526.3 L327.9 529.0 M332.8 528.2 L335.7 527.9 L338.6 527.7 L341.4 527.4 L344.3 527.1 L347.2 526.8 L350.0 526.5 L352.9 526.2 L355.8 525.9 M355.8 525.9 L350.7 524.1 M355.8 525.9 L351.2 528.8 M356.0 528.7 L358.8 528.3 L361.7 527.9 L364.5 527.5 L367.4 527.1 L370.3 526.7 L373.1 526.2 L375.9 525.8 L378.8 525.3 M378.8 525.3 L373.6 523.8 M378.8 525.3 L374.4 528.4 M379.2 529.3 L382.0 528.7 L384.8 528.2 L387.7 527.7 L390.5 527.1 L393.3 526.5 L396.2 526.0 L399.0 525.4 L401.8 524.8 M401.8 524.8 L396.6 523.5 M401.8 524.8 L397.5 528.1 M402.3 529.5 L405.1 528.9 L408.0 528.3 L410.8 527.7 L413.6 527.1 L416.4 526.5 L419.2 525.9 L422.0 525.2 L424.9 524.6 M424.9 524.6 L419.6 523.4 M424.9 524.6 L420.6 528.0 M425.5 529.7 L428.3 529.0 L431.1 528.4 L433.9 527.8 L436.7 527.1 L439.5 526.4 L442.3 525.8 L445.1 525.1 L447.9 524.4 M447.9 524.4 L442.6 523.3 M447.9 524.4 L443.8 527.9 M450.1 529.7 L452.6 529.0 L455.0 528.4 L457.4 527.8 L459.8 527.1 L462.2 526.4 L464.6 525.8 L467.0 525.1 L469.4 524.4 M469.4 524.4 L464.1 523.5 M469.4 524.4 L465.4 528.0 M475.1 529.6 L477.0 529.0 L479.0 528.4 L480.9 527.8 L482.9 527.1 L484.9 526.4 L486.8 525.8 L488.7 525.1 L490.7 524.4 M490.7 524.4 L485.8 523.9 M490.7 524.4 L487.2 527.9 M500.0 529.6 L501.5 529.0 L503.0 528.4 L504.5 527.7 L506.0 527.1 L507.5 526.5 L509.0 525.8 L510.5 525.1 L511.9 524.5 M511.9 524.5 L508.0 524.4 M511.9 524.5 L509.5 527.5 M525.1 529.9 L526.1 529.2 L527.1 528.5 L528.1 527.8 L529.1 527.1 L530.1 526.4 L531.1 525.7 L532.1 524.9 L533.0 524.2 M533.0 524.2 L530.1 524.8 M533.0 524.2 L531.7 526.8 M550.2 530.6 L550.7 529.7 L551.2 528.9 L551.7 528.0 L552.2 527.1 L552.7 526.2 L553.2 525.3 L553.7 524.5 L554.2 523.6 M554.2 523.6 L552.1 525.1 M554.2 523.6 L554.0 526.2 M573.4 530.4 L573.9 529.6 L574.4 528.8 L574.8 527.9 L575.3 527.1 L575.8 526.3 L576.2 525.4 L576.7 524.6 L577.2 523.7 M577.2 523.7 L575.0 525.2 M577.2 523.7 L577.0 526.3 M596.6 530.3 L597.1 529.5 L597.5 528.7 L598.0 527.9 L598.4 527.1 L598.8 526.3 L599.3 525.5 L599.7 524.7 L600.1 523.9 M600.1 523.9 L598.0 525.4 M600.1 523.9 L600.0 526.5 M619.6 530.8 L620.1 529.9 L620.5 528.9 L621.0 528.0 L621.5 527.1 L622.0 526.2 L622.4 525.2 L622.9 524.3 L623.4 523.4 M623.4 523.4 L621.3 525.0 M623.4 523.4 L623.4 526.0 M642.5 531.3 L643.0 530.3 L643.6 529.2 L644.1 528.2 L644.6 527.1 L645.1 526.0 L645.6 525.0 L646.1 523.9 L646.6 522.8 M646.6 522.8 L644.4 524.6 M646.6 522.8 L646.7 525.7 M665.5 531.8 L666.0 530.7 L666.6 529.5 L667.1 528.3 L667.7 527.1 L668.3 525.9 L668.8 524.7 L669.3 523.5 L669.9 522.3 M669.9 522.3 L667.5 524.3 M669.9 522.3 L670.0 525.5 M688.6 531.8 L689.1 530.7 L689.7 529.5 L690.2 528.3 L690.8 527.1 L691.4 525.9 L691.9 524.7 L692.4 523.5 L693.0 522.3 M693.0 522.3 L690.6 524.3 M693.0 522.3 L693.1 525.5 M159.1 545.2 L161.9 545.6 L164.6 546.0 L167.3 546.3 L170.0 546.7 L172.7 547.1 L175.4 547.4 L178.2 547.7 L180.9 548.1 M180.9 548.1 L176.3 545.1 M180.9 548.1 L175.8 549.8 M182.2 545.6 L184.9 545.9 L187.6 546.1 L190.4 546.4 L193.1 546.7 L195.8 547.0 L198.6 547.2 L201.3 547.5 L204.0 547.7 M204.0 547.7 L199.4 544.9 M204.0 547.7 L199.0 549.7 M205.3 545.9 L208.0 546.1 L210.7 546.3 L213.5 546.5 L216.2 546.7 L218.9 546.9 L221.7 547.1 L224.4 547.2 L227.2 547.4 M227.2 547.4 L222.4 544.8 M227.2 547.4 L222.2 549.5 M228.3 546.2 L231.0 546.3 L233.8 546.5 L236.5 546.6 L239.3 546.7 L242.1 546.8 L244.8 546.9 L247.6 547.0 L250.3 547.1 M250.3 547.1 L245.5 544.6 M250.3 547.1 L245.4 549.3 M251.3 546.4 L254.1 546.5 L256.9 546.6 L259.6 546.6 L262.4 546.7 L265.2 546.8 L267.9 546.8 L270.7 546.8 L273.5 546.9 M273.5 546.9 L268.7 544.5 M273.5 546.9 L268.6 549.2 M274.3 546.7 L277.1 546.7 L279.9 546.7 L282.7 546.7 L285.5 546.7 L288.3 546.7 L291.1 546.7 L293.9 546.7 L296.7 546.6 M296.7 546.6 L291.8 544.3 M296.7 546.6 L291.8 549.1 M297.4 546.9 L300.2 546.9 L303.0 546.8 L305.8 546.8 L308.6 546.7 L311.4 546.6 L314.2 546.5 L317.0 546.4 L319.8 546.3 M319.8 546.3 L314.9 544.2 M319.8 546.3 L315.1 548.9 M320.4 547.3 L323.2 547.1 L326.1 547.0 L328.9 546.9 L331.7 546.7 L334.5 546.5 L337.3 546.4 L340.2 546.2 L343.0 546.0 M343.0 546.0 L338.0 544.0 M343.0 546.0 L338.3 548.7 M343.5 547.6 L346.3 547.4 L349.1 547.2 L352.0 546.9 L354.8 546.7 L357.6 546.5 L360.5 546.2 L363.3 545.9 L366.1 545.6 M366.1 545.6 L361.0 543.8 M366.1 545.6 L361.5 548.5 M366.6 548.1 L369.5 547.8 L372.3 547.5 L375.1 547.1 L377.9 546.7 L380.7 546.3 L383.5 545.9 L386.3 545.5 L389.1 545.0 M389.1 545.0 L384.0 543.5 M389.1 545.0 L384.7 548.1 M389.8 548.6 L392.6 548.1 L395.4 547.7 L398.2 547.2 L401.0 546.7 L403.8 546.2 L406.6 545.7 L409.4 545.2 L412.2 544.7 M412.2 544.7 L407.0 543.3 M412.2 544.7 L407.8 547.9 M412.9 548.8 L415.7 548.3 L418.5 547.7 L421.3 547.2 L424.1 546.7 L426.9 546.2 L429.7 545.6 L432.5 545.1 L435.3 544.6 M435.3 544.6 L430.0 543.2 M435.3 544.6 L430.9 547.8 M436.7 548.9 L439.3 548.3 L441.9 547.8 L444.6 547.3 L447.2 546.7 L449.8 546.1 L452.5 545.6 L455.1 545.0 L457.7 544.3 M457.7 544.3 L452.4 543.2 M457.7 544.3 L453.5 547.8 M461.8 549.0 L463.9 548.4 L466.0 547.9 L468.2 547.3 L470.3 546.7 L472.4 546.1 L474.5 545.5 L476.7 544.9 L478.8 544.3 M478.8 544.3 L473.6 543.4 M478.8 544.3 L474.9 547.8 M486.9 549.1 L488.5 548.5 L490.2 547.9 L491.8 547.3 L493.4 546.7 L495.0 546.1 L496.6 545.5 L498.2 544.8 L499.9 544.2 M499.9 544.2 L495.7 543.9 M499.9 544.2 L497.1 547.3 M512.0 549.2 L513.1 548.6 L514.3 548.0 L515.4 547.3 L516.5 546.7 L517.6 546.1 L518.7 545.4 L519.8 544.8 L520.9 544.1 M520.9 544.1 L517.9 544.4 M520.9 544.1 L519.3 546.7 M536.9 549.8 L537.6 549.0 L538.3 548.3 L538.9 547.5 L539.6 546.7 L540.3 545.9 L540.9 545.1 L541.5 544.3 L542.2 543.5 M542.2 543.5 L539.8 544.7 M542.2 543.5 L541.6 546.1 M560.9 550.0 L561.3 549.1 L561.8 548.3 L562.2 547.5 L562.7 546.7 L563.2 545.9 L563.6 545.1 L564.1 544.3 L564.5 543.4 M564.5 543.4 L562.4 544.9 M564.5 543.4 L564.4 546.0 M583.9 549.6 L584.3 548.9 L584.8 548.2 L585.3 547.4 L585.8 546.7 L586.3 546.0 L586.8 545.2 L587.2 544.5 L587.7 543.8 M587.7 543.8 L585.5 545.1 M587.7 543.8 L587.4 546.4 M606.8 549.7 L607.3 548.9 L607.9 548.2 L608.4 547.4 L608.9 546.7 L609.4 546.0 L609.9 545.2 L610.5 544.4 L611.0 543.7 M611.0 543.7 L608.7 545.0 M611.0 543.7 L610.6 546.3 M629.7 550.5 L630.2 549.5 L630.8 548.6 L631.4 547.6 L632.0 546.7 L632.6 545.8 L633.2 544.8 L633.7 543.9 L634.3 542.9 M634.3 542.9 L632.1 544.4 M634.3 542.9 L634.1 545.6 M652.5 551.3 L653.2 550.1 L653.8 549.0 L654.5 547.8 L655.1 546.7 L655.7 545.6 L656.4 544.4 L657.0 543.3 L657.6 542.1 M657.6 542.1 L655.1 543.9 M657.6 542.1 L657.5 545.2 M675.5 551.6 L676.2 550.4 L676.9 549.2 L677.5 547.9 L678.2 546.7 L678.9 545.5 L679.5 544.2 L680.2 543.0 L680.8 541.8 M680.8 541.8 L678.1 543.8 M680.8 541.8 L680.7 545.1 M698.6 551.6 L699.3 550.4 L700.0 549.2 L700.6 547.9 L701.3 546.7 L702.0 545.5 L702.6 544.2 L703.3 543.0 L703.9 541.8 M703.9 541.8 L701.2 543.8 M703.9 541.8 L703.8 545.1 M148.7 564.5 L151.4 564.9 L154.1 565.4 L156.8 565.8 L159.5 566.3 L162.2 566.8 L164.9 567.2 L167.6 567.7 L170.3 568.1 M170.3 568.1 L165.9 565.0 M170.3 568.1 L165.1 569.7 M171.7 564.7 L174.5 565.1 L177.2 565.5 L179.9 565.9 L182.6 566.3 L185.3 566.7 L188.0 567.0 L190.7 567.4 L193.5 567.8 M193.5 567.8 L189.0 564.8 M193.5 567.8 L188.4 569.5 M194.8 565.1 L197.5 565.4 L200.2 565.7 L203.0 566.0 L205.7 566.3 L208.4 566.6 L211.2 566.9 L213.9 567.1 L216.6 567.4 M216.6 567.4 L212.0 564.6 M216.6 567.4 L211.6 569.3 M217.8 565.5 L220.6 565.7 L223.3 565.9 L226.1 566.1 L228.8 566.3 L231.5 566.5 L234.3 566.7 L237.0 566.8 L239.8 567.0 M239.8 567.0 L235.1 564.3 M239.8 567.0 L234.8 569.1 M240.9 565.8 L243.6 565.9 L246.4 566.0 L249.1 566.2 L251.9 566.3 L254.7 566.4 L257.4 566.5 L260.2 566.7 L262.9 566.8 M262.9 566.8 L258.2 564.2 M262.9 566.8 L258.0 568.9 M263.9 566.0 L266.7 566.1 L269.5 566.2 L272.2 566.2 L275.0 566.3 L277.8 566.4 L280.5 566.4 L283.3 566.5 L286.1 566.5 M286.1 566.5 L281.3 564.1 M286.1 566.5 L281.2 568.8 M287.0 566.2 L289.8 566.2 L292.5 566.3 L295.3 566.3 L298.1 566.3 L300.9 566.3 L303.7 566.3 L306.4 566.3 L309.2 566.3 M309.2 566.3 L304.4 564.0 M309.2 566.3 L304.4 568.7 M310.0 566.5 L312.8 566.4 L315.6 566.4 L318.4 566.4 L321.2 566.3 L324.0 566.2 L326.8 566.2 L329.6 566.1 L332.4 566.1 M332.4 566.1 L327.4 563.8 M332.4 566.1 L327.6 568.5 M333.1 566.7 L335.9 566.6 L338.7 566.5 L341.5 566.4 L344.3 566.3 L347.1 566.2 L349.9 566.1 L352.7 565.9 L355.5 565.8 M355.5 565.8 L350.5 563.7 M355.5 565.8 L350.8 568.4 M356.2 567.1 L359.0 566.9 L361.8 566.7 L364.6 566.5 L367.4 566.3 L370.2 566.1 L373.0 565.8 L375.8 565.6 L378.6 565.3 M378.6 565.3 L373.5 563.4 M378.6 565.3 L374.0 568.1 M379.4 567.6 L382.2 567.3 L384.9 567.0 L387.7 566.7 L390.5 566.3 L393.3 565.9 L396.1 565.6 L398.8 565.2 L401.6 564.9 M401.6 564.9 L396.5 563.2 M401.6 564.9 L397.1 567.8 M402.5 567.8 L405.3 567.5 L408.1 567.1 L410.8 566.7 L413.6 566.3 L416.4 565.9 L419.1 565.5 L421.9 565.1 L424.7 564.7 M424.7 564.7 L419.5 563.1 M424.7 564.7 L420.2 567.7 M425.6 568.0 L428.4 567.6 L431.2 567.2 L433.9 566.7 L436.7 566.3 L439.5 565.9 L442.2 565.4 L445.0 564.9 L447.7 564.5 M447.7 564.5 L442.6 563.0 M447.7 564.5 L443.4 567.6 M450.6 568.2 L452.9 567.7 L455.2 567.3 L457.5 566.8 L459.8 566.3 L462.1 565.8 L464.4 565.3 L466.7 564.8 L469.0 564.2 M469.0 564.2 L463.7 563.1 M469.0 564.2 L464.8 567.7 M475.9 568.4 L477.6 567.9 L479.4 567.4 L481.2 566.8 L482.9 566.3 L484.6 565.8 L486.4 565.2 L488.1 564.6 L489.9 564.0 M489.9 564.0 L485.5 563.5 M489.9 564.0 L486.7 567.1 M501.2 568.6 L502.4 568.1 L503.6 567.5 L504.8 566.9 L506.0 566.3 L507.2 565.7 L508.4 565.1 L509.6 564.5 L510.8 563.8 M510.8 563.8 L507.5 564.0 M510.8 563.8 L508.9 566.5 M526.2 569.0 L526.9 568.4 L527.6 567.7 L528.4 567.0 L529.1 566.3 L529.8 565.6 L530.5 564.9 L531.2 564.2 L532.0 563.5 M532.0 563.5 L529.5 564.3 M532.0 563.5 L531.1 565.9 M550.6 569.6 L551.0 568.8 L551.4 568.0 L551.8 567.1 L552.2 566.3 L552.6 565.5 L553.0 564.6 L553.4 563.8 L553.8 563.0 M553.8 563.0 L551.7 564.6 M553.8 563.0 L553.8 565.6 M573.4 569.1 L573.9 568.4 L574.4 567.7 L574.8 567.0 L575.3 566.3 L575.8 565.6 L576.2 564.9 L576.7 564.2 L577.2 563.5 M577.2 563.5 L574.9 564.8 M577.2 563.5 L576.8 566.1 M596.2 568.5 L596.7 568.0 L597.3 567.4 L597.8 566.9 L598.4 566.3 L599.0 565.7 L599.5 565.2 L600.1 564.6 L600.6 564.1 M600.6 564.1 L598.2 564.9 M600.6 564.1 L599.8 566.5 M618.9 569.4 L619.6 568.7 L620.2 567.9 L620.9 567.1 L621.5 566.3 L622.1 565.5 L622.8 564.7 L623.4 563.9 L624.0 563.1 M624.0 563.1 L621.7 564.3 M624.0 563.1 L623.5 565.7 M641.7 570.5 L642.5 569.4 L643.2 568.4 L643.9 567.3 L644.6 566.3 L645.3 565.3 L646.0 564.2 L646.7 563.2 L647.4 562.1 M647.4 562.1 L644.8 563.7 M647.4 562.1 L647.0 565.1 M664.6 571.4 L665.4 570.1 L666.2 568.8 L666.9 567.6 L667.7 566.3 L668.5 565.0 L669.2 563.8 L670.0 562.5 L670.8 561.2 M670.8 561.2 L667.8 563.2 M670.8 561.2 L670.5 564.8 M687.7 571.4 L688.5 570.1 L689.3 568.8 L690.0 567.6 L690.8 566.3 L691.6 565.0 L692.3 563.8 L693.1 562.5 L693.9 561.2 M693.9 561.2 L690.9 563.2 M693.9 561.2 L693.6 564.8 M159.2 583.8 L161.9 584.3 L164.6 584.9 L167.3 585.4 L170.0 585.9 L172.7 586.4 L175.4 586.9 L178.1 587.4 L180.8 587.9 M180.8 587.9 L176.4 584.7 M180.8 587.9 L175.6 589.4 M182.3 584.2 L185.0 584.7 L187.7 585.1 L190.4 585.5 L193.1 585.9 L195.8 586.3 L198.5 586.7 L201.2 587.1 L204.0 587.4 M204.0 587.4 L199.5 584.4 M204.0 587.4 L198.8 589.1 M205.3 584.7 L208.0 585.0 L210.7 585.3 L213.5 585.6 L216.2 585.9 L218.9 586.2 L221.7 586.5 L224.4 586.7 L227.1 587.0 M227.1 587.0 L222.5 584.2 M227.1 587.0 L222.1 588.9 M228.3 585.1 L231.1 585.3 L233.8 585.5 L236.6 585.7 L239.3 585.9 L242.0 586.1 L244.8 586.3 L247.5 586.5 L250.3 586.7 M250.3 586.7 L245.6 584.0 M250.3 586.7 L245.3 588.7 M251.4 585.3 L254.2 585.4 L256.9 585.6 L259.7 585.8 L262.4 585.9 L265.1 586.0 L267.9 586.2 L270.6 586.3 L273.4 586.5 M273.4 586.5 L268.7 583.9 M273.4 586.5 L268.4 588.6 M274.5 585.5 L277.2 585.6 L280.0 585.7 L282.7 585.8 L285.5 585.9 L288.3 586.0 L291.0 586.1 L293.8 586.2 L296.5 586.2 M296.5 586.2 L291.7 583.7 M296.5 586.2 L291.6 588.5 M297.6 585.7 L300.3 585.8 L303.1 585.8 L305.8 585.9 L308.6 585.9 L311.4 585.9 L314.1 586.0 L316.9 586.0 L319.6 586.0 M319.6 586.0 L314.8 583.6 M319.6 586.0 L314.8 588.4 M320.6 585.9 L323.4 585.9 L326.2 585.9 L328.9 585.9 L331.7 585.9 L334.5 585.9 L337.2 585.9 L340.0 585.9 L342.8 585.9 M342.8 585.9 L337.9 583.5 M342.8 585.9 L337.9 588.3 M343.7 586.1 L346.5 586.1 L349.3 586.0 L352.0 586.0 L354.8 585.9 L357.6 585.8 L360.3 585.8 L363.1 585.7 L365.9 585.6 M365.9 585.6 L360.9 583.4 M365.9 585.6 L361.1 588.1 M366.9 586.5 L369.6 586.4 L372.4 586.2 L375.1 586.1 L377.9 585.9 L380.7 585.7 L383.4 585.5 L386.2 585.3 L388.9 585.1 M388.9 585.1 L383.9 583.1 M388.9 585.1 L384.3 587.8 M390.0 586.9 L392.7 586.7 L395.5 586.4 L398.2 586.2 L401.0 585.9 L403.8 585.6 L406.5 585.4 L409.3 585.1 L412.0 584.8 M412.0 584.8 L406.9 582.9 M412.0 584.8 L407.4 587.7 M413.1 587.1 L415.9 586.8 L418.6 586.5 L421.4 586.2 L424.1 585.9 L426.8 585.6 L429.6 585.3 L432.3 585.0 L435.1 584.6 M435.1 584.6 L430.0 582.9 M435.1 584.6 L430.5 587.6 M436.9 587.2 L439.5 586.9 L442.1 586.6 L444.6 586.3 L447.2 585.9 L449.8 585.5 L452.3 585.2 L454.9 584.7 L457.4 584.3 M457.4 584.3 L452.2 582.8 M457.4 584.3 L453.0 587.5 M462.4 587.6 L464.4 587.2 L466.4 586.8 L468.3 586.3 L470.3 585.9 L472.3 585.5 L474.2 585.0 L476.2 584.5 L478.1 584.0 M478.1 584.0 L473.4 583.0 M478.1 584.0 L474.5 587.1 M487.9 587.9 L489.2 587.4 L490.6 586.9 L492.0 586.4 L493.4 585.9 L494.8 585.4 L496.2 584.8 L497.5 584.3 L498.9 583.7 M498.9 583.7 L495.3 583.5 M498.9 583.7 L496.6 586.4 M513.3 588.3 L514.1 587.7 L514.9 587.1 L515.7 586.5 L516.5 585.9 L517.3 585.3 L518.1 584.7 L518.8 584.0 L519.6 583.4 M519.6 583.4 L517.1 584.0 M519.6 583.4 L518.5 585.8 M537.8 588.9 L538.2 588.2 L538.7 587.4 L539.1 586.7 L539.6 585.9 L540.1 585.1 L540.5 584.4 L541.0 583.6 L541.4 582.9 M541.4 582.9 L539.2 584.3 M541.4 582.9 L541.2 585.5 M561.1 588.8 L561.5 588.1 L561.9 587.4 L562.3 586.6 L562.7 585.9 L563.1 585.2 L563.5 584.4 L563.9 583.7 L564.3 583.0 M564.3 583.0 L562.2 584.5 M564.3 583.0 L564.2 585.6 M583.7 588.1 L584.2 587.5 L584.7 587.0 L585.3 586.4 L585.8 585.9 L586.3 585.4 L586.9 584.8 L587.4 584.3 L588.0 583.7 M588.0 583.7 L585.5 584.6 M588.0 583.7 L587.1 586.2 M606.2 588.1 L606.9 587.5 L607.6 587.0 L608.2 586.5 L608.9 585.9 L609.6 585.3 L610.2 584.8 L610.9 584.2 L611.5 583.7 M611.5 583.7 L609.0 584.4 M611.5 583.7 L610.5 586.1 M629.0 589.3 L629.7 588.5 L630.5 587.6 L631.3 586.8 L632.0 585.9 L632.7 585.0 L633.5 584.2 L634.2 583.3 L635.0 582.4 M635.0 582.4 L632.5 583.5 M635.0 582.4 L634.3 585.1 M651.7 590.6 L652.6 589.4 L653.4 588.3 L654.3 587.1 L655.1 585.9 L655.9 584.7 L656.8 583.5 L657.6 582.4 L658.4 581.2 M658.4 581.2 L655.4 582.9 M658.4 581.2 L657.9 584.6 M674.7 591.1 L675.5 589.8 L676.4 588.5 L677.3 587.2 L678.2 585.9 L679.1 584.6 L680.0 583.3 L680.8 582.0 L681.7 580.6 M681.7 580.6 L678.4 582.6 M681.7 580.6 L681.2 584.4 M697.8 591.1 L698.6 589.8 L699.5 588.5 L700.4 587.2 L701.3 585.9 L702.2 584.6 L703.1 583.3 L703.9 582.0 L704.8 580.6 M704.8 580.6 L701.5 582.6 M704.8 580.6 L704.3 584.4 M148.7 603.2 L151.4 603.8 L154.1 604.4 L156.8 604.9 L159.5 605.5 L162.2 606.1 L164.9 606.6 L167.6 607.2 L170.3 607.8 M170.3 607.8 L166.0 604.5 M170.3 607.8 L165.0 609.1 M171.8 603.5 L174.5 604.0 L177.2 604.5 L179.9 605.0 L182.6 605.5 L185.3 606.0 L188.0 606.4 L190.7 606.9 L193.4 607.3 M193.4 607.3 L189.0 604.2 M193.4 607.3 L188.3 608.9 M194.8 604.0 L197.5 604.4 L200.3 604.8 L203.0 605.1 L205.7 605.5 L208.4 605.9 L211.1 606.2 L213.9 606.5 L216.6 606.9 M216.6 606.9 L212.1 604.0 M216.6 606.9 L211.5 608.7 M217.9 604.4 L220.6 604.7 L223.3 605.0 L226.1 605.3 L228.8 605.5 L231.5 605.7 L234.3 606.0 L237.0 606.2 L239.8 606.4 M239.8 606.4 L235.1 603.7 M239.8 606.4 L234.7 608.4 M240.9 604.7 L243.7 604.9 L246.4 605.1 L249.2 605.3 L251.9 605.5 L254.6 605.7 L257.4 605.9 L260.1 606.1 L262.9 606.2 M262.9 606.2 L258.2 603.6 M262.9 606.2 L257.9 608.3 M264.0 604.9 L266.8 605.1 L269.5 605.2 L272.3 605.4 L275.0 605.5 L277.7 605.6 L280.5 605.8 L283.2 605.9 L286.0 606.0 M286.0 606.0 L281.2 603.4 M286.0 606.0 L281.0 608.2 M287.1 605.1 L289.9 605.2 L292.6 605.3 L295.4 605.4 L298.1 605.5 L300.8 605.6 L303.6 605.7 L306.3 605.8 L309.1 605.8 M309.1 605.8 L304.3 603.3 M309.1 605.8 L304.2 608.1 M310.2 605.3 L313.0 605.3 L315.7 605.4 L318.5 605.4 L321.2 605.5 L323.9 605.6 L326.7 605.6 L329.4 605.6 L332.2 605.7 M332.2 605.7 L327.4 603.2 M332.2 605.7 L327.3 608.0 M333.3 605.4 L336.1 605.5 L338.8 605.5 L341.6 605.5 L344.3 605.5 L347.0 605.5 L349.8 605.5 L352.5 605.5 L355.3 605.5 M355.3 605.5 L350.4 603.2 M355.3 605.5 L350.5 607.9 M356.4 605.8 L359.2 605.7 L361.9 605.7 L364.7 605.6 L367.4 605.5 L370.1 605.4 L372.9 605.3 L375.6 605.2 L378.4 605.1 M378.4 605.1 L373.4 602.9 M378.4 605.1 L373.6 607.7 M379.5 606.2 L382.3 606.0 L385.0 605.9 L387.8 605.7 L390.5 605.5 L393.2 605.3 L396.0 605.1 L398.7 604.9 L401.5 604.7 M401.5 604.7 L396.5 602.7 M401.5 604.7 L396.8 607.4 M402.6 606.4 L405.4 606.2 L408.1 606.0 L410.9 605.7 L413.6 605.5 L416.3 605.3 L419.1 605.0 L421.8 604.8 L424.6 604.5 M424.6 604.5 L419.5 602.6 M424.6 604.5 L419.9 607.3 M425.8 606.6 L428.5 606.3 L431.2 606.1 L434.0 605.8 L436.7 605.5 L439.4 605.2 L442.2 604.9 L444.9 604.6 L447.6 604.3 M447.6 604.3 L442.5 602.5 M447.6 604.3 L443.1 607.2 M450.9 606.9 L453.2 606.6 L455.4 606.2 L457.6 605.9 L459.8 605.5 L462.0 605.1 L464.2 604.7 L466.4 604.3 L468.6 603.9 M468.6 603.9 L463.4 602.5 M468.6 603.9 L464.3 607.1 M476.5 607.3 L478.1 606.8 L479.7 606.4 L481.3 606.0 L482.9 605.5 L484.5 605.0 L486.1 604.6 L487.7 604.1 L489.3 603.5 M489.3 603.5 L485.3 603.0 M489.3 603.5 L486.4 606.3 M502.0 607.7 L503.0 607.1 L504.0 606.6 L505.0 606.1 L506.0 605.5 L507.0 604.9 L508.0 604.4 L508.9 603.8 L509.9 603.2 M509.9 603.2 L507.2 603.5 M509.9 603.2 L508.5 605.5 M527.0 608.2 L527.5 607.5 L528.1 606.9 L528.6 606.2 L529.1 605.5 L529.6 604.8 L530.1 604.1 L530.6 603.4 L531.2 602.8 M531.2 602.8 L528.9 604.0 M531.2 602.8 L530.7 605.3 M551.0 608.7 L551.3 607.9 L551.6 607.1 L551.9 606.3 L552.2 605.5 L552.5 604.7 L552.8 603.9 L553.2 603.1 L553.5 602.3 M553.5 602.3 L551.5 604.0 M553.5 602.3 L553.7 604.9 M573.4 607.9 L573.9 607.3 L574.4 606.7 L574.8 606.1 L575.3 605.5 L575.8 604.9 L576.3 604.3 L576.7 603.7 L577.2 603.1 M577.2 603.1 L574.9 604.2 M577.2 603.1 L576.6 605.7 M595.9 607.1 L596.5 606.7 L597.1 606.3 L597.8 605.9 L598.4 605.5 L599.0 605.1 L599.7 604.7 L600.3 604.4 L601.0 604.0 M601.0 604.0 L598.4 604.2 M601.0 604.0 L599.5 606.1 M618.5 608.2 L619.3 607.6 L620.0 606.9 L620.8 606.2 L621.5 605.5 L622.2 604.8 L623.0 604.1 L623.7 603.4 L624.4 602.7 M624.4 602.7 L622.0 603.5 M624.4 602.7 L623.6 605.2 M641.2 609.6 L642.1 608.6 L642.9 607.6 L643.8 606.5 L644.6 605.5 L645.4 604.5 L646.3 603.4 L647.1 602.4 L648.0 601.4 M648.0 601.4 L645.1 602.7 M648.0 601.4 L647.3 604.5 M664.0 610.8 L664.9 609.5 L665.8 608.2 L666.8 606.8 L667.7 605.5 L668.6 604.2 L669.6 602.8 L670.5 601.5 L671.4 600.2 M671.4 600.2 L668.0 602.1 M671.4 600.2 L670.8 604.0 M687.1 610.8 L688.0 609.5 L688.9 608.2 L689.9 606.8 L690.8 605.5 L691.7 604.2 L692.7 602.8 L693.6 601.5 L694.5 600.2 M694.5 600.2 L691.1 602.1 M694.5 600.2 L693.9 604.0"/>
</g>
<path d="M422.6 290.2 L424.0 294.3 L428.4 294.4 L424.9 297.1 L426.2 301.2 L422.6 298.8 L419.0 301.2 L420.3 297.1 L416.8 294.4 L421.2 294.3Z" fill="none" stroke="#000" stroke-width="1.0" stroke-linejoin="miter"/>
<path d="M458.2 447.3 L459.6 451.4 L464.0 451.5 L460.5 454.2 L461.8 458.3 L458.2 455.8 L454.6 458.3 L455.9 454.2 L452.4 451.5 L456.8 451.4Z" fill="none" stroke="#000" stroke-width="1.0" stroke-linejoin="miter"/>
<g fill="none" stroke="#000" stroke-width="1">
<rect x="155.5" y="76.5" width="528.0" height="528.0"/>
<path d="M155.5 105.2 h13.5 M683.5 105.2 h-13.5 M155.5 235.8 h13.5 M683.5 235.8 h-13.5 M155.5 366.8 h13.5 M683.5 366.8 h-13.5 M155.5 498.0 h13.5 M683.5 498.0 h-13.5 M165.0 604.5 v-13.5 M278.0 604.5 v-13.5 M391.2 604.5 v-13.5 M504.0 604.5 v-13.5 M617.3 604.5 v-13.5 M188.7 76.5 v13.5 M290.2 76.5 v13.5 M393.2 76.5 v13.5 M496.2 76.5 v13.5 M598.7 76.5 v13.5" stroke-width="1.3"/>
</g>
<rect x="656.8" y="77" width="28.8" height="38.5" fill="#fff" stroke="#000" stroke-width="0.8"/>
<text x="671.3" y="90.5" font-size="13.8" text-anchor="middle">8</text>
<path d="M660 101.4 h22 M682 101.4 l-5 -2.1 M682 101.4 l-5 2.1" fill="none" stroke="#000" stroke-width="0.55"/>
<text x="295.6" y="26.4" font-size="13.6" font-weight="bold" textLength="245" lengthAdjust="spacingAndGlyphs">2023/1/18/23UTC (17LT), Wednesday</text>
<text x="295.6" y="41.7" font-size="13.6" font-weight="bold" textLength="139" lengthAdjust="spacingAndGlyphs">FV3M0B0L2_GFS025</text>
<text x="154.6" y="64.2" font-size="25" textLength="462.5" lengthAdjust="spacingAndGlyphs">averaged surface downward shortwave flux</text>
<text x="604.4" y="66.9" font-size="22.8" textLength="77.6" lengthAdjust="spacingAndGlyphs">W/m**2</text>
<g font-size="13.6">
<text x="114" y="240.7" textLength="31.3" lengthAdjust="spacingAndGlyphs">36°N</text>
<text x="114" y="502.3" textLength="31.3" lengthAdjust="spacingAndGlyphs">32°N</text>
<text x="143.8" y="625" textLength="41.3" lengthAdjust="spacingAndGlyphs">102°W</text>
<text x="373.5" y="625" textLength="34.7" lengthAdjust="spacingAndGlyphs">98°W</text>
<text x="599.8" y="625" textLength="34.8" lengthAdjust="spacingAndGlyphs">94°W</text>
<text x="205.2" y="620.3" textLength="135" lengthAdjust="spacingAndGlyphs">Min= 1.2 Max= 297.8</text>
</g>
<g shape-rendering="crispEdges">
<rect x="163.50" y="628.3" width="34.40" height="14.3" fill="#0000fa"/>
<rect x="197.60" y="628.3" width="34.40" height="14.3" fill="#0066f8"/>
<rect x="231.70" y="628.3" width="34.40" height="14.3" fill="#00d2ff"/>
<rect x="265.80" y="628.3" width="34.40" height="14.3" fill="#00e6b4"/>
<rect x="299.90" y="628.3" width="34.40" height="14.3" fill="#00c850"/>
<rect x="334.00" y="628.3" width="34.40" height="14.3" fill="#32b414"/>
<rect x="368.10" y="628.3" width="34.40" height="14.3" fill="#96dc14"/>
<rect x="402.20" y="628.3" width="34.40" height="14.3" fill="#ffff00"/>
<rect x="436.30" y="628.3" width="34.40" height="14.3" fill="#ffd700"/>
<rect x="470.40" y="628.3" width="34.40" height="14.3" fill="#ffaa00"/>
<rect x="504.50" y="628.3" width="34.40" height="14.3" fill="#ff7800"/>
<rect x="538.60" y="628.3" width="34.40" height="14.3" fill="#ff3200"/>
<rect x="572.70" y="628.3" width="34.40" height="14.3" fill="#e10019"/>
<rect x="606.80" y="628.3" width="34.40" height="14.3" fill="#a0004b"/>
<rect x="640.90" y="628.3" width="34.40" height="14.3" fill="#55008c"/>
</g>
<g stroke="#000" stroke-width="0.6" fill="none">
<path d="M197.60 628.3 V642.6 M231.70 628.3 V642.6 M265.80 628.3 V642.6 M299.90 628.3 V642.6 M334.00 628.3 V642.6 M368.10 628.3 V642.6 M402.20 628.3 V642.6 M436.30 628.3 V642.6 M470.40 628.3 V642.6 M504.50 628.3 V642.6 M538.60 628.3 V642.6 M572.70 628.3 V642.6 M606.80 628.3 V642.6 M640.90 628.3 V642.6"/>
<rect x="163.5" y="628.3" width="511.5" height="14.3" stroke-width="0.5" stroke="#555"/>
</g>
<g font-size="13.8" text-anchor="middle">
<text x="197.6" y="658" textLength="14.5" lengthAdjust="spacingAndGlyphs">20</text>
<text x="265.8" y="658" textLength="14.5" lengthAdjust="spacingAndGlyphs">60</text>
<text x="334.0" y="658" textLength="20.6" lengthAdjust="spacingAndGlyphs">100</text>
<text x="402.2" y="658" textLength="20.6" lengthAdjust="spacingAndGlyphs">140</text>
<text x="470.4" y="658" textLength="20.6" lengthAdjust="spacingAndGlyphs">180</text>
<text x="538.6" y="658" textLength="20.6" lengthAdjust="spacingAndGlyphs">220</text>
<text x="606.8" y="658" textLength="20.6" lengthAdjust="spacingAndGlyphs">260</text>
</g>
</svg>
</body></html>
